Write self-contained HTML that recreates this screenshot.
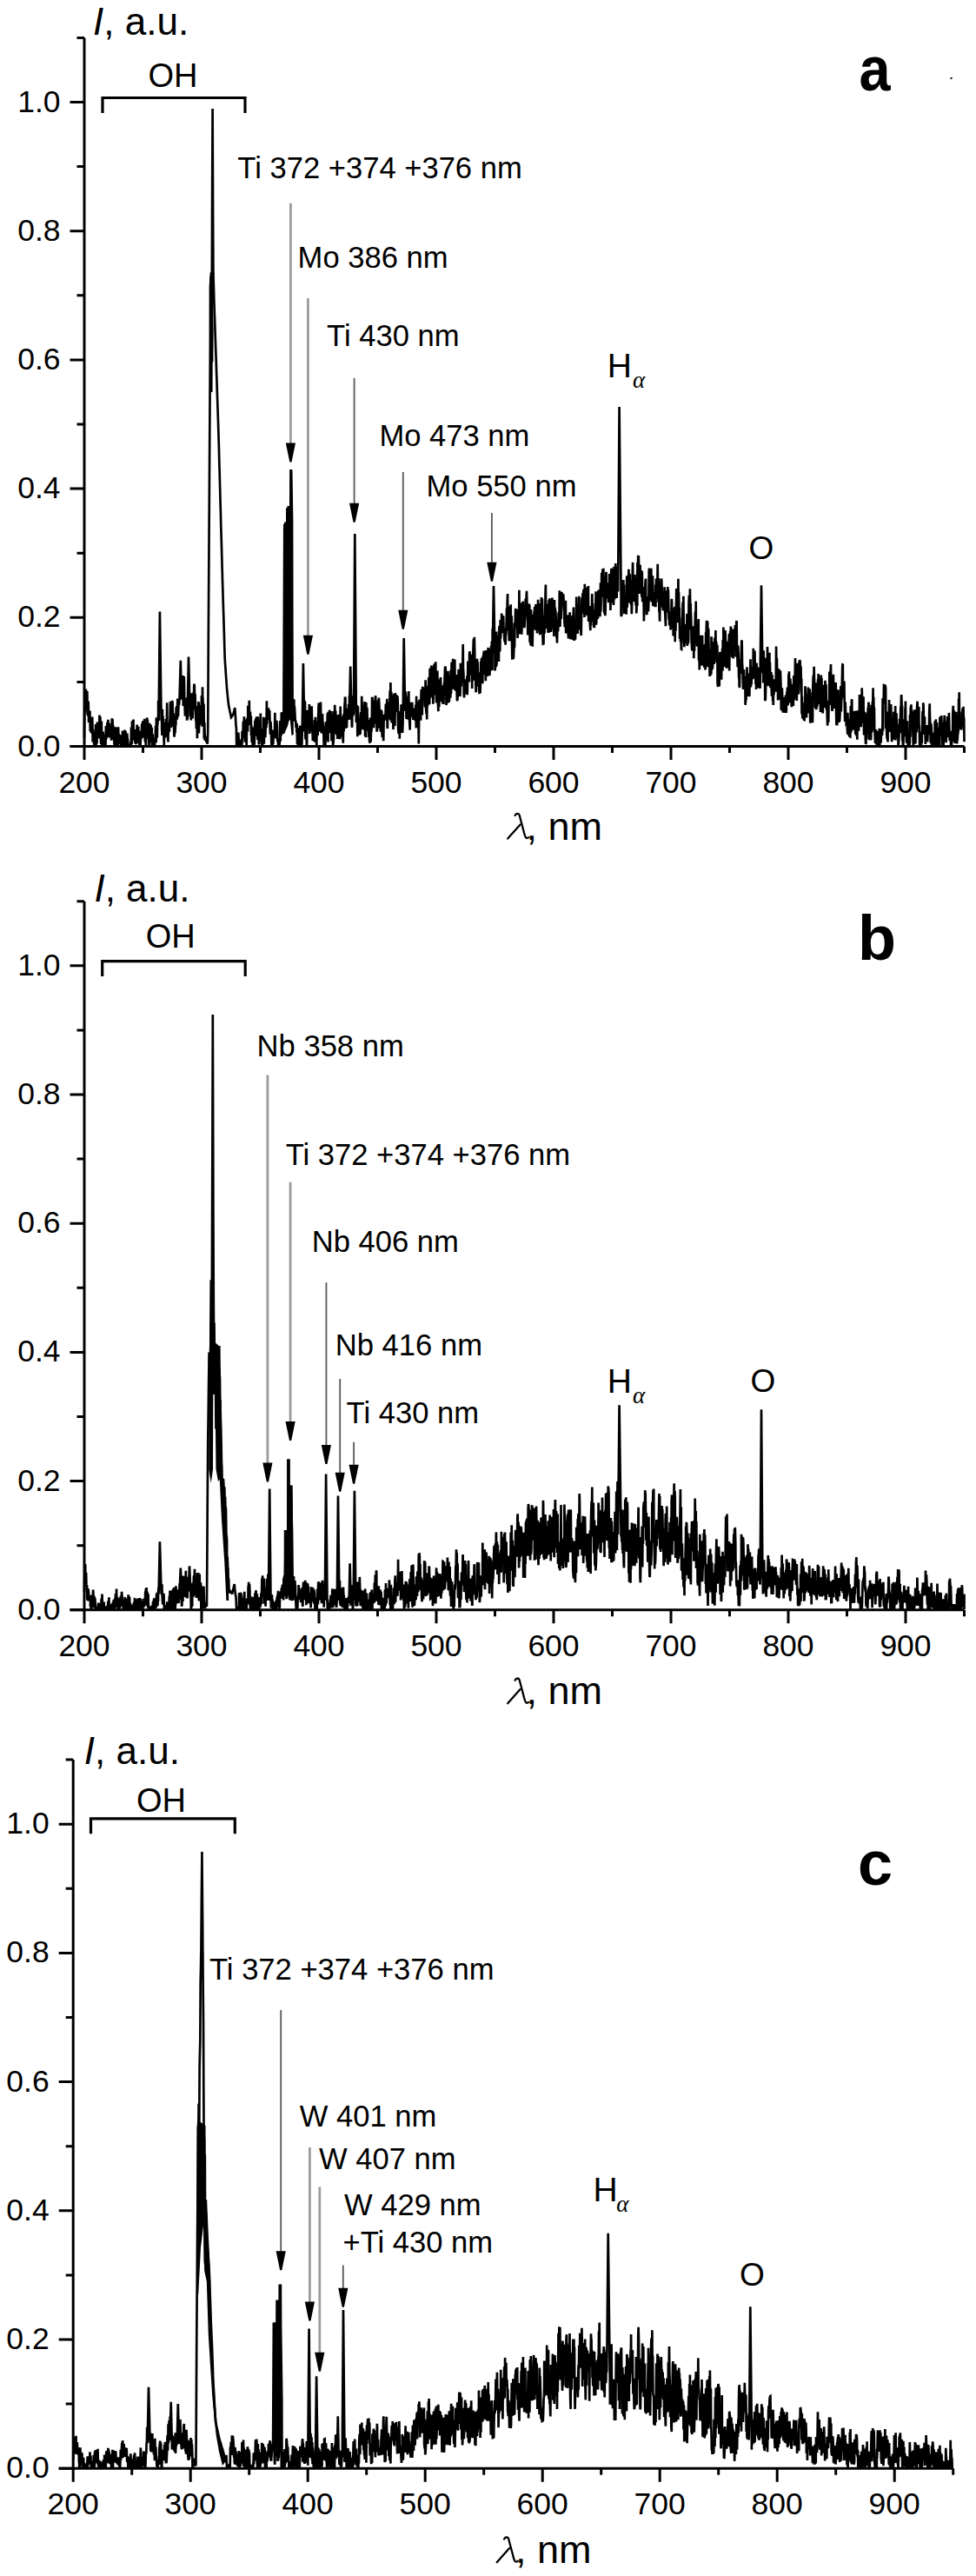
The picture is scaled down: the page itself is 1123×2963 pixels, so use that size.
<!DOCTYPE html><html><head><meta charset="utf-8"><style>html,body{margin:0;padding:0;background:#fff;}svg{display:block;}text{font-family:"Liberation Sans", sans-serif;}</style></head><body><svg width="1123" height="2963" viewBox="0 0 1123 2963"><rect width="1123" height="2963" fill="#fff"/><g stroke="#000" stroke-width="3" fill="none"><path d="M97 858.5V43.4M80.5 858.5H1109.5" /><path d="M80.5 858.5H97M88.5 784.4H97M80.5 710.3H97M88.5 636.2H97M80.5 562.1H97M88.5 488H97M80.5 413.9H97M88.5 339.8H97M80.5 265.7H97M88.5 191.6H97M80.5 117.5H97M88.5 43.4H97M97 858.5V874M164.5 858.5V866M232 858.5V874M299.5 858.5V866M367 858.5V874M434.5 858.5V866M502 858.5V874M569.5 858.5V866M637 858.5V874M704.5 858.5V866M772 858.5V874M839.5 858.5V866M907 858.5V874M974.5 858.5V866M1042 858.5V874M1109.5 858.5V866" /></g><g font-size="35.5" fill="#000"><text x="69.5" y="869.5" text-anchor="end">0.0</text><text x="69.5" y="721.3" text-anchor="end">0.2</text><text x="69.5" y="573.1" text-anchor="end">0.4</text><text x="69.5" y="424.9" text-anchor="end">0.6</text><text x="69.5" y="276.7" text-anchor="end">0.8</text><text x="69.5" y="128.5" text-anchor="end">1.0</text><text x="97" y="911.5" text-anchor="middle">200</text><text x="232" y="911.5" text-anchor="middle">300</text><text x="367" y="911.5" text-anchor="middle">400</text><text x="502" y="911.5" text-anchor="middle">500</text><text x="637" y="911.5" text-anchor="middle">600</text><text x="772" y="911.5" text-anchor="middle">700</text><text x="907" y="911.5" text-anchor="middle">800</text><text x="1042" y="911.5" text-anchor="middle">900</text></g><text x="107.1" y="39.9" font-size="44"><tspan font-style="italic">I</tspan>, a.u.</text><g transform="translate(583 965.6)" stroke="#000" fill="none" stroke-width="2.3" stroke-linecap="round"><path d="M9.6 -27.6C10.8 -30.2 13.6 -30.6 14.6 -28.2L20.6 -5.6C21.6 -1.6 23.2 -0.6 25.4 -2.4"/><path d="M15.6 -17.2L1.2 -1.0"/></g><text x="605.4" y="965.6" font-size="45">, nm</text><path d="M118 130V112.5H282V130" stroke="#000" stroke-width="3.2" fill="none"/><text x="199" y="99.8" font-size="38" text-anchor="middle">OH</text><path d="M97 848.8 97.3 818.7 97.7 819.6 97.9 814.7 98.2 811 98.3 814.9 98.8 803.8 98.9 792.5 99.3 815.9 99.8 803.1 100.1 801.8 100.3 794.9 100.7 822.5 101.1 816.1 101.3 823.4 101.3 819.9 101.7 806.6 102.1 830.9 102.4 829.6 102.7 819.3 103.1 823 103.4 817.4 103.8 840.4 104 841.1 104.3 838.3 104.4 830 104.8 825.2 105.1 842.9 105.5 830.1 105.7 843.9 106.2 824.5 106.5 840.5 106.7 853.6 107.1 838.9 107.4 851.6 107.7 847.6 108.2 855.5 108.3 847.3 108.5 857.8 108.7 842.1 109.2 857.8 109.4 854.8 109.9 857.8 110.1 833.1 110.4 857.8 110.8 851.5 111.1 848.1 111.5 855.6 111.9 830.5 112.2 834.7 112.5 841.2 112.8 843.9 113.1 848.8 113.6 847.8 113.9 838.4 114.3 830.6 114.5 822.6 114.8 842.8 115.3 824.4 115.6 832.8 115.9 850.4 116.2 854.7 116.5 856 116.8 829.6 117.2 853.3 117.7 857.8 117.9 846.3 118.2 857.8 118.6 841.6 118.9 851.2 119.2 845.4 119.6 852.2 120 850 120.2 856 120.7 855.9 120.9 844.8 121.2 857.8 121.5 857.8 121.9 834.9 122.4 850.2 122.6 843.5 123.1 847.1 123.3 833.8 123.6 830.6 124 848 124.4 827.8 124.8 842.5 125 835.5 125.3 840.5 125.6 831.6 126.1 848.5 126.3 837.7 126.6 835.3 127 847.3 127.3 838.2 127.8 833.7 128.1 851.7 128.4 842.8 128.8 826.2 129.1 829.9 129.5 827.1 129.8 836.2 130 845.4 130.4 834.4 130.7 850.7 131.1 845.5 131.5 856.7 131.8 852.5 132.2 851.5 132.3 857.8 132.7 857.8 133 838.3 133.6 836.5 133.7 857.8 134.1 857.8 134.4 851.9 134.7 857.8 135.2 857.8 135.5 843 135.7 857.8 136.1 836.2 136.4 848.3 136.8 844.7 137.1 845.9 137.4 848 137.8 855.8 138.2 849.1 138.5 856 138.8 847.1 139.2 857.8 139.5 857.8 139.8 845.4 140.2 852.4 140.5 857.8 141 840.6 141.1 853.8 141.5 840.6 141.9 843.2 142.3 854.6 142.6 846.7 142.9 852.4 143.1 857.8 143.6 839.6 143.9 857.8 144.2 856.3 144.6 841 144.8 846.2 145.3 857.8 145.6 846.4 146 857.8 146.3 843.6 146.6 849.8 147 850.5 147.2 855.7 147.6 857.8 147.9 857.8 148.3 857.8 148.6 857.8 149 857.8 149.3 857.8 149.6 857.8 150 857.8 150.3 852.8 150.7 857.8 151 836.6 151.4 850.9 151.7 856.2 152 829.3 152.4 845.1 152.7 844.5 153 833.1 153.5 827.6 153.6 838.4 154 840.3 154.4 851.7 154.6 849.9 155 839 155.4 854.7 155.8 846.8 156.1 854.9 156.5 854.9 156.8 847.9 157 854.1 157.4 840.7 157.7 833.6 158.1 844.8 158.4 851.8 158.7 850.4 159.2 835.8 159.5 855.3 159.8 854.6 160.1 846.8 160.5 857.8 160.8 840.5 161.1 857.8 161.4 857.8 161.8 851.4 162.2 846 162.5 843.1 162.9 849.8 163.1 834.3 163.6 832 163.7 843.9 164.2 831.1 164.5 829.3 164.8 848.2 165.2 847.2 165.5 846.4 165.8 848.4 166.3 826.8 166.5 843.5 166.9 853.2 167.2 843 167.5 851.6 167.9 857.8 168.1 847.7 168.6 832.2 169 835.5 169.2 825.4 169.5 843.6 169.8 827.8 170.2 849.4 170.7 848.3 170.8 841.6 171.3 851.6 171.6 857.8 171.8 842 172.2 831.8 172.5 848.1 173 843.6 173.3 846.4 173.6 833.9 173.9 843.4 174.4 854.1 174.7 836.7 174.9 857.8 175.3 845 175.7 845.4 176.1 857.8 176.2 857.8 176.6 850.8 177 851.9 177.3 857.8 177.6 854.5 177.9 857.8 178.3 853.1 178.7 849 179.1 834.7 179.4 850.2 179.6 854.2 179.9 825.6 180.4 833.8 180.7 848.6 180.8 848.1 181.1 831.5 181.3 833.4 181.8 824 182.1 826.1 182.1 806.1 182.4 813.5 182.6 828.9 183.9 703.6 185.6 828.9 185.7 821 186.1 826.9 186.2 838.5 186.5 845.9 186.9 815.7 187.1 843.8 187.5 823.5 187.8 838.3 188.1 844.5 188.4 844.9 188.8 857.5 188.8 856.7 189.1 831 189.5 846.4 189.8 837.8 190.1 848.5 190.6 842.1 190.8 827 191.2 829.7 191.4 836.6 191.9 831.1 192.2 808.2 192.5 845.7 192.8 833.7 192.9 846.2 193.2 849.4 193.5 853.5 193.8 830.9 194.1 842.3 194.5 837.2 194.9 841.4 195.2 833.8 195.6 826.1 196 806.8 196.3 836.5 196.6 834.6 196.9 836.8 197.2 828.1 197.6 829 197.9 820.1 198.2 805.9 198.6 807.9 198.9 835.4 199.2 830.7 199.6 827.8 199.6 820.3 200 831.8 200.3 844.7 200.6 847.6 201 838.3 201.2 828.9 201.5 843.1 202 832.6 202.3 834.5 202.7 813.5 203 822.7 203.4 812 203.6 827.5 203.9 826.1 204.3 803.4 204.6 820.3 204.9 809.7 205 824.1 205.3 815.6 205.6 809.6 206 811.1 206.4 805.8 206.5 806 207.8 759.9 208.9 804.8 209 790.8 209.3 797.6 209.7 791.9 210.1 790.6 210.5 777.1 210.8 812.1 211 779.1 211.4 788.1 211.7 778.1 212 785.4 212.2 803.4 213 823.7 213.8 804.2 213.9 817.5 214 802.7 214.4 821.4 214.7 802.4 215.1 828.8 215.5 813.2 215.8 827.4 215.9 808.1 217 755.5 218.4 812.6 218.5 809.8 218.8 824.3 219.1 814.7 219.6 806.2 219.8 828.4 220.1 810.8 220.5 797.2 220.8 814.1 221.3 822.4 221.5 826.4 222 816.2 222.2 817.5 222.5 800.9 222.9 796 223.2 795.3 223.2 789.8 223.5 786.7 223.8 788.9 224.2 811.8 224.5 798.1 224.9 810.6 225.3 829.2 225.5 812.1 225.9 837.9 226.3 823.3 226.7 831.8 226.9 849.2 227.2 835.6 227.7 828.9 228 837.5 228.3 808 228.6 807.5 228.9 843.5 229.4 822.2 229.7 834.2 230.1 817.2 230.4 810.9 230.6 829.1 230.9 822.1 231.4 832.1 231.7 817.8 232 799.9 232.4 827.7 232.7 835.8 233 790.3 233.4 832.1 233.4 802.2 233.7 811.7 234.1 826.7 234.5 809.4 234.8 849.8 235 847.9 235.3 830.9 235.8 851.9 236 846.6 236.4 848.5 236.6 847.9 236.9 851.1 237.1 851.5 237.4 852.4 237.8 853.3 238.2 854.1 238.3 854.6 238.8 855.5 238.8 854.8 239.1 844.9 239.2 843.7 239.4 811.3 239.8 734.1 240.1 688.6 240.5 620.4 240.7 591.1 241.1 525.2 241.4 477 241.8 411.8 242.1 358.2 242.3 339.8 242.5 328.5 242.7 317.6 242.8 342.2 243.1 434.5 243.2 450.9 243.4 400.7 243.7 339.8 243.9 300.9 244.1 234.4 244.5 144.1 244.6 124.9 244.8 175.5 245.1 252.4 245.4 310.2 245.6 318.5 245.8 326.1 246.2 339.8 246.2 342.1 246.5 350.6 246.9 363.1 247 364.3 247.1 368.3 247.6 383.2 247.9 392.3 248.2 401.2 248.6 412.3 248.9 422.5 249.2 431 249.6 442.3 249.8 450 250.1 458.9 250.6 473 250.9 482 251.3 494.8 251.4 498.4 251.5 501.6 252 518.3 252.3 532 252.7 543.9 253 556.9 253.2 563.3 253.5 575.9 253.9 588.9 254.2 602.4 254.5 613 254.9 625.8 255.2 637.3 255.7 656.7 255.8 658.4 255.9 664.3 256.3 677.3 256.6 687.5 257 700.7 257.4 712.4 257.6 720.8 258 733.1 258.2 741.5 258.6 754 258.7 757.7 258.9 760.9 259.3 766.2 259.6 771.2 260 777 260.3 781.3 260.7 786.3 261 791.8 261.1 792.4 261.3 794.1 261.6 797.3 261.9 800.6 262.4 805.4 262.7 808.1 263.1 811.1 263.1 811.3 263.5 813.1 263.7 814 264.1 816.3 264.3 817.2 264.7 819.1 265.1 820.8 265.5 822.6 265.7 823.6 266 825.2 266.1 825.1 266.3 824.7 266.7 824.1 267.2 823.4 267.5 822.9 267.8 822.5 268.2 821.9 268.5 821.5 268.5 821.1 268.8 820.3 269.2 818.4 269.5 817.5 269.7 816.4 270.1 814.8 270.3 814 270.5 816.9 270.9 823.4 271.2 829.4 271.4 833.1 271.9 837.4 272.2 857.8 272.4 846.3 272.5 851.5 272.9 856.8 273.2 857.8 273.6 843.4 273.8 849.8 274.3 842.5 274.5 847 274.9 852.4 275.2 857.8 275.6 857.8 275.9 851.2 276.3 857.8 276.6 857.8 276.6 857.8 277 857.8 277.1 856.7 277.5 850.5 277.9 855.8 278.3 857.8 278.6 841.1 278.9 854.3 279.2 849.5 279.6 839.4 279.9 829.5 280.3 848.9 280.6 845.6 280.9 824.2 281.4 838 281.6 839.3 281.9 841.4 282.3 853.6 282.7 827.7 282.9 831 283.3 842.8 283.7 857.8 283.9 835.7 284.4 826.1 284.6 839.5 285.1 841.4 285.3 813.7 285.6 813.9 286 821.7 286.4 824.9 286.8 805.7 287.1 834.3 287.4 826.5 287.8 821.1 288 818.5 288.3 834.2 288.8 823.4 289 845.9 289.3 834.1 289.7 854 290 848.6 290.3 841.4 290.7 857.8 291.1 857.8 291.5 836.4 291.8 854.3 292.1 857.8 292.5 853.2 292.8 856.7 293.1 836.2 293.4 829.9 293.7 829.8 294 828.3 294.5 828.6 294.7 846.7 295.2 824.2 295.4 837.7 295.7 845.2 296.1 837.8 296.5 851 296.7 824.2 297.1 840.1 297.4 833.4 297.8 854.9 298.2 856.3 298.4 851 298.8 849.2 299.2 834.7 299.6 829.7 299.8 820.6 300.1 852.3 300.5 841.7 300.8 838 301.1 848.6 301.4 857.8 301.8 857.8 302.1 857.8 302.5 850.1 302.9 854.1 303.2 824.7 303.5 837.9 303.8 855.8 304.2 836.5 304.5 842 304.9 826.5 305.3 848.2 305.6 839.8 305.9 830 306.2 825.2 306.5 837 306.9 806.2 307.2 832.6 307.6 819.6 307.9 815.7 308.2 822.2 308.7 828 309 814.3 309.3 825.1 309.7 821.4 309.9 820.9 310.2 817.1 310.7 838.3 311 844.8 311.4 829.8 311.7 833.7 312 843 312.4 857.8 312.7 847 312.9 855.3 313 857.8 313.4 857.8 313.6 857.8 314 839.6 314.3 855.9 314.6 847.5 315.1 846 315.4 844.6 315.8 841.1 316 844.5 316.4 819.7 316.6 836.7 317.1 845.7 317.5 849.4 317.8 829.1 318.2 830.1 318.4 829.1 318.8 838.7 319 847.9 319.4 852.9 319.7 849.6 320.1 857.8 320.4 856.9 320.7 856.3 321.1 857.8 321.1 857.8 321.5 857.8 321.8 853.9 322.1 834.3 322.4 829.1 322.7 852.7 323.2 831.9 323.6 846.1 323.8 820.5 324.2 819.5 324.6 823.8 324.8 832.1 325.1 826.8 325.1 842.2 325.5 824.2 325.8 821 326.3 843.7 326.4 822.2 327.3 602.9 328 823.1 328.2 813 328.4 825.4 328.8 836.1 329.2 824.1 329.6 835 329.6 824 330.4 584.3 331.2 825 331.5 829.2 331.8 810.7 332.2 810 332.5 828.1 332.9 819.8 333.3 804.9 333.4 826.2 334.5 539.9 336.4 827.9 336.6 821.6 337 817.4 337.4 815.8 337.7 820.7 337.9 807.7 338 829.6 338.3 804.3 338.7 827.7 338.9 812.7 339.4 821.4 339.7 829 339.9 829.3 340.3 829.5 340.6 837 341 835.5 341.4 842.5 341.6 832.1 342 856.2 342.4 843.4 342.6 856.5 342.7 843.1 343 843.8 343.4 857.8 343.7 837 344 839.5 344.5 843.6 344.8 857.7 345.1 834.6 345.4 844.7 345.8 857.1 346.1 844.4 346.3 857.8 346.7 842.6 347 857.8 347.4 854.6 347.7 841.7 348.9 762.9 350.3 841.5 350.4 812.2 350.7 806 351 809.3 351.4 848.1 351.8 850.5 352.2 845.8 352.4 841.6 352.9 857.8 353.1 856.9 353.5 827.3 353.8 816.9 354.1 838.5 354.5 820.8 354.9 823 355.3 818.8 355.4 833.1 355.9 810 356.2 843.9 356.6 838.8 356.8 823.2 357.3 840.9 357.5 815.7 357.9 816.3 358.2 817.2 358.6 812.4 358.9 822.5 359.3 842.4 359.5 838.4 359.9 852 360.3 841.7 360.6 835.1 361 835.2 361.3 836.3 361.6 853.1 362 827.9 362.2 843.2 362.6 853.8 362.9 824.8 363.2 835.3 363.6 833.8 364 836.5 364.2 857.4 364.6 838.1 364.9 829.6 365.3 830.4 365.6 845.9 365.9 833.2 366.3 819.2 366.7 808.6 366.9 836.4 367 819.5 367.4 840.4 367.6 834.8 368 825.3 368.3 841.5 368.7 828.5 369 807.6 369.3 834.7 369.7 841.7 370.1 843.2 370.4 823.9 370.8 830.3 371 821 371.3 833.1 371.7 830.7 372 839.8 372.4 846.6 372.7 857.8 373 851.2 373.3 836.1 373.8 850.8 374 835.3 374.4 857.8 374.8 836.8 375.1 830.1 375.4 850.8 375.7 845.1 376.2 848 376.4 841.5 376.8 820.4 377.1 831 377.5 853.6 377.8 818.8 378.1 832.6 378.5 825.2 378.7 822.1 379.2 816.7 379.5 822.1 379.8 843.3 380.2 823.7 380.5 827.6 380.9 838.6 381.1 818.1 381.5 852.3 381.8 835.7 382.2 820.7 382.6 839.2 382.8 846.5 383.1 857.2 383.6 854.5 383.9 850.5 384.1 818.1 384.6 834 384.9 839.9 385.2 810.7 385.5 820.8 385.9 834 386.2 817.5 386.6 844.3 387 824.7 387.2 825.8 387.5 845.6 387.9 823.3 388.3 849.9 388.7 844.8 389 822.6 389.4 837.3 389.7 821.7 390 829 390.3 832 390.6 826.2 391 848.9 391.3 850.1 391.7 812.6 391.9 825.4 392.4 847.4 392.6 830.9 393.1 824.1 393.4 831.8 393.6 841.6 394 846.1 394.4 841.6 394.8 854.8 395 842.8 395.3 821.6 395.4 840.8 395.6 841.1 396 828.1 396.5 811.5 396.8 807 397 801.6 397.4 803 397.8 838.1 398 826.9 398.5 822.8 398.7 818.6 399 836.9 399.3 826.3 399.4 824.3 399.7 814.8 400.1 821.8 400.3 822.8 400.8 827.2 401 809.9 401.5 823.8 401.7 827.9 402 800.2 402.1 814 403.2 766.6 404.3 814 404.5 828.4 404.8 822.9 404.8 834.5 405.1 836.7 405.5 802.2 405.8 808.2 406.2 818.9 406.4 823.4 406.8 800.1 407 821.2 408.3 614 409.9 830.9 410.1 826.9 410.6 811.3 411 813.3 411.3 847.2 411.5 830.8 411.6 845.4 411.9 812.2 412.2 838.8 412.6 838 412.8 840.5 413.3 826.5 413.6 845.2 414 843 414.2 826.7 414.6 844.5 414.9 823.1 415.3 819.2 415.7 835.4 415.9 838.6 416.2 800.8 416.7 814.9 416.9 822.8 417.2 836.8 417.7 819.3 418 839.6 418.3 814 418.3 825.7 418.6 831.3 419.1 835.6 419.3 811.9 419.7 807 420.1 846.8 420.4 827.4 420.7 846 421 848 421.3 808.1 421.7 838.7 422 830.4 422.4 813.8 422.7 827.5 423 840.8 423.4 829 423.7 828 424.1 836.4 424.4 848 424.6 837.1 425.1 852.3 425.3 853.1 425.6 854.8 426 825.4 426.4 853.5 426.7 851.3 427 838.6 427.4 841.6 427.8 831 428.1 803.2 428.5 803.2 428.7 836.9 429.1 835.4 429.4 832.4 429.8 807.3 430.1 837.3 430.5 814.6 430.7 818.9 431.2 805.8 431.4 832.6 431.8 802.4 432.2 800.3 432.4 830.6 432.7 807.9 433.2 820 433.6 841.6 433.9 834 434.1 839.8 434.6 809.7 434.7 836.2 435.1 804.9 435.5 831 435.9 802.6 436.3 809.1 436.5 815 436.9 837.7 437.3 823.4 437.5 830 437.9 841.7 438.2 816.6 438.7 817.5 438.8 829.9 439.3 818.1 439.5 841 439.9 848.2 440.2 844.3 440.6 838.1 440.7 827.9 440.9 831 441.2 852.2 441.6 828.9 442 822 442.3 828.8 442.6 826.6 442.9 821.6 443.4 828.1 443.5 822.9 443.9 809.9 444.4 810.7 444.6 812.4 444.9 819.7 445.3 803.7 445.6 836.3 445.9 838.1 446.4 808.1 446.6 825.2 446.9 822.8 447.3 826.3 447.8 824.8 448 824.3 448.3 811.7 448.7 794.2 449.1 828.5 449.4 785.1 449.8 821.8 450 808.9 450.3 795.7 450.7 831.5 451 813.9 451.3 820.2 451.6 824.6 452 811.7 452.5 839.1 452.8 833.9 453 801.4 453.4 798 453.8 833.9 454.1 810.9 454.4 835.1 454.8 798.1 455 797.4 455.5 809.2 455.8 818.9 456.1 809.9 456.4 813.9 456.7 800.7 457.1 800.9 457.5 801.8 457.7 807.2 458.1 838.2 458.6 843.8 458.7 829.9 459.1 837.8 459.4 822.5 459.8 849.8 460.1 838.8 460.6 817.7 460.7 832.2 461.1 843.1 461.2 836.1 461.6 810.2 461.7 820.3 462.1 816.7 462.5 838.1 462.7 814.5 463.1 843 463.5 832 463.7 819.7 464.7 734 466.1 817.9 466.2 800.8 466.5 797.3 466.8 795.7 467.3 803.6 467.5 826.9 467.8 809.4 468.3 819.8 468.6 816.1 469 827.4 469.3 801.2 469.6 823.7 469.9 813.1 470.3 795 470.6 828.1 471 827.5 471.2 830.5 471.7 839.6 471.9 822.9 472.2 824.8 472.7 823.2 472.9 807.7 473.3 822.4 473.7 820.1 474 808 474.3 809 474.7 823.1 475.1 819.8 475.4 827.9 475.6 821.5 475.9 820.3 476.3 817.2 476.6 827.9 477.1 814.5 477.4 827.6 477.6 827.7 478 828.5 478.3 810.6 478.8 837.4 479.1 800.7 479.4 834.7 479.8 818.5 480.1 834.4 480.5 818.4 480.7 812.8 481.1 807.1 481.8 855.5 482.4 806.3 482.8 804.9 483.1 809.8 483.4 824 483.8 815.9 484.1 828.8 484.5 801.9 484.8 793 485.1 799.4 485.4 798.9 485.8 822.4 486.2 789.8 486.5 806.1 486.9 792.1 487.2 799.1 487.5 790.5 487.9 792.6 488.2 794.8 488.6 800.1 488.9 812.2 489.2 812.8 489.6 782.2 489.8 788.7 490.1 813.7 490.6 820.8 490.8 790.1 491.2 827.6 491.5 805.2 491.9 802 492.1 812.3 492.6 789.1 492.8 800.1 493.3 779.1 493.6 790.7 493.9 793.4 494.2 810.2 494.6 768.7 495 803 495.3 794.3 495.5 775.2 495.8 775.1 496.3 765.6 496.6 768 496.8 772.3 497.3 781 497.6 801.6 497.9 785.5 498.4 809.7 498.6 801.8 498.9 766.3 499.3 781.3 499.6 763.6 500.1 799.4 500.3 776.9 500.6 797.5 501 771.5 501.2 761.3 501.7 787.9 502.1 807.5 502.1 797.2 502.3 808.4 502.7 795.3 503 779.2 503.3 771.4 503.7 805.7 504.1 812.4 504.3 818.3 504.7 809.5 505 811.8 505.3 812.9 505.7 781.3 506 804.7 506.4 806.8 506.8 805.2 507 779 507.4 794.8 507.7 798.8 508.1 788.7 508.4 795.3 508.8 803.8 509.1 798.3 509.4 809.4 509.7 802.1 510.2 788.2 510.4 809.9 510.8 790.1 511.1 786.2 511.4 785.6 511.8 775.1 512.1 766.7 512.5 767.5 512.8 770.7 513.2 783.2 513.5 811.1 513.9 803.8 514.1 787.2 514.5 808 514.9 788.2 515.2 808.8 515.5 771.9 515.9 802.2 516.1 793.1 516.6 807.1 516.9 806.6 517.2 796.1 517.5 793.9 517.9 776.8 518.3 802.8 518.6 770.8 519 798.1 519.1 790.8 519.6 761.7 520 783.3 520.2 792.9 520.5 783.2 520.9 762.2 521.2 757.8 521.5 792.7 522 772.9 522.3 778.9 522.6 790.8 522.7 773.8 523 780.9 523.3 758.5 523.6 794.3 523.9 778.8 524.2 788.5 524.6 790.4 525 795 525.2 776.1 525.5 792.2 525.9 804.9 526.2 806.1 526.7 800.3 526.9 777 527.3 789.1 527.7 769.9 527.9 800.7 528.3 787.3 528.7 777.5 528.9 771.2 529.4 801.1 529.7 787.9 529.9 762.8 530.4 772.3 530.6 789.5 531.1 772.3 531.4 763.5 531.7 785.1 532 763.6 532.4 762.5 532.7 741.1 533 769.3 533.4 774.5 533.7 797.8 534.1 802.5 534.3 787.8 534.6 781.5 535.1 796.7 535.3 781.2 535.8 798.4 536.1 790.7 536.5 781.3 536.7 791 537.2 787.3 537.4 777.5 537.7 799.3 538.1 779.6 538.4 760.6 538.8 763.1 539.2 780.8 539.4 762.7 539.9 784.5 540.1 752 540.6 749.3 540.7 776.4 541.1 768.5 541.5 757.9 541.8 756.7 542.1 760.7 542.6 756.2 542.8 752.8 543.1 773.5 543.2 792.1 543.4 752.9 543.9 783 544.2 757.8 544.6 743.3 544.9 735 545.1 748.3 545.5 744.9 545.8 732.8 546.2 750.7 546.6 782.4 546.9 760.2 547.1 778.7 547.6 795.5 547.9 795.8 548.1 786 548.7 778.6 549 757.8 549.2 774.2 549.7 761.6 549.9 780.8 550.3 779.1 550.6 788.8 551 789.5 551.3 779.6 551.5 798.2 552 786.2 552.3 773.3 552.6 797.3 553 779.1 553.3 760.8 553.7 765.1 554 756.7 554.3 781 554.6 767.2 554.9 778.7 555.3 786.2 555.6 754.4 556 773.9 556.3 752.8 556.8 749.9 557 748.6 557.3 773.2 557.8 751.2 558.1 776 558.4 758.1 558.8 783.2 559.1 747.9 559.3 778 559.8 748.7 560 753.5 560.5 778.1 560.7 759.1 561 755.4 561.4 752.3 561.7 744.9 562.1 777.5 562.5 770.2 562.8 772 563 759.7 563.4 777 563.7 760.8 563.7 772 564.1 771.1 564.3 746.2 564.8 755.1 565 742.9 565.5 748.2 565.9 737.5 566.1 754.8 566.5 771 566.7 723.1 566.8 751.4 568 674 569.4 748.6 569.6 771.4 569.9 756.7 570.1 739.2 570.5 755.3 570.8 767.5 571.1 726.4 571.4 765.1 571.8 755.9 572.2 744.9 572.5 756.4 572.9 737.2 573.2 749.8 573.5 731 573.9 761.1 574.2 726.3 574.6 719.8 574.8 749.3 575.3 747.8 575.7 712.9 575.8 734.5 576.2 732.2 576.6 719.7 576.9 720 577.2 705.6 577.7 713.2 577.9 712.5 578.4 728.2 578.6 725.3 578.9 708.9 579.2 709.2 579.5 722.9 580 723.3 580.4 736.9 580.5 726.2 580.9 738.6 581.2 722.8 581.6 741.7 581.9 731.8 582.4 727.7 582.7 714.5 583.1 699.3 583.4 725.5 583.7 693.1 584.1 683.1 584.2 713.7 584.3 716 584.7 720.7 585 697.6 585.4 715.5 585.8 737.2 586 736.4 586.3 725.2 586.8 737.1 587 697.3 587.3 726.9 587.7 695.3 588 737.5 588.5 730.5 588.7 708.3 589.2 750.7 589.4 758.8 589.8 732.7 590.2 736.3 590.4 748.4 590.8 757.8 591.1 752.7 591.4 743.6 591.8 716.6 592 744.9 592.4 721.5 592.8 713.4 593.2 699.9 593.5 706.7 593.7 720.5 594.2 716.5 594.5 715.6 594.8 710.8 595.1 714.6 595.6 734 595.8 700.8 596.1 720.1 596.6 703.4 596.9 717.1 597.2 708 597.4 678.7 597.8 729.4 598.2 701.5 598.6 727.6 598.9 693.4 599.2 704.3 599.6 706.5 599.8 707.2 600.2 729.8 600.5 721.8 600.9 697.7 601.2 718.8 601.6 691.7 601.9 696.7 602.3 712.5 602.6 709.8 602.8 710 603.3 722.1 603.6 718.9 603.8 714.8 604.3 708.3 604.7 688.7 604.7 707.4 605 701.5 605.2 692.3 605.6 687.4 606 679.8 606.4 694.7 606.5 705.3 606.9 701.7 607.3 730.5 607.7 702.7 608 726.6 608.3 694.7 608.6 695.4 609 709.6 609.3 695.4 609.6 737.8 609.9 738.7 610.1 723.2 610.4 735.6 610.7 742.6 611 701 611.4 725.8 611.8 707 612.1 732.2 612.3 719.9 612.7 743.8 613 722.4 613.4 718 613.8 719.1 614.1 720.9 614.5 703.7 614.7 722.9 615.1 698 615.3 715.8 615.8 724.3 616 712.7 616.4 695 616.6 725.1 617.1 698.3 617.4 718.9 617.8 712.6 618.1 728.4 618.4 723.6 618.8 700.9 619.1 689.8 619.5 723.5 619.8 707.7 620.1 699.4 620.5 701.1 620.7 694 621.2 730.3 621.4 704.2 621.8 719.8 622.1 729.2 622.4 710.9 622.9 687.1 623.3 718 623.6 722 623.9 688.6 624.3 708.1 624.5 732.1 624.8 740.7 625.1 740.6 625.5 740.4 625.9 707.8 626.2 712.5 626.5 728.7 626.9 713.5 627.2 707.7 627.6 681.1 627.9 672.5 628.2 719.6 628.5 719.7 628.9 694.6 629.3 723.1 629.5 711.6 629.9 704.5 630.3 712.7 630.5 727.5 630.7 724.2 630.9 713.7 631.3 728 631.5 690.2 631.9 719.2 632.4 688.2 632.6 717.6 633 704.5 633.3 689.4 633.5 700.9 633.9 726.7 634.4 723.6 634.6 718.9 635 712.9 635.4 687.5 635.6 716 636.1 715 636.4 708.2 636.7 721.7 636.9 694.7 637.4 731.9 637.7 699.2 638 690.1 638.3 718.1 638.6 698.7 638.9 702.7 639.3 703 639.8 712.1 639.9 720.2 640.4 733.5 640.7 729 641 739.6 641.4 715.5 641.7 714.7 642 726.4 642.5 718.8 642.7 704.6 643 708.6 643.5 708.3 643.8 679.3 644 706.4 644.5 720.9 644.8 683.5 645.1 685.4 645.4 693.9 645.7 712.2 646.1 682.4 646.4 680.9 646.8 690.7 647.2 685.9 647.5 684.9 647.7 696.9 648.1 683.2 648.5 688.4 648.7 698.2 649.1 703.3 649.5 715.9 649.9 721.4 650.1 690.8 650.5 710.5 650.9 690.7 651.1 724.7 651.2 728.4 651.5 707 651.8 713.7 652.1 726.7 652.4 724.4 653 707.6 653.1 717.2 653.6 720.7 653.8 730.3 654.1 734.4 654.6 726.5 654.9 730.9 655.2 716.1 655.6 704.4 655.9 711.4 656.2 735 656.6 734.3 657 722.1 657.2 711.4 657.6 732.3 658 731.7 658.3 721.8 658.7 708 659 719.2 659.3 736.1 659.6 708.5 660 698.5 660.3 709.2 660.7 736.9 660.9 728.4 661.2 718.8 661.6 719.7 662 735.6 662.3 725.6 662.6 718.7 663.1 712.5 663.2 686.5 663.6 699 664 707.5 664.2 728.3 664.7 727.7 665 695.9 665.3 707 665.7 701.8 665.9 724.6 666.4 685.8 666.6 710.1 667 709.2 667.4 706.8 667.7 710.5 668.1 705 668.4 727.6 668.7 731.1 669 712.8 669.4 691.1 669.6 687.5 670 703.6 670.4 683.2 670.8 682.7 671.2 684.1 671.5 677.9 671.7 705.7 671.8 692.7 672.1 681.5 672.5 710 672.8 671.8 673.2 702.5 673.4 681.4 673.8 705.3 674.2 701.5 674.4 704.7 674.7 676.6 675.2 707.8 675.4 687.3 675.9 675.2 676.2 702.4 676.4 708.2 676.9 674 677.1 714.9 677.5 703.4 677.9 712.2 678.3 697 678.6 710.3 678.8 716.8 679.3 725.2 679.5 700.1 680 719.6 680.2 697.8 680.4 701 680.9 705.5 681.3 683 681.6 699.2 681.9 699.9 682.1 694.1 682.6 715.2 682.9 703.7 683.2 721.7 683.5 716.9 683.9 722.2 684.3 701.1 684.5 711.7 685 717.4 685.2 707.2 685.6 680.2 685.9 718.5 686.3 715.2 686.5 680.4 687 708.9 687.2 688.5 687.6 711.1 688 711.6 688.3 685.7 688.6 678.9 688.9 704.4 689.4 694.6 689.6 708 689.9 678.3 690.4 709.2 690.7 691.3 691 670.3 691.3 703.5 691.8 677.8 692 687.1 692.2 663.3 692.3 658.9 692.7 674.4 693 672.6 693.4 654.6 693.8 657.8 693.9 681.4 694.4 653.7 694.7 685.2 695.1 702.4 695.4 702.3 695.7 706.2 696 703.6 696.4 708.1 696.7 699 697.1 667.6 697.5 657.7 697.7 688.5 698.1 681.7 698.4 675 698.8 682.1 699.1 683 699.5 670.2 699.8 675.8 700.1 693.1 700.5 675.9 700.9 681.9 701.1 659.9 701.4 668.4 701.8 681.4 702.1 686.3 702.4 702 702.8 677.5 703.2 658.6 703.5 654.1 703.8 654.5 704.1 664.7 704.4 685.1 704.9 693 705.2 692.3 705.6 685.3 705.9 696 706.3 686.7 706.6 651.8 706.7 662.7 706.9 664.4 707.1 689.5 707.5 673.8 707.8 673.3 708.3 648 708.5 660.2 708.9 679.2 709.2 681 709.6 688 710 671.1 710.2 666 710.5 680.1 710.9 652.1 711.1 680.4 712.6 468 714.6 683.1 714.6 706 714.9 709 715.4 707 715.6 696.4 716 697.6 716.4 679.5 716.7 698.4 716.9 676.6 717.3 667 717.7 687.9 718 672.4 718.4 705.9 718.6 698.2 719 705.2 719.4 688.3 719.7 692.9 720 688.5 720.3 698.7 720.7 706.7 721 672.7 721.3 662.3 721.7 698.7 722.1 670.8 722.4 690.1 722.7 668.1 723 675.3 723.1 667.1 723.4 654.8 723.8 692.4 724.1 659.8 724.4 693.5 724.7 660.8 725 693.3 725.4 692 725.7 682.5 726.1 695.8 726.4 668 726.8 706.2 727.2 693 727.4 679.1 727.7 661.9 728.1 646.9 728.4 665.9 728.7 681.9 729.2 680 729.5 662.3 729.9 692.1 730.2 661.1 730.5 667.2 730.8 678.5 731.1 668.3 731.6 696.3 731.9 670.7 732.3 705.5 732.5 700.6 732.8 684.1 733.2 658.2 733.3 697.1 733.4 647.2 733.8 669 734.2 639.8 734.6 639.7 734.8 639.1 735.3 658 735.5 682.9 735.8 672.3 736.2 667.8 736.6 649.7 736.8 665.4 737.3 657.4 737.5 666.6 738 656.1 738.3 686.7 738.5 679 738.8 657.3 739.2 692.3 739.6 687 740 675.1 740.3 683.4 740.7 696.1 740.9 714.5 741.3 681.9 741.6 678.5 741.9 682.9 742.2 680.1 742.6 668.8 743 665.6 743.2 685.5 743.4 689.7 743.7 689.5 743.9 706.2 744.3 707 744.7 688.4 745.1 686.8 745.4 687.3 745.7 689.3 746 703.4 746.4 690.3 746.7 657.1 747.1 653.6 747.5 686.2 747.6 682.7 748.1 691 748.3 684.6 748.7 681.1 749 687.4 749.3 653.7 749.7 692.6 750 675.3 750.5 691.2 750.7 680.4 751 662.3 751.3 697.3 751.8 681.1 752.1 684.8 752.5 687 752.7 690.4 753.2 684.5 753.3 697.6 753.9 695.7 754.2 672.6 754.4 698.3 754.9 670 755 665.6 755.5 679.8 755.7 688.8 755.7 679.1 756.2 673.3 756.5 661.6 756.7 648.7 757.1 679.8 757.6 693 757.8 692.3 758.1 665.1 758.4 703 758.8 703.9 759.1 714.7 759.5 691 759.9 695.7 760.2 674.5 760.4 678.5 760.8 672 761.2 665.5 761.5 675.3 761.9 683.8 762.2 698.8 762.6 681.3 762.9 702.2 763.1 694.3 763.6 687.2 763.9 680.6 764 689.8 764.3 701 764.6 675.3 765 702.7 765.2 704.2 765.6 712.4 765.9 720.3 766.3 689.5 766.5 704.8 767 699.7 767.2 680.9 767.5 679.6 768 695.8 768.3 675.1 768.6 697.1 768.9 678.6 769.4 702.2 769.6 712.4 770 703.6 770.2 719.4 770.7 711.2 771 718 771.4 709 771.6 724.5 772 711.6 772.4 708.3 772.8 688.8 773.1 691.9 773.3 712.2 773.6 721.9 774 709.9 774.2 699.6 774.4 711.1 774.7 731.4 775.1 714.2 775.3 719.4 775.6 700.2 776.1 713.9 776.4 697.8 776.7 738.3 777 708.1 777.4 726.1 777.6 712.6 778.1 688.4 778.3 676.9 778.8 715.8 779.1 679.4 779.4 716.1 779.7 705.3 780 708.3 780.4 665.8 780.8 714.8 781 680.7 781.4 702.1 781.8 698.8 782.1 734.8 782.5 724.4 782.7 724.6 783.1 738.5 783.6 725.8 783.8 746.5 784.1 746.7 784.4 726.9 784.5 740.3 784.9 710.3 785.1 718.7 785.5 695.5 785.8 692.4 786.2 698.9 786.4 685.7 786.8 728.3 787.1 720.6 787.4 744.2 787.9 725.1 788.2 723.6 788.6 722.1 789 737.1 789.1 718.1 789.6 740.1 790 738.9 790.2 719.4 790.5 705.9 790.9 743.1 791.2 722.7 791.6 723.9 791.9 740.1 792.2 735 792.5 695.4 792.9 684.7 793.3 701.3 793.5 715.7 793.9 677.2 794.4 704.9 794.6 724.2 794.7 694 794.9 705.8 795.3 713.7 795.6 735.6 796 743.6 796.3 748.4 796.6 734.7 797 748.5 797.3 730.6 797.7 720.2 797.9 721.8 798.3 757.2 798.6 724.8 799 748.6 799.4 731 799.6 723.8 800 703.9 800.3 727.8 800.5 716.4 800.7 691.4 801 733.2 801.3 721.5 801.6 718.8 802 743.6 802.4 736.2 802.6 719.7 803.1 737.6 803.5 728.4 803.7 711.9 804 759.4 804.3 738 804.8 770.5 805.1 757.7 805.3 744.2 805.7 730.8 806.2 754.1 806.5 744.8 806.8 749.9 807 764 807.5 765.2 807.7 745.9 808.1 730.7 808.4 762.6 808.9 741.8 809.2 748.4 809.5 760 809.8 743 810.2 767.7 810.5 758.8 810.8 753.6 811.1 741.1 811.6 770 811.7 770.1 812.2 727 812.6 745.9 812.8 722.4 813.1 713.7 813.5 756.1 813.8 745.3 814.2 714.5 814.5 767.2 815 722.5 815.2 725.1 815.5 741.3 815.9 761.4 816.3 748.6 816.6 778 816.8 764.6 817.2 777.5 817.6 761 818 747 818.3 775.8 818.6 732.3 819 770.9 819.3 764.3 819.6 757.2 820 769.2 820.2 738.3 820.5 743.2 820.9 749.8 821 760.3 821.3 752.8 821.7 764 822 748.5 822.3 733.6 822.7 736.7 822.9 755.3 823.4 725.1 823.7 755.9 823.9 738.3 824.3 739.4 824.6 762 824.9 744.6 825.4 744.2 825.6 786.4 826.1 790 826.4 784.3 826.6 789.9 827 758 827.4 786.9 827.7 789.6 828 769.8 828.3 750 828.7 751.7 829.1 750.2 829.3 779.4 829.8 775.9 830.1 781.7 830.3 752.9 830.8 764.7 831.1 745.8 831.5 771.7 831.7 736 832.1 765.4 832.4 721.5 832.8 759.6 833.1 748.7 833.4 730.9 833.7 740.9 834 767.1 834.5 725.1 834.8 736.2 835.1 736.8 835.5 751.9 835.9 768.7 836.2 747.9 836.4 764.2 836.8 738 837.1 762.1 837.5 744.9 837.9 751.6 838.1 768.6 838.5 744.8 838.9 729.1 839.2 771.4 839.5 746 839.8 739.6 840.2 726 840.5 750.6 840.8 720.6 841.2 723.6 841.5 752.6 841.5 723.6 841.8 741.1 842.3 755.9 842.5 754.4 842.9 749.4 843.2 726.8 843.6 757.6 843.8 731.6 844.2 723.8 844.5 742.1 844.8 723.4 845.3 735 845.6 745.4 845.9 719.1 846.3 738.1 846.5 755.6 846.9 749 847.3 714.9 847.6 714.1 847.9 742.3 848.3 750.7 848.7 767.2 849 742.6 849.3 743.7 849.7 753 850.1 779.7 850.3 760 850.6 788.5 851 791 851.3 766.1 851.7 771.6 851.9 758.5 852.4 774.7 852.6 765.9 853 747.1 853.1 745.5 853.3 736.2 853.7 739 854 763.3 854.3 765.9 854.7 781.7 855.1 792.9 855.4 788.9 855.8 786.8 856 770.1 856.5 787.3 856.7 785 856.8 784.8 857.1 778.4 857.4 778.9 857.6 810.8 858.1 804.3 858.5 805.3 858.8 781.9 859.2 791.5 859.5 767.2 859.7 782.2 860.1 800.9 860.4 789.9 860.8 781.4 861.1 791 861.2 774.4 861.5 796.3 861.8 790.1 862.2 801.1 862.4 798.1 862.7 774.5 863 781.4 863.5 758.2 863.9 790.5 864.1 785.3 864.6 787.4 864.8 779.6 865.1 774 865.5 767.2 865.9 773.4 866 776.6 866.3 768.3 866.5 781.2 866.8 745.8 867.2 759.6 867.5 764.1 867.8 768.1 868.2 767.4 868.4 748.4 868.9 778.8 869.3 772.3 869.5 787 869.9 780.3 870.1 793.1 870.5 762.5 870.8 771.8 871.3 768.4 871.5 767.6 871.9 791 872.2 769 872.5 787 873 767.7 873.2 788.1 873.7 788.9 873.9 791.8 874.3 776 874.6 791.9 874.7 770.7 876 673.2 877.4 773.3 877.7 774.1 878 758.3 878.2 785.5 878.6 748.2 879 780.8 879.4 756.3 879.7 761.1 880.1 783.5 880.3 805.9 880.8 804.6 881 795.4 881.4 780.6 881.6 788 882 761.6 882.3 757.1 882.6 781.5 883 744.1 883.4 766.5 883.6 787.1 884.1 788.8 884.4 774.6 884.7 773 885.2 785.3 885.4 750.7 885.7 783.4 886 762.2 886.4 791.1 886.8 784.7 887.1 788.7 887.4 773.1 887.7 793.4 888 800.8 888.5 776.2 888.7 786.7 889.2 806.8 889.5 804.9 889.8 811 890.1 781.4 890.5 799.3 890.9 782.3 891.1 792.7 891.4 782.5 891.7 781.6 892.2 791.4 892.6 795.7 892.7 784.8 892.8 771.7 893.1 743.5 893.6 779.4 893.9 756.9 894.3 785.1 894.5 769.7 894.8 768.7 895.1 805.6 895.5 776 895.8 770.6 896.3 769.8 896.5 771.8 896.8 795.4 897.3 804.6 897.6 796.7 897.9 771.3 898.3 783.2 898.6 793.2 898.8 815.8 899.3 816.8 899.5 801.2 899.8 791.4 900.3 803.2 900.6 813.4 900.9 819.4 901.3 818.4 901.5 801.9 901.9 814.3 902.4 804.7 902.7 819.7 903 805.5 903.3 810 903.7 819.9 903.9 799.5 904.4 802.2 904.7 820 905 807.7 905.4 795.5 905.7 804.9 906 790.6 906.3 810.9 906.7 809.9 907.1 800.8 907.4 775.3 907.7 797.9 908 772.3 908.3 808.4 908.7 793.2 909.1 796.4 909.3 780.5 909.7 789.9 910 788 910.4 795.2 910.8 813.2 911.1 788.4 911.3 789.2 911.7 787.3 912.1 798.5 912.3 800.3 912.8 812.1 913 785.4 913.2 802 913.3 777 913.7 805.2 914.1 793.7 914.3 795.4 914.7 778.9 915 757.1 915.5 793.7 915.7 785.2 916.1 791.2 916.5 801.5 916.8 806 917 763.1 917.6 798.2 917.8 780.9 918.1 776.8 918.5 782.9 918.8 798.8 919.2 776.4 919.5 760.8 919.8 782.6 920.2 759 920.6 760.9 920.8 767.4 921.2 774.9 921.5 766.4 921.9 796 922.2 780.5 922.5 821.2 922.9 800.5 923.3 826.5 923.5 819.2 923.8 813.1 924.3 810.9 924.6 812.6 924.9 827.7 925.1 827.8 925.6 828 925.9 808.1 926.3 822.4 926.5 789.3 926.8 800.3 927.2 815.6 927.6 803.5 928 825.4 928.3 803.9 928.5 819.8 929 798.9 929.2 811.2 929.6 799 929.9 790.6 930.3 812.4 930.7 820.2 931 819.5 931.3 793.7 931.7 792.3 931.9 811.8 932.3 831.6 932.7 812.7 932.9 822.1 933.4 827.8 933.6 805.4 933.7 800.8 934 815 934.3 813.5 934.7 796.1 935 831.2 935.3 790 935.7 778.9 936 776.3 936.4 786.7 936.6 766.8 937.1 786.9 937.3 794.9 937.7 790.3 938 812.7 938.5 814.7 938.7 794.7 939.1 792.4 939.3 816.2 939.8 785.2 940 813.4 940.4 810.4 940.8 797.6 941.1 781.2 941.4 795.4 941.7 775.1 942.2 784.3 942.4 796.6 942.7 783 943.1 809.6 943.5 799.8 943.7 796.1 944 819 944.5 811.8 944.8 776.6 945.1 809.4 945.4 779.9 945.9 819.2 946.1 811.4 946.4 812 946.8 820.5 947.2 787.8 947.5 810.2 947.7 792.7 948.2 814 948.6 791.7 948.8 795.8 949.2 797.7 949.5 782.7 949.8 806.4 950.2 789.7 950.5 787.2 950.9 815.5 951.3 815.8 951.5 806.2 951.8 825.4 952.2 834.6 952.6 812.9 952.9 809.5 953.2 831 953.5 810 954 809.1 954.2 801 954.3 772.4 954.5 810.9 954.9 800.8 955.2 803.5 955.5 775.5 956 764.1 956.2 783 956.6 811.1 956.9 792.2 957.2 814.2 957.5 817.8 958 811.2 958.3 785.1 958.6 792.2 958.9 775.7 959.3 799 959.7 811.5 959.9 802.4 960.3 814.9 960.7 802.1 960.9 794.3 961.4 795.7 961.7 785.1 962.1 818.5 962.4 833.9 962.6 806 963.1 834.4 963.3 827.5 963.7 831.8 964.1 805.7 964.4 793.3 964.7 822.1 965.1 807.2 965.3 831 965.7 806.4 966 829.8 966.4 823.3 966.8 812 967 811.4 967.4 789.1 967.8 818.5 968.1 806.5 968.5 803.7 968.7 792 969.2 767.4 969.4 764.5 969.8 764.7 970 799.3 970.5 800.3 970.8 799.9 971.1 789.9 971.4 783.5 971.7 805.9 972.2 830 972.6 807.2 972.9 814.5 973.2 826.5 973.4 822.5 973.8 835.4 974.2 833.9 974.5 823.6 974.6 832.7 974.7 835.2 975.2 844.8 975.4 819.8 975.8 836.6 976.3 826.5 976.5 839.6 976.9 846.2 977.2 846.5 977.6 846.8 977.8 847 978.3 847.3 978.5 841.2 978.8 812.1 979.2 842.4 979.5 835.8 979.9 805.8 980.2 804.3 980.5 827.7 981 837.6 981.3 831 981.6 820.6 982 839.6 982.3 832.9 982.7 836.6 983 818 983.3 828.8 983.7 837.8 983.9 834.9 984.3 844.5 984.6 817.5 984.9 842.4 985.4 846.2 985.5 838.7 985.9 826.3 986.1 831.6 986.3 850.8 986.6 828.2 987.1 819.3 987.2 817.4 987.7 837.6 988.1 840.8 988.2 828.2 988.8 833.8 989 799 989.3 813.2 989.8 830.7 989.9 805.2 990.3 814.2 990.6 836.1 991 827.3 991.3 823.8 991.7 791.2 992.1 807.3 992.4 831.7 992.7 803.6 993.1 829 993.5 801.2 993.7 823.9 994.1 845.6 994.5 830.8 994.8 818.8 995.1 831.2 995.5 823.8 995.8 849.5 996.1 855.8 996.4 855.4 996.8 835.8 997.2 850.4 997.5 823.6 997.9 819.7 998.1 843 998.4 842.7 998.7 814.9 999.1 814.3 999.5 807.7 999.9 836.3 1000.2 851.3 1000.4 824.4 1000.8 832.5 1001.2 814.7 1001.6 841.8 1001.9 851.3 1002.2 848.1 1002.5 810.7 1002.9 834.1 1003.1 842.2 1003.4 840.2 1003.9 806.8 1004.2 814.7 1004.6 791.2 1004.6 795.9 1004.9 816 1005.2 801.8 1005.5 819.4 1005.9 813.7 1006.2 840 1006.6 842.8 1006.9 851.3 1007.1 854.8 1007.5 846.2 1007.9 839.4 1008.3 841.3 1008.5 856.7 1008.9 849.6 1009.2 847.7 1009.6 856 1010 841 1010.3 852.2 1010.5 857.8 1011 841.1 1011.4 857.8 1011.6 853.9 1011.9 837.8 1012.3 857.8 1012.6 844.2 1013 841.1 1013.3 851 1013.6 854.5 1014.1 841.3 1014.3 845.7 1014.6 838.5 1015 846 1015.4 833.6 1015.6 803.3 1016 840.5 1016.3 806.8 1016.7 807.1 1017 788.2 1017.3 788.3 1017.8 794.9 1018.1 806.3 1018.4 788.7 1018.7 788.8 1019.1 791.5 1019.3 837.9 1019.7 830.8 1020.1 833.9 1020.3 845 1020.8 850.3 1021.1 847.7 1021.5 853.5 1021.8 818.7 1022.1 819.2 1022.5 830.1 1022.7 829.1 1023.1 805.1 1023.2 825.9 1023.4 809.9 1023.8 842.1 1024.1 823.4 1024.4 835.5 1024.8 841.9 1025.1 810.1 1025.5 820.5 1025.8 842 1026.2 853.2 1026.4 826.6 1026.8 845.9 1027.1 826.7 1027.4 834.6 1027.8 828.8 1028.1 835.6 1028.5 818.8 1028.9 850.8 1029.3 824 1029.4 834.9 1029.8 829.1 1030.2 812 1030.4 851.5 1030.9 841.6 1031.2 821 1031.5 820.5 1031.8 848.1 1032.1 844.5 1032.6 834.1 1032.9 833.6 1033.2 836.6 1033.6 857.8 1033.8 857 1034.2 852.1 1034.5 846.6 1035 826.7 1035.3 839.6 1035.5 843.3 1036 824.6 1036.4 812.8 1036.5 818.6 1037 801.2 1037.2 799.1 1037.7 813.4 1038 811.6 1038.3 852.2 1038.6 839.1 1038.9 857.8 1039.3 857.8 1039.6 845.7 1040 842.9 1040.4 833.7 1040.7 827.3 1041 845.5 1041.4 834.3 1041.5 813.8 1041.6 838.4 1041.9 806.6 1042.4 847.4 1042.6 838.1 1043.1 854.8 1043.3 850.3 1043.6 832.1 1043.9 829.3 1044.4 854.6 1044.8 857.8 1045 857.8 1045.4 843.9 1045.6 857.8 1046.1 843.6 1046.4 856.8 1046.8 854.4 1047 821.9 1047.5 847.8 1047.8 812.8 1048.1 836.5 1048.4 810.3 1048.7 824.8 1049.1 821.7 1049.5 837.9 1049.8 818.8 1050.1 832.3 1050.5 844.8 1050.8 857.8 1051.1 852.3 1051.5 821.4 1051.7 816.4 1052.1 855.6 1052.4 841.3 1052.9 839.6 1053.2 850.9 1053.4 855.4 1053.8 818.8 1054.2 819.4 1054.6 815.6 1054.7 842.4 1055.2 812.3 1055.6 806.7 1055.9 814.7 1056.2 836.5 1056.5 836 1056.9 831.3 1057.3 813.1 1057.5 835.4 1057.9 841.9 1058.1 857.8 1058.4 851.4 1058.8 857.8 1059.1 849.9 1059.5 850.8 1059.8 857.8 1060 857.8 1060.2 841.7 1060.7 855.1 1061 834.3 1061.2 835.7 1061.5 818.1 1062 844.9 1062.3 808.3 1062.6 812.6 1062.9 828 1063.3 834 1063.6 840.5 1064 824.2 1064.2 845.3 1064.5 840.6 1064.9 856 1065.3 834.6 1065.6 841.9 1066 841 1066.4 834.1 1066.7 847.1 1066.9 851.7 1067.2 853.3 1067.7 838.6 1068.1 839 1068.2 836 1068.6 842.3 1068.9 845 1069.3 816.5 1069.7 809.2 1070 826.4 1070.4 832.6 1070.8 854.7 1071 848.7 1071.3 832.2 1071.8 838.2 1072 857.8 1072.4 852.8 1072.7 857.8 1073.1 850.5 1073.4 857.8 1073.8 852.6 1074.1 842.5 1074.4 857.8 1074.8 857.8 1075 851.9 1075.5 853.6 1075.7 829.2 1076 855 1076.4 857.8 1076.8 827.4 1077.2 839.8 1077.4 844.7 1077.8 841 1078.1 830.9 1078.3 857.8 1078.4 857.8 1078.9 836.5 1079.2 856.3 1079.4 857.8 1079.9 844.7 1080.1 849.3 1080.6 857.8 1080.7 851.2 1081.2 840 1081.5 824.5 1081.8 832.2 1082.2 831.4 1082.6 824.9 1082.9 840.4 1083.2 823.1 1083.5 830.4 1083.8 857.8 1084.2 838.7 1084.5 833.4 1084.8 831.3 1085.2 850.5 1085.6 857.8 1086 836.9 1086.1 852.3 1086.5 830.6 1086.8 822.8 1087.3 832.4 1087.5 830.6 1087.9 830.7 1088.1 845.1 1088.6 854.2 1089 833.6 1089.2 845.8 1089.6 837 1090 848.3 1090.3 824 1090.6 845.3 1090.8 834.9 1091.3 831.4 1091.7 834.3 1091.9 819.9 1092.4 843.5 1092.7 851.9 1093 851.3 1093.3 845.8 1093.6 840.7 1094.1 857.8 1094.4 857.4 1094.6 850.2 1095 857.8 1095.3 844.9 1095.6 841.2 1096 852.8 1096.3 820.9 1096.6 814.3 1096.8 811.8 1097 842.1 1097.4 837.1 1097.7 827.5 1097.9 817.3 1098.3 854.4 1098.7 849.2 1099 836 1099.4 853.3 1099.8 853.1 1100.1 818.9 1100.5 836.2 1100.7 831.7 1101.1 855.4 1101.4 847.3 1101.7 851.8 1102 844 1102.3 843.8 1102.8 839.6 1103.1 803.7 1103.4 824.2 1103.7 796.3 1104.1 838.8 1104.5 828 1104.7 833.2 1105.1 832.6 1105.4 827.1 1105.7 832.1 1106.1 839.4 1106.4 838.3 1106.8 818.6 1107.1 834.8 1107.5 814.9 1107.8 822.9 1108.2 835.6 1108.5 812.8 1108.8 825.9 1109.2 825.4 1109.5 853.3" stroke="#000" stroke-width="2.7" fill="none" stroke-linejoin="miter" stroke-miterlimit="2.5"/><path d="M325.6 830 327 600.5 330.4 600.5 330.4 582 334.3 582 334.3 540.4 336.5 540.4 337.4 600 337.8 845 335.5 846 333.5 825 331 835 328 842 325.5 845Z" fill="#000"/><path d="M240.6 330 241.6 314 243.2 312 244.6 330 245.6 380 245.4 416 243 418 241.2 416Z" fill="#000"/><text x="273.3" y="205.2" font-size="34.6">Ti 372 +374 +376 nm</text><path d="M334.4 233.8V511.5" stroke="#9c9c9c" stroke-width="2.8"/><path d="M328.8 509.5H340L335.5 531.5H333.3Z" fill="#000"/><text x="342.6" y="308.4" font-size="34.6">Mo 386 nm</text><path d="M354.4 343V732.8" stroke="#9c9c9c" stroke-width="2.8"/><path d="M348.8 730.8H360L355.5 752.8H353.3Z" fill="#000"/><text x="376.1" y="398.3" font-size="34.6">Ti 430 nm</text><path d="M407.6 434.8V580.8" stroke="#5e5e5e" stroke-width="1.9"/><path d="M402 578.8H413.2L408.7 600.8H406.5Z" fill="#000"/><text x="436.4" y="512.8" font-size="34.6">Mo 473 nm</text><path d="M463.8 543V703.8" stroke="#5e5e5e" stroke-width="1.9"/><path d="M458.2 701.8H469.4L464.9 723.8H462.7Z" fill="#000"/><text x="490.5" y="571.4" font-size="34.6">Mo 550 nm</text><path d="M565.9 590V648.8" stroke="#5e5e5e" stroke-width="1.9"/><path d="M560.3 646.8H571.5L567 668.8H564.8Z" fill="#000"/><text x="698.8" y="434.4" font-size="39">H<tspan font-size="27" dy="11.5" dx="1" font-family="Liberation Serif" font-style="italic">&#945;</tspan></text><text x="876" y="643" font-size="37" text-anchor="middle">O</text><text transform="translate(988.5 104) scale(0.9 1)" font-size="72" font-weight="bold">a</text><circle cx="1094.5" cy="90" r="1.3" fill="#333"/><g stroke="#000" stroke-width="3" fill="none"><path d="M97 1851.8V1036.7M80.5 1851.8H1109.5" /><path d="M80.5 1851.8H97M88.5 1777.7H97M80.5 1703.6H97M88.5 1629.5H97M80.5 1555.4H97M88.5 1481.3H97M80.5 1407.2H97M88.5 1333.1H97M80.5 1259H97M88.5 1184.9H97M80.5 1110.8H97M88.5 1036.7H97M97 1851.8V1867.3M164.5 1851.8V1859.3M232 1851.8V1867.3M299.5 1851.8V1859.3M367 1851.8V1867.3M434.5 1851.8V1859.3M502 1851.8V1867.3M569.5 1851.8V1859.3M637 1851.8V1867.3M704.5 1851.8V1859.3M772 1851.8V1867.3M839.5 1851.8V1859.3M907 1851.8V1867.3M974.5 1851.8V1859.3M1042 1851.8V1867.3M1109.5 1851.8V1859.3" /></g><g font-size="35.5" fill="#000"><text x="69.5" y="1862.8" text-anchor="end">0.0</text><text x="69.5" y="1714.6" text-anchor="end">0.2</text><text x="69.5" y="1566.4" text-anchor="end">0.4</text><text x="69.5" y="1418.2" text-anchor="end">0.6</text><text x="69.5" y="1270" text-anchor="end">0.8</text><text x="69.5" y="1121.8" text-anchor="end">1.0</text><text x="97" y="1904.8" text-anchor="middle">200</text><text x="232" y="1904.8" text-anchor="middle">300</text><text x="367" y="1904.8" text-anchor="middle">400</text><text x="502" y="1904.8" text-anchor="middle">500</text><text x="637" y="1904.8" text-anchor="middle">600</text><text x="772" y="1904.8" text-anchor="middle">700</text><text x="907" y="1904.8" text-anchor="middle">800</text><text x="1042" y="1904.8" text-anchor="middle">900</text></g><text x="108.4" y="1036.7" font-size="44"><tspan font-style="italic">I</tspan>, a.u.</text><g transform="translate(583 1960.3)" stroke="#000" fill="none" stroke-width="2.3" stroke-linecap="round"><path d="M9.6 -27.6C10.8 -30.2 13.6 -30.6 14.6 -28.2L20.6 -5.6C21.6 -1.6 23.2 -0.6 25.4 -2.4"/><path d="M15.6 -17.2L1.2 -1.0"/></g><text x="605.4" y="1960.3" font-size="45">, nm</text><path d="M117.7 1123.1V1105.6H282.2V1123.1" stroke="#000" stroke-width="3.2" fill="none"/><text x="196.3" y="1089.6" font-size="38" text-anchor="middle">OH</text><path d="M97 1831.1 97.3 1814.2 97.6 1811.6 98 1804.3 98.2 1799.3 98.3 1811.7 98.8 1810.4 99.1 1808.7 99.4 1822.9 99.6 1823.9 100 1823 100.4 1839.9 100.6 1833.8 101 1826.7 101 1841.2 101.4 1840.2 101.7 1828.1 102.1 1833.3 102.4 1837.7 102.7 1840.9 103 1840.3 103.5 1840.1 103.7 1835.9 103.8 1835.7 104 1848.2 104.3 1843.9 104.8 1851.1 105.1 1851.1 105.4 1834.5 105.8 1841.4 106.1 1849 106.5 1847.9 106.8 1838.3 107.1 1828.6 107.4 1832.9 107.7 1849.5 107.8 1841.3 108.2 1843.3 108.5 1835.9 108.9 1849.5 109.1 1843.2 109.4 1838.2 109.8 1848.4 110.2 1851.1 110.5 1849.3 110.7 1849.5 111.3 1851.1 111.6 1851.1 111.9 1851.1 112.3 1851.1 112.5 1851.1 112.9 1846.4 113.1 1845.2 113.6 1843.7 113.9 1851.1 114.3 1849.1 114.6 1851.1 114.9 1851.1 115.3 1851.1 115.7 1851.1 115.9 1848.6 116.3 1851.1 116.6 1838.7 116.9 1848 117.2 1843.6 117.5 1833.5 117.9 1846.4 118.2 1851.1 118.6 1851.1 119 1851.1 119.3 1851.1 119.6 1842.6 120 1851.1 120.3 1851.1 120.6 1847.7 121.1 1851.1 121.3 1850.4 121.7 1851.1 122 1851.1 122.4 1851.1 122.7 1849.2 123.1 1847.3 123.3 1851.1 123.7 1851.1 124 1851.1 124.3 1841.6 124.7 1849.1 125.1 1851.1 125.4 1837.3 125.6 1851.1 126.1 1849.1 126.4 1849.5 126.7 1850.2 127.1 1851.1 127.3 1851.1 127.7 1851.1 128 1848.2 128.4 1844.9 128.8 1851.1 129 1851.1 129.5 1851.1 129.8 1842.8 130 1851.1 130.5 1851.1 130.7 1840.9 131 1840.1 131.4 1851.1 131.7 1847.2 132.1 1850.7 132.5 1837.8 132.8 1838.6 133.1 1833.1 133.4 1847.6 133.7 1847.6 134 1827.5 134.5 1848.6 134.8 1838.6 135.2 1837 135.4 1843.9 135.8 1851.1 136.1 1851.1 136.5 1849.6 136.7 1851.1 137.2 1851.1 137.5 1839.3 137.5 1848.6 137.8 1850.5 138.2 1838 138.5 1848.1 138.8 1835.9 139.1 1847.4 139.6 1840.8 139.9 1833.7 140.1 1830.9 140.2 1835.7 140.5 1835.7 140.9 1841.1 141.1 1840.4 141.5 1846.6 141.9 1851.1 142.2 1845.6 142.6 1851.1 142.9 1851.1 142.9 1851.1 143.2 1851.1 143.6 1851.1 143.8 1837 144.3 1849.3 144.6 1847 144.9 1840.1 145.2 1842.9 145.7 1842 146 1838.9 146.2 1849.6 146.6 1849.7 146.9 1844.1 147.3 1849.4 147.6 1834.3 148 1840.4 148.2 1835.6 148.7 1851.1 149.1 1837 149.3 1843.8 149.6 1848 150.1 1851.1 150.2 1844.4 150.7 1851.1 151.1 1849.4 151.3 1850.6 151.7 1847.8 152.1 1847.5 152.3 1851.1 152.8 1848.5 153.1 1851.1 153.3 1851.1 153.6 1851.1 154.1 1842.8 154.3 1850.4 154.7 1850.5 155 1839.4 155.3 1839.5 155.7 1851.1 156.1 1845.7 156.3 1844.7 156.7 1850.2 157.1 1840.2 157.4 1851.1 157.8 1850.7 158 1845.7 158.4 1838.5 158.7 1851.1 159.1 1838.9 159.5 1851.1 159.7 1851.1 160.1 1848.5 160.5 1838.2 160.8 1838.9 161.2 1850.7 161.5 1848.5 161.8 1845.9 162.2 1839 162.5 1846.3 162.8 1841.7 163.2 1845.1 163.6 1845.2 163.7 1846.2 164.3 1851.1 164.4 1848.8 164.8 1842 165.1 1846.4 165.5 1838.7 165.9 1848.4 166.2 1843.4 166.5 1841.1 166.9 1846.3 167.2 1830.4 167.6 1845.2 167.8 1827.3 168.2 1846.8 168.5 1826 168.9 1830.5 169.1 1838.9 169.6 1841.3 169.8 1831.5 170.1 1849 170.6 1833.6 170.9 1851.1 171.2 1846.8 171.6 1851.1 171.9 1851.1 172.3 1851.1 172.6 1848.8 173 1847.6 173.2 1851.1 173.5 1851.1 173.9 1851.1 174.3 1851.1 174.6 1851.1 175 1848.4 175.3 1846.4 175.6 1851.1 176 1842.5 176.3 1851.1 176.7 1840.9 176.9 1845.5 177.3 1838.3 177.7 1851.1 177.9 1851.1 178.2 1846.6 178.7 1850.4 179 1840.5 179.3 1839.9 179.7 1849.1 180 1835.3 180.3 1833.3 180.7 1832.9 180.7 1839 181 1834.7 181.4 1847.3 181.8 1830.9 182 1842 182.1 1832.9 182.4 1825.7 182.6 1833.3 183.9 1773.3 185.6 1833.3 185.8 1822.2 186.1 1834.5 186.2 1827.3 186.4 1822.2 186.8 1839.8 187.2 1845.4 187.4 1838.3 187.8 1839.6 188.1 1835.4 188.5 1832.9 188.8 1847.7 188.8 1851.1 189.2 1849.4 189.5 1851.1 189.7 1848.9 190.2 1851.1 190.5 1846.4 190.7 1851.1 191.1 1848.5 191.5 1851.1 191.9 1847.5 192.3 1843.3 192.5 1842.5 192.8 1851.1 193.2 1851.1 193.6 1851.1 193.8 1851.1 194.2 1851.1 194.5 1844.8 194.9 1835.9 195.3 1851.1 195.5 1829.6 196 1836.7 196.3 1835.3 196.6 1850 196.9 1851.1 197.2 1836.9 197.5 1829.9 197.9 1851.1 198.2 1851.1 198.3 1845.2 198.5 1849.4 198.9 1828 199.3 1830.7 199.6 1849.8 200 1826.1 200.3 1841 200.6 1850.6 201 1834.1 201.4 1840.5 201.5 1851.1 202 1845.4 202.4 1824.2 202.7 1831.9 203 1844.7 203.4 1834.4 203.7 1833.3 203.9 1828.3 204.2 1835.2 204.6 1842.6 205 1829.8 205 1840.5 205.3 1828.5 205.6 1843.8 206 1838 206.3 1839.6 206.6 1821.5 206.8 1827.6 207.8 1803.6 208.9 1825.3 209 1847.8 209.4 1845.6 209.7 1822.9 210.1 1838 210.4 1842 210.8 1815.4 211.1 1812.7 211.4 1834 211.8 1822.2 212.4 1837 213.1 1825.9 213.1 1815.7 213.4 1832 213.8 1806.8 214.1 1835.3 214.4 1824.3 214.5 1820.5 214.8 1836 215.1 1835.8 215.5 1814.4 215.7 1838.4 216.2 1813.7 216.4 1825.9 216.7 1815.8 216.9 1830.4 218 1801.4 219.3 1831.2 219.4 1821.4 219.8 1850.8 220.3 1848.1 220.5 1846.1 220.9 1832 221.2 1847.7 221.2 1835.5 221.6 1837.4 221.9 1820.6 222.2 1837 222.4 1834.5 223 1812.2 223.2 1820.1 223.6 1819 224 1804.8 224.2 1829.6 224.5 1833 224.9 1835.2 225.2 1825.9 225.5 1827.6 226 1837.9 226.3 1835 226.5 1830 226.9 1810.3 227 1809.3 227.3 1829.7 227.5 1824.7 228 1818.3 228.2 1809.1 228.5 1836.1 229 1841.5 229.3 1835.3 229.7 1810.4 229.9 1837.4 230.3 1827.3 230.7 1840.1 231 1820.3 231.4 1851.1 231.6 1850.4 232 1851.1 232 1847.5 232.3 1826.7 232.6 1833.2 233 1825.1 233.3 1850.3 233.7 1824.6 234 1846.2 234.4 1824.5 234.8 1837 235.1 1850 235.3 1844 235.7 1846.5 236.1 1850 236.3 1842.5 236.7 1844.2 236.7 1844.4 237.1 1845.7 237.4 1846.3 237.7 1847.4 237.9 1848.1 238 1841.6 238.5 1769.2 238.7 1733.3 239.1 1679 239.2 1666.5 239.3 1652.8 239.7 1628.1 240 1600.8 240.4 1572.7 240.6 1555.4 240.7 1558.3 241.1 1561.5 241.4 1607.3 241.7 1611.5 241.9 1571.5 242.1 1594.1 242.5 1516.3 242.8 1472.3 242.8 1505.2 243.2 1504.3 243.5 1489.1 243.6 1544.3 243.9 1466.6 244.1 1400.5 244.5 1283 244.8 1179.9 244.8 1167.1 245.2 1308.4 245.4 1391.7 245.8 1492.9 245.9 1510.8 246.2 1550.4 246.5 1521.4 246.9 1566.9 246.9 1554.1 247.2 1557.9 247.5 1571 247.8 1572.7 248.2 1602.1 248.2 1605.4 248.5 1643.6 248.9 1641.9 249.2 1598.6 249.5 1618 249.6 1614.8 249.8 1546.8 250.1 1623.1 250.5 1598.1 250.8 1638.8 250.9 1623.7 251.2 1601.5 251.5 1594.1 251.8 1572.4 252.3 1586.8 252.5 1573.5 252.5 1578 253 1586.3 253.2 1613.1 253.6 1610.4 253.6 1620.8 254 1636.5 254.2 1643.1 254.7 1667.4 254.9 1680.6 255.3 1689.3 255.4 1699.3 255.5 1709.4 255.9 1702.7 256.3 1714.6 256.6 1710.6 256.9 1700.9 257.3 1706.4 257.7 1725.9 257.9 1723.8 258.3 1710.3 258.3 1710.6 258.6 1723.8 259.1 1721.7 259.4 1737.7 259.7 1748.5 259.8 1733.9 260 1737.6 260.3 1762.5 260.7 1767.5 261.1 1771.3 261.2 1801.7 261.4 1798.1 261.7 1790.5 262.1 1802.8 262.4 1805.1 262.4 1803.2 262.8 1823.7 263.1 1815.5 263.4 1825.8 263.6 1832.6 264 1828.6 264.4 1829.6 264.5 1829.7 264.7 1830 265.1 1830.6 265.4 1831 265.8 1831.6 266.1 1831.8 266.5 1832.4 266.8 1832.9 267 1833.1 267.1 1833.3 267.5 1831.7 267.7 1830.6 268.1 1829 268.4 1827.7 268.7 1826.4 269.1 1824.7 269.5 1823 269.7 1822.2 269.9 1824 270.1 1826.7 270.5 1830.6 270.8 1832.7 271.1 1835.6 271.5 1836.5 271.8 1843.8 272.1 1851.1 272.4 1848.1 272.4 1849.3 272.8 1850.7 273.2 1851.1 273.4 1851.1 273.9 1851.1 274.2 1851.1 274.4 1851.1 274.9 1851.1 275.2 1832 275.2 1850.3 275.5 1833.9 276 1851.1 276.2 1832.6 276.6 1849.4 276.9 1831.7 277.3 1833.8 277.6 1835.7 277.9 1851.1 278.2 1851.1 278.5 1841.5 279 1845.8 279.3 1851.1 279.6 1837.9 279.9 1851.1 280.2 1848 280.6 1849.2 280.9 1834.2 281.3 1830.8 281.5 1842.5 281.9 1847.8 282.3 1843.3 282.6 1848.7 283 1851.1 283.2 1842.4 283.6 1851.1 284.1 1841.7 284.3 1838.7 284.7 1840.2 284.9 1844.4 285.4 1845.2 285.6 1824.8 285.9 1825.2 286.2 1819.8 286.6 1844.1 287 1822.1 287.4 1829.1 287.6 1839.4 288 1850.4 288.4 1850.9 288.8 1851.1 289.1 1843.8 289.3 1851.1 289.7 1851.1 290 1851.1 290.4 1836.6 290.7 1848.4 291.1 1844.5 291.4 1845.2 291.7 1837.8 292 1851.1 292.5 1851.1 292.8 1851.1 293 1851.1 293.5 1832.1 293.7 1851.1 294.1 1840.9 294.4 1829.2 294.9 1833.9 295 1851.1 295.4 1848.6 295.9 1833.4 296.1 1848.6 296.4 1851.1 296.8 1851.1 297.1 1851.1 297.5 1847.6 297.8 1837 298.2 1851.1 298.5 1842.9 298.9 1837.4 299.2 1843.8 299.4 1845.9 299.7 1846.3 300.1 1844.1 300.5 1832.2 300.8 1845 301.1 1831.1 301.4 1815.8 301.8 1819.2 302.1 1812.3 302.5 1831.3 302.8 1826.9 303.2 1836.3 303.6 1815.6 303.9 1844.7 304.2 1842.4 304.6 1827.9 304.8 1825.6 305.3 1837.7 305.6 1847.6 306 1827.6 306.2 1840.8 306.6 1828 307 1815.8 307.4 1834.8 307.7 1837.5 307.9 1830 308.4 1810.6 308.7 1820.1 308.9 1838.4 309 1840.9 310.2 1712.5 311.5 1840.8 311.6 1836.9 311.9 1849.8 312.2 1843.1 312.7 1834.8 313 1835.3 313 1848.7 313.3 1840.2 313.6 1840.6 314 1849.8 314.3 1850.1 314.7 1845.3 315.1 1851.1 315.3 1842.6 315.7 1851.1 316 1846.8 316.5 1851.1 316.7 1847.2 317.1 1843 317.4 1842.5 317.7 1842.6 318.1 1840.5 318.4 1851.1 318.7 1836.9 319 1838.8 319.3 1835.5 319.7 1834.8 320.1 1829.8 320.3 1839.1 320.7 1848.7 321.1 1832.1 321.4 1831.6 321.7 1851.1 322.1 1836.8 322.5 1838.9 322.7 1833.3 323 1839 323.5 1830 323.8 1838.5 323.9 1826.2 324.2 1837 324.5 1833.4 324.9 1822.7 325.2 1834.3 325.5 1834 325.9 1822.3 326.2 1840.5 326.4 1815.3 326.9 1824.9 327.2 1812.1 327.6 1835.7 327.9 1829.6 328.7 1760.7 329.3 1830.2 329.6 1839.1 330 1835.9 330.1 1835 330.5 1833.9 330.8 1830.7 331.9 1679.1 332.7 1831.5 333 1833.9 333.3 1840.3 333.6 1839.6 334 1835 334.2 1835.8 334.3 1832.1 335.1 1708.8 336.8 1833.1 337 1829.2 337.3 1840.9 337.3 1837.9 337.6 1826 338 1813.1 338.2 1825.9 338.6 1819.7 339 1838.2 339.4 1818.1 339.7 1838.3 339.9 1823.2 340.2 1838.9 340.8 1851.1 341.1 1851.1 341.4 1850.8 341.4 1845.4 341.8 1851.1 341.9 1837.6 342.4 1849.7 342.6 1837.6 343.1 1835.5 343.5 1832.4 343.6 1823.1 344.1 1830.1 344.4 1828.4 344.8 1838.8 345.1 1839.1 345.4 1838.6 345.8 1837 346.1 1842 346.5 1842 346.8 1832.4 347.1 1828.1 347.5 1828.3 347.7 1834.6 348.1 1846.7 348.4 1847.8 348.7 1826.6 349.2 1819.6 349.4 1824.9 349.7 1830.1 350.1 1835.9 350.5 1838.2 350.8 1840.3 351.2 1817.8 351.5 1825.7 351.9 1835.3 352.2 1820 352.4 1846.2 352.9 1840.7 353.2 1841 353.5 1825.9 353.8 1824.4 354.1 1821.3 354.5 1830.7 354.9 1824.8 355.1 1836.2 355.4 1844.3 355.9 1837.2 356.2 1834.7 356.5 1842.7 356.8 1831.8 357.2 1833.2 357.6 1849.4 357.9 1843.2 358.2 1825.3 358.6 1841.8 358.9 1832.9 359.2 1826.4 359.6 1836.1 360 1825.9 360.2 1839.2 360.6 1842.1 361 1839.7 361.3 1844.5 361.5 1828.3 361.9 1839.9 362.2 1837.8 362.5 1851.1 362.9 1839.8 363.4 1844.3 363.5 1849.3 363.9 1851.1 364.4 1851.1 364.7 1850.5 364.9 1832.8 365.4 1827.5 365.7 1840.4 365.9 1845.6 366.2 1819.7 366.6 1820.2 367.1 1822.6 367.4 1840.6 367.6 1832.2 367.9 1824.2 368.4 1829.1 368.7 1826.6 369 1838.7 369.3 1820.8 369.8 1821.5 370 1844.2 370.5 1819.4 370.7 1843.7 371.1 1817.7 371.4 1838.5 371.8 1824.4 372.1 1821.6 372.4 1829.7 372.7 1848.7 373.1 1825.5 373.4 1836.8 373.7 1839.1 373.9 1840.7 375.1 1695.4 376.5 1840.7 376.9 1851.1 377.2 1851.1 377.5 1851.1 377.8 1846.3 378.1 1851.1 378.4 1850.5 378.7 1843.3 379.1 1850.5 379.6 1845.2 379.8 1839.5 380.1 1847.6 380.5 1834.8 380.8 1846 381.2 1843.1 381.6 1836.6 381.9 1849.4 382.2 1830 382.6 1827.5 382.9 1832 383.2 1849.3 383.5 1832.8 383.8 1843 384.2 1839.1 384.5 1844.4 384.9 1832.7 385.2 1827.7 385.6 1845.1 385.8 1846.2 386.2 1828.9 386.6 1840.4 386.9 1847.9 387.2 1848.8 387.7 1837.8 387.8 1840.7 389 1720.6 390.4 1840.7 390.6 1821.7 391 1818.1 391.2 1842.9 391.6 1845.1 392 1846.9 392.2 1835.2 392.7 1826.9 393 1845.4 393.4 1826.2 393.7 1845.1 393.9 1849 394 1832.1 394.3 1826.6 394.7 1843.5 395 1825.6 395.3 1835 395.7 1835.4 396 1843.8 396.4 1851.1 396.6 1851.1 397.1 1841 397.4 1840.3 397.7 1845.3 398.1 1841.7 398.3 1842.6 398.6 1838 399.1 1851.1 399.5 1851.1 399.7 1847.7 400 1847.1 400.4 1842.7 400.8 1844.4 401 1836.3 401.4 1843.8 401.7 1840.2 402.6 1798.4 403.6 1840.1 403.7 1845.4 404.2 1845.1 404.4 1825.8 404.7 1823.1 405.2 1845.8 405.6 1828.3 405.8 1850.2 406.1 1851.1 406.5 1838.5 406.7 1840 407.9 1714.7 409.3 1839.8 409.5 1847.1 409.9 1824 410.2 1847.8 410.6 1828.4 410.9 1845.4 411.2 1847.2 411.5 1819.5 411.9 1842.6 412.2 1822.9 412.6 1834.6 412.8 1834.3 413.2 1832.6 413.7 1835.6 413.8 1813.9 414.3 1830.4 414.7 1846.8 414.9 1828.2 415.2 1834.7 415.7 1847.4 415.9 1829.7 416.3 1833.7 416.6 1836 417 1834.6 417.4 1847.2 417.6 1851.1 418 1831.4 418.3 1851.1 418.6 1829.6 419 1833 419.3 1846.8 419.6 1848.8 420 1837.4 420.2 1827.4 420.3 1843 420.6 1851.1 421 1839.1 421.4 1851.1 421.7 1833.6 422 1832.5 422.4 1848.5 422.7 1851.1 423.1 1851.1 423.4 1851.1 423.8 1851.1 424 1849 424.5 1843.2 424.6 1851.1 425 1839.6 425.3 1848.7 425.7 1832.6 426.1 1840.8 426.3 1831.3 426.7 1851.1 427.1 1840 427.4 1849.5 427.7 1828.6 428.1 1845.7 428.4 1851.1 428.8 1835.6 429 1833 429.4 1836.4 429.7 1843.6 430 1843 430.4 1842.6 430.9 1820.6 431 1843.2 431.5 1827.8 431.8 1811.4 432.2 1830.5 432.5 1823.3 432.9 1807.2 433.2 1806.5 433.4 1841.3 433.8 1840.9 434.2 1832.5 434.5 1841 434.9 1836.7 435.2 1835.1 435.5 1846 435.8 1824.2 436.1 1844.8 436.6 1846 436.8 1841.4 437.2 1828.6 437.5 1829.6 437.8 1840.6 438.1 1833 438.6 1832.7 438.9 1850.8 439.3 1851.1 439.6 1837.5 439.9 1851.1 440.2 1851.1 440.6 1848.6 440.7 1838.3 440.8 1851.1 441.2 1840.4 441.7 1849.3 441.9 1848.9 442.4 1843.3 442.6 1851.1 443 1828.2 443.4 1838 443.7 1847.2 444 1820.9 444.2 1834.5 444.6 1844.3 444.9 1835.4 445.2 1839 445.6 1833.2 446 1837.7 446.2 1826.7 446.6 1834 447 1837.4 447.4 1828.8 447.6 1833.6 448 1817.4 448.2 1828.9 448.8 1846.1 449.1 1840.2 449.4 1851.1 449.8 1822.9 450 1829.1 450.3 1844.4 450.8 1851.1 451.1 1848.9 451.4 1846.3 451.8 1851.1 452.1 1847 452.3 1835.8 452.8 1844.1 453 1826.3 453.4 1838.6 453.7 1845.2 454 1836.1 454.4 1818.1 454.8 1812.3 455.1 1842.9 455.5 1828.6 455.7 1820.2 456.2 1833.1 456.5 1819.5 456.8 1827.1 457.1 1835.6 457.4 1834.3 457.7 1825.6 458.1 1793.8 458.4 1829.8 458.8 1809 459.2 1813.2 459.4 1809.6 459.8 1811.9 460.2 1807.9 460.5 1809.3 460.8 1825 461.1 1840.6 461.2 1825.5 461.4 1818.5 461.9 1817.6 462.2 1838.4 462.4 1807 462.9 1834.4 463.1 1822.1 463.4 1830.2 463.8 1833.4 464.3 1840.7 464.4 1822.8 464.9 1851.1 465.2 1845.2 465.4 1844.2 466 1834.9 466.1 1848.6 466.6 1839.6 466.8 1818.9 467.2 1834 467.5 1819.7 468 1824.3 468.3 1824.1 468.6 1838.7 468.9 1844.8 469.2 1825.9 469.6 1832.5 469.9 1849.7 470.3 1826 470.7 1825.2 471 1833.5 471.3 1816.3 471.7 1840.6 471.9 1842 472.3 1832.9 472.7 1808 472.9 1831.8 473.3 1816.5 473.7 1800.2 473.9 1829.8 474.6 1848.8 475.3 1829.5 475.3 1799.6 475.7 1822.9 476 1842.1 476.4 1822.4 476.7 1847.1 477.1 1843.9 477.3 1824.6 477.8 1840.7 478 1832.2 478.4 1824.2 478.6 1839.9 479 1813.3 479.4 1823.9 479.7 1831.9 480 1836.1 480.4 1807.6 480.7 1827.8 481.1 1831.2 481.4 1817.7 481.7 1794.5 481.8 1787.5 482 1820 482.5 1786.2 482.8 1790.6 483 1805.6 483.5 1798.8 483.8 1826.5 484.1 1829.2 484.5 1824.5 484.8 1814.6 485.1 1836.9 485.6 1842.3 485.8 1818 486 1825.8 486.5 1833.5 486.7 1817.2 487.1 1839.4 487.5 1822.1 487.9 1826.9 488.2 1795.2 488.4 1798.5 488.9 1835.2 489.2 1796.6 489.5 1833.8 489.9 1809.3 490.1 1836.1 490.5 1814.7 490.8 1834.3 491.1 1828.4 491.5 1834.9 491.8 1809.5 492.2 1821.5 492.6 1814.1 492.9 1816.2 493.3 1832.5 493.6 1802.3 493.9 1801.7 494.3 1819.8 494.5 1814.1 495 1825.3 495.2 1838.9 495.7 1838.5 496 1815.4 496.3 1816.6 496.6 1835.4 497 1836.8 497.3 1831.4 497.6 1821.1 498 1847.1 498.4 1834.7 498.7 1828.8 499.1 1812.6 499.4 1844 499.6 1843.3 500 1837.8 500.2 1843.3 500.7 1832.1 500.9 1825.2 501.3 1844.4 501.7 1826.7 502 1805.9 502.1 1803.4 502.4 1835.8 502.6 1812.4 502.9 1808.1 503.4 1836.7 503.6 1812.8 504 1830.6 504.5 1814.8 504.6 1810.1 505 1834.7 505.4 1834.5 505.6 1821.3 506.1 1810.1 506.5 1812.9 506.6 1812 507.1 1814.2 507.4 1838.8 507.8 1819.9 508.2 1832.7 508.5 1827.5 508.7 1819.6 509.1 1825.1 509.5 1796 509.8 1796.2 510.1 1829.3 510.5 1819.2 510.7 1797.1 511.1 1797.6 511.4 1819.5 511.7 1827.9 512.1 1822.5 512.6 1816.8 512.8 1812.5 513.2 1801.6 513.4 1801.9 513.7 1819 514.1 1810.5 514.5 1817.6 514.9 1791.5 515.2 1811.3 515.5 1811.5 515.9 1829.3 516.1 1814.8 516.4 1796.6 516.8 1815.1 517.2 1823.9 517.6 1801.9 517.8 1830.4 518.2 1835.9 518.5 1815.4 518.9 1838.6 519.1 1847.9 519.6 1827.2 519.9 1819 520.2 1822.6 520.6 1845 520.9 1829.5 521.3 1835 521.6 1850.4 522 1849.6 522.3 1845.5 522.7 1848.1 522.7 1844.8 522.9 1834.2 523.3 1822.5 523.6 1828.1 524 1821.4 524.3 1801.7 524.7 1801.3 525 1782.3 525.4 1788.2 525.7 1786.2 525.9 1805.6 526.3 1800.7 526.6 1800.5 527 1835.7 527.2 1838.2 527.6 1827.2 528 1818.4 528.4 1831.8 528.6 1849.4 528.9 1843.1 529.3 1849.3 529.7 1838.5 529.9 1836.9 530.4 1840.3 530.7 1823.4 531 1808.5 531.3 1821.7 531.7 1813.1 532 1821.2 532.5 1788.1 532.6 1788.9 533 1823.7 533.3 1811.4 533.8 1800.4 534 1831.1 534.4 1822.3 534.6 1813.9 535.1 1795.1 535.4 1822.2 535.8 1798.9 536 1823.4 536.5 1840.2 536.7 1829.8 537.1 1828.3 537.5 1843.5 537.8 1811.4 538.2 1815.3 538.5 1837.5 538.8 1801.6 539 1795 539.5 1834.3 539.9 1830.4 540.2 1838.8 540.4 1828.2 540.9 1838.3 541.2 1816 541.4 1816.4 541.7 1841.8 542.1 1826.2 542.6 1840.8 542.9 1818.3 543.2 1847.1 543.2 1819.9 543.5 1847 543.8 1812.2 544.2 1815.7 544.5 1814.7 544.8 1829.7 545.1 1832.8 545.6 1801.2 545.9 1799.3 546.2 1829 546.5 1832.9 547 1834.8 547.1 1829 547.5 1840.1 547.9 1837.9 548.2 1835.1 548.6 1835.4 548.9 1826.8 549.2 1796.9 549.6 1812 550 1812.4 550.3 1823.7 550.7 1809 550.9 1797.2 551.3 1828.6 551.6 1829.6 551.9 1843.2 552.3 1838.1 552.7 1831.8 553 1822.8 553.4 1812.3 553.7 1836.5 553.9 1823.1 554.4 1821.3 554.6 1822.8 555.1 1816.3 555.3 1774.6 555.7 1820.2 556 1785.9 556.3 1823.6 556.7 1785.3 557.1 1809.8 557.3 1795.9 557.8 1782.2 558 1828.3 558.5 1786.9 558.7 1811.5 558.9 1795.1 559.4 1820.3 559.6 1785.5 560 1796.5 560.4 1801.5 560.8 1805.1 561.1 1793.9 561.5 1821.3 561.7 1793.3 562 1815.7 562.3 1822.2 562.8 1789.7 563.1 1832.9 563.5 1807.7 563.7 1824.1 563.7 1796 564.2 1793.4 564.4 1791.7 564.7 1825.8 565.2 1794.4 565.4 1811.8 565.9 1797.8 566.2 1838.5 566.5 1814.7 566.8 1821.2 567.1 1816.3 567.4 1815.9 567.9 1803.3 568.2 1787.4 568.5 1778 568.8 1805.4 569.2 1779.2 569.6 1802.9 569.9 1775.3 570.2 1805.3 570.4 1792.2 570.9 1762.4 571.1 1771.4 571.5 1780 571.9 1773.4 572.2 1791.4 572.4 1811 572.8 1776.7 573.1 1797.9 573.5 1803.3 573.9 1794.4 574.2 1822.1 574.5 1806.8 574.8 1804.7 575.2 1786.4 575.6 1808.3 575.8 1787.7 576.3 1783.2 576.7 1808.8 576.9 1761.7 577.2 1791.8 577.7 1767.7 577.9 1772.3 578.3 1785.8 578.7 1798.6 578.9 1781.7 579.3 1784.1 579.7 1820.5 579.9 1806.3 580.3 1764.2 580.6 1805.9 581 1762.4 581.3 1781.1 581.7 1806.5 582 1792.5 582.3 1809.9 582.6 1773.3 583.1 1807 583.4 1816.1 583.6 1822.2 584 1812.7 584.2 1812.8 584.4 1832.1 584.6 1808.1 584.9 1789.6 585.3 1817.3 585.7 1791.4 585.9 1829 586.4 1829.9 586.6 1805.7 587 1790.6 587.3 1806.7 587.7 1762.4 588 1793.4 588.4 1795.9 588.7 1754.3 589.2 1806.8 589.5 1794.8 589.8 1771.8 590.2 1823.7 590.4 1803.9 590.7 1825 591.1 1802.5 591.5 1799.8 591.8 1778 592.1 1791.9 592.4 1814.3 592.9 1788.9 593.1 1763.1 593.4 1759.9 593.8 1789.9 594.2 1764.4 594.5 1784.3 594.8 1790.8 595.1 1766.8 595.4 1743.6 595.7 1741.3 596.1 1786.8 596.5 1750.7 596.8 1758.7 597.1 1803.5 597.6 1776.6 597.8 1796.3 598.2 1755.3 598.6 1791 598.9 1755.7 599.2 1766 599.5 1763.2 599.8 1756.3 600.3 1773.4 600.5 1783.1 600.9 1781.7 601.1 1789.7 601.7 1762.7 602 1781 602.2 1814.8 602.6 1788.2 603 1773.3 603.3 1802.4 603.6 1787.5 604 1814.9 604.3 1762.4 604.6 1799 604.7 1781.6 605 1750.9 605.2 1786.5 605.6 1748.5 606 1786.9 606.4 1746.6 606.6 1762.5 607 1789.7 607.2 1778.6 607.7 1735.3 608 1730.1 608.3 1731.8 608.7 1745 609 1787.3 609.3 1736.7 609.7 1790.1 610 1788.1 610.1 1794.5 610.4 1771.1 610.7 1775.7 610.9 1787.9 611.4 1782.9 611.7 1744.8 612 1732.3 612.3 1731.4 612.6 1771.8 613.1 1750.5 613.4 1763.2 613.7 1761.4 614.1 1758.3 614.4 1737.9 614.6 1734.6 615 1794.8 615.4 1767.7 615.8 1782.5 616.1 1757.6 616.4 1793.8 616.7 1765.5 617.1 1732.5 617.4 1755.2 617.8 1770.7 618 1764 618.5 1749.5 618.9 1750 619.1 1785.7 619.5 1800.3 619.9 1764.8 620.2 1751.2 620.5 1792.9 620.7 1761.9 621.1 1767.2 621.5 1761.3 621.7 1788.8 622.2 1776.4 622.6 1745.6 622.8 1754.4 623.1 1787.4 623.5 1753 623.8 1768 624.3 1785.7 624.6 1763.6 624.9 1725.9 625.1 1728.1 625.6 1792 625.9 1762.5 626.2 1794.3 626.5 1775 627 1752.6 627.2 1762.4 627.5 1742.1 627.9 1791.9 628.3 1755.5 628.6 1792.9 628.9 1770.6 629.3 1789.8 629.6 1787.2 630 1786.2 630.3 1788.6 630.7 1749.2 630.7 1777.6 630.9 1778.8 631.2 1778 631.5 1765 631.9 1781.3 632.2 1781.2 632.6 1742.4 633 1788 633.2 1752.8 633.7 1795.4 633.9 1768.7 634.2 1780.4 634.6 1751.2 635 1744.7 635.3 1783.1 635.7 1779.6 635.9 1784.6 636.2 1781.7 636.6 1785.7 637 1736 637.3 1780.5 637.7 1791.2 638.1 1762.2 638.3 1780.7 638.7 1729.6 638.9 1725 639.3 1769.5 639.6 1758.5 640 1738.2 640.4 1742 640.7 1748 641 1785.9 641.4 1760 641.7 1741.5 642 1799.1 642.5 1773.3 642.8 1775.6 643 1793.4 643.4 1804.1 643.7 1793.5 644.1 1775.6 644.4 1806.6 644.7 1785.5 645.1 1783.8 645.5 1731.1 645.8 1781.4 646.2 1800.7 646.4 1769.3 646.7 1784.9 647 1797.5 647.4 1781.5 647.8 1804 648.1 1799.4 648.4 1795.7 648.9 1771 649.2 1786.5 649.4 1730.6 649.8 1752.9 650.2 1775.2 650.6 1770.8 650.9 1749.9 651.1 1777.5 651.2 1803 651.6 1800.2 651.8 1793.7 652.2 1751.4 652.4 1752.4 653 1741.9 653.3 1748.1 653.5 1797.1 653.9 1741 654.2 1736.6 654.5 1760.5 654.9 1785.7 655.2 1744.3 655.5 1760.2 656 1779.3 656.2 1736.2 656.5 1780.2 656.8 1736.7 657.2 1785.4 657.5 1772.3 658 1769 658.2 1783.8 658.6 1772.9 659 1785.4 659.3 1806.3 659.5 1809.1 660 1815.4 660.2 1781.4 660.5 1772.4 660.9 1806.6 661.3 1816.7 661.7 1806.5 661.9 1820.3 662.3 1800.4 662.6 1788.5 663 1809 663.2 1756.8 663.7 1787.8 664.1 1771.9 664.3 1767 664.8 1746.9 665.1 1790.2 665.4 1740.9 665.7 1780.3 666.1 1760.3 666.4 1760.1 666.7 1718 667 1727.3 667.5 1782.2 667.8 1757.6 668 1751.4 668.4 1756.8 668.7 1770.7 669 1768.9 669.5 1752.8 669.6 1788.9 670.1 1773 670.3 1768.4 670.8 1743.7 671.2 1798.1 671.4 1781.2 671.7 1784.8 671.8 1782.9 672.2 1765.8 672.4 1789.7 672.8 1785.8 673.1 1744.2 673.5 1774 673.7 1767 674.1 1789.2 674.4 1787.8 674.9 1787.6 675.2 1795.6 675.5 1764.4 675.8 1803.5 676.2 1763.9 676.5 1777.7 676.8 1807.9 677.2 1772.9 677.5 1799.5 677.9 1796.6 678.1 1791.7 678.5 1803.5 678.9 1760.4 679.1 1767.5 679.6 1810 679.8 1761.2 680.1 1743.8 680.6 1726.7 680.8 1767.8 681.3 1710.6 681.6 1756.3 681.9 1750.3 682.3 1750 682.5 1753.4 682.8 1728.5 683.2 1786.4 683.6 1775.9 684 1748.6 684.3 1796.6 684.6 1800.9 684.9 1765.4 685.3 1806.5 685.7 1800.3 685.9 1796.3 686.3 1777.9 686.7 1754.8 686.9 1776.1 687.3 1781.9 687.7 1775.9 688 1772.6 688.3 1771.5 688.6 1728.6 689 1737.3 689.4 1766 689.7 1755.4 690.1 1771.5 690.3 1757.4 690.7 1785.3 691.1 1737.7 691.4 1786.2 691.7 1765.7 692 1737.1 692.2 1769.8 692.3 1769.6 692.8 1759.6 693 1722.5 693.4 1763.9 693.7 1739.3 694 1774.3 694.3 1739.4 694.7 1772.1 695 1740.6 695.5 1791 695.7 1770.6 696.1 1767.1 696.4 1736.7 696.7 1771.6 697.1 1717.9 697.3 1742.3 697.7 1761.3 698.1 1717.1 698.4 1730.1 698.8 1772.2 699.2 1717.3 699.4 1760 699.7 1709.4 700.1 1711.6 700.5 1718.5 700.8 1781 701.2 1760.4 701.5 1792.9 701.8 1789.3 702 1785.7 702.5 1788.5 702.9 1746.1 703.2 1775 703.5 1797.2 703.9 1749.7 704.2 1758.8 704.6 1796.7 704.9 1762.9 705.2 1785.2 705.5 1771.2 705.9 1782.3 706.2 1795.4 706.5 1771.5 706.7 1762.1 707 1782.6 707.3 1786.5 707.6 1738.8 707.8 1743.9 708.1 1786.4 708.5 1754.4 708.8 1775.9 709.2 1715.4 709.5 1779.2 709.9 1783.1 710.2 1730 710.5 1704.1 710.8 1731.9 711.1 1765.1 712.6 1616.2 714.6 1767.4 715 1764.7 715.3 1773.5 715.7 1753.7 716.1 1782.7 716.4 1736.4 716.6 1787.1 717.1 1773.9 717.3 1779.5 717.7 1799 718 1803.5 718.3 1772.7 718.8 1781.2 719.1 1751.3 719.3 1724.4 719.7 1783.4 720.1 1781.8 720.3 1722.2 720.7 1768.7 721 1742.5 721.3 1784.9 721.7 1727.6 722 1734.5 722.3 1776.6 722.7 1771.7 723.1 1759.7 723.4 1809.8 723.8 1782.1 724 1819.8 724.4 1767.5 724.8 1811.2 725.2 1807.1 725.5 1820.8 725.8 1759.6 726 1805.2 726.4 1776.3 726.8 1765.1 727 1751.6 727.1 1801.1 727.4 1788.3 727.9 1781.5 728.2 1788 728.4 1794.1 728.8 1777.3 729.2 1770.2 729.4 1799.9 729.8 1752.6 730 1801.1 730.5 1799.6 730.8 1753.2 731.1 1780.8 731.6 1781 731.8 1763.7 732.2 1797.7 732.6 1777.9 732.8 1786.9 733.1 1786.9 733.5 1757.4 734 1773.7 734.2 1756.4 734.6 1733.8 734.9 1771.6 735.2 1790.2 735.5 1792.6 735.9 1769.4 736.2 1768 736.5 1814.2 736.9 1820.3 737.2 1799.7 737.6 1794.6 738 1768.4 738.2 1798.3 738.6 1763.6 738.8 1755.5 739.2 1802.6 739.5 1758.6 740 1775.8 740.3 1733.6 740.7 1730.6 740.9 1727.4 741.3 1747.2 741.7 1727.9 741.9 1756.8 742.2 1714.2 742.7 1718.6 743 1739.7 743.3 1760.5 743.4 1771.7 743.6 1745.7 743.9 1740 744.2 1777.9 744.6 1764.2 744.9 1760.3 745.3 1796.7 745.7 1787.7 745.9 1763.9 746.4 1744.5 746.7 1778.5 747 1793.5 747.4 1813.8 747.8 1813.2 748.1 1785.7 748.4 1771.9 748.8 1778.9 749.1 1800.7 749.4 1793.3 749.7 1784.3 750 1770.8 750.4 1727.8 750.8 1774.5 751.1 1732.6 751.5 1713.7 751.7 1743.9 752.2 1712.6 752.4 1765.9 752.8 1771 753.2 1804.5 753.4 1772.4 753.9 1799.1 754.2 1792.9 754.5 1778.9 754.7 1760.1 755 1759 755.4 1748 755.7 1775.7 755.7 1778.5 756.2 1764.5 756.5 1770.1 756.8 1748.1 757.2 1751.5 757.5 1753.3 757.9 1748.5 758.1 1734.7 758.5 1718.1 758.9 1763.6 759.2 1721 759.4 1781.9 759.9 1741.7 760.2 1785.1 760.6 1748.2 760.9 1778.9 761.1 1754.3 761.6 1731.9 761.9 1781.6 762.2 1735.5 762.6 1758 762.9 1770.4 763.2 1774.9 763.6 1801.1 763.8 1794.6 763.9 1792.8 764.2 1757.7 764.5 1768.5 765 1770 765.3 1797 765.6 1751.6 765.9 1740.7 766.3 1742.5 766.5 1763 766.9 1792.7 767.2 1732.5 767.6 1789.8 768 1779.3 768.3 1763.6 768.5 1799.6 769.1 1773.2 769.3 1788.2 769.5 1769.7 769.9 1762.5 770.3 1777.7 770.6 1751.1 771 1796.7 771.3 1755.5 771.7 1787.1 772.1 1745.3 772.4 1767.8 772.7 1726.9 773.1 1719.4 773.4 1788.2 773.8 1750 774 1748.3 774.2 1729.6 774.5 1757.5 774.7 1769.8 774.9 1739.7 775.5 1716 775.7 1706.3 776 1772.6 776.4 1715.1 776.7 1723.1 777.1 1788 777.3 1792 777.7 1752.1 778.1 1749.5 778.4 1762.3 778.8 1744.7 779.1 1750.9 779.5 1795.3 779.8 1797.8 780.1 1755.1 780.4 1779.4 780.8 1793.2 781.2 1760.7 781.5 1786.9 781.9 1790.2 782.1 1768.4 782.5 1743 782.9 1712.9 783.2 1769.9 783.6 1758.8 783.7 1733.6 784.1 1806.7 784.5 1791.6 784.9 1775.2 785.2 1794.5 785.6 1817.1 785.9 1803.2 786.2 1807.1 786.5 1825.6 786.8 1822.3 787.2 1813.8 787.5 1835.2 787.8 1792.3 788.2 1818.4 788.6 1787.5 789 1772.5 789.2 1755.5 789.6 1811.7 789.8 1750.8 790.2 1754.7 790.6 1778 790.9 1792.2 791.3 1763.2 791.6 1772.5 791.9 1807.9 792.3 1815.9 792.6 1786.5 793 1778.6 793.3 1769.4 793.6 1789.9 794 1797.9 794.2 1789.3 794.5 1818.7 794.7 1763.8 794.9 1822.6 795.2 1775 795.7 1768.3 796 1750 796.3 1769.1 796.6 1764 797 1784.4 797.4 1768.1 797.7 1768.1 798 1749.2 798.4 1795.7 798.6 1763.1 798.9 1779 799.4 1758.6 799.7 1723.5 800 1746.7 800.3 1754.7 800.5 1756.4 800.7 1738 801 1804 801.3 1750 801.7 1801.8 802 1784.5 802.4 1784.9 802.6 1819.7 803.1 1823.5 803.3 1789.7 803.7 1813.1 804.1 1806 804.5 1810.5 804.7 1823.9 805.2 1835.6 805.3 1764.7 805.7 1819.4 806.1 1778.5 806.3 1783.1 806.8 1796.2 807.1 1772.3 807.4 1817.7 807.7 1798.3 808.1 1819.2 808.4 1809.1 808.8 1800.6 809.1 1796.6 809.4 1782.1 809.8 1763.3 810.2 1772.1 810.4 1759.1 810.8 1799.6 811.2 1765.4 811.4 1776.1 811.9 1821.9 812.1 1804.4 812.6 1832.4 812.8 1823.9 813.2 1799.1 813.5 1822.5 813.9 1803.7 814.1 1822.4 814.5 1846.9 814.9 1823.8 815.1 1802 815.5 1788.7 815.8 1813.9 816.2 1828.8 816.6 1806.9 817 1820.7 817.2 1781.6 817.7 1831.4 817.8 1802.1 818.2 1787.6 818.6 1824.9 819 1821.4 819.2 1796.9 819.5 1816 820 1844.7 820.2 1839.4 820.5 1830.6 820.9 1813.8 821 1829.6 821.2 1814.5 821.5 1844.6 821.9 1808.9 822.3 1846.8 822.6 1826.9 822.9 1798.7 823.2 1803.9 823.6 1831.8 823.9 1791.2 824.4 1770.2 824.7 1804.4 825.1 1820.7 825.3 1804.5 825.7 1821.8 826 1790.6 826.3 1803 826.7 1805.1 827 1778.9 827.3 1784.7 827.7 1800.1 828.1 1817.1 828.3 1789.9 828.6 1834.1 829 1820.2 829.3 1790.6 829.8 1840.1 830 1842.1 830.3 1808.6 830.7 1811.6 831 1810.9 831.5 1784.8 831.7 1831.8 832.1 1812.6 832.4 1806 832.8 1811.8 833.1 1823.4 833.5 1789.5 833.8 1807.4 834.2 1812.1 834.4 1812.2 834.8 1778.7 835.2 1744.3 835.4 1763.8 835.8 1789.1 836.2 1769.2 836.5 1741.4 836.9 1783.3 837.2 1780.5 837.4 1806.2 837.9 1807.1 838.1 1797.1 838.5 1783.6 838.9 1773.1 839.2 1794 839.5 1779.8 839.8 1775.1 840.2 1824.4 840.6 1785.8 840.8 1778.5 841.2 1789.1 841.5 1818.2 841.6 1775.7 841.8 1807.6 842.1 1775.5 842.6 1807.7 842.9 1791.7 843.2 1780.1 843.5 1805.9 843.8 1789.9 844.3 1764.5 844.7 1773 844.9 1772.3 845.1 1758.6 845.6 1775.4 845.8 1756.9 846.3 1775.1 846.5 1804.1 846.8 1796.3 847.3 1820.6 847.7 1824.1 848 1825 848.2 1823.6 848.7 1817.6 848.9 1835 849.2 1817.9 849.6 1834.4 849.9 1847 850.2 1838.3 850.7 1817.7 850.9 1847.4 851.2 1817 851.6 1800.6 851.9 1834.7 852.3 1804.7 852.7 1794.7 853 1818.4 853 1764.8 853.4 1780 853.7 1767.3 854 1798.1 854.3 1790.6 854.7 1812.6 855 1768.3 855.4 1774.7 855.7 1793.6 856.1 1807.8 856.4 1828.8 856.8 1825.4 856.8 1824.9 857.1 1791.2 857.4 1825.6 857.8 1824.1 858.2 1821.1 858.4 1798.5 858.6 1809.3 859 1788.9 859.3 1827.9 859.8 1825.3 860.1 1826.8 860.5 1776.3 860.8 1802.8 861 1812.5 861.1 1781.4 861.5 1795.7 861.8 1813.8 862.1 1786.6 862.5 1787 862.9 1786.9 863.2 1801.2 863.4 1817.6 863.7 1822.3 864.1 1819.4 864.5 1815.3 864.9 1806 865.1 1790.4 865.5 1809.5 865.9 1829.6 866 1806.7 866.2 1805.6 866.4 1839 866.9 1808.1 867.2 1829.1 867.5 1837.1 867.9 1804.8 868.2 1838.6 868.6 1803.5 869 1826.6 869.2 1829.3 869.5 1818.2 869.9 1822 870.2 1814.9 870.6 1827.9 870.8 1815.8 871.3 1808.1 871.6 1810.5 871.8 1803.7 872.3 1818.5 872.5 1790.3 873 1786.4 873.3 1781.4 873.5 1799.6 873.9 1788.3 874.3 1809.4 874.5 1822.6 874.7 1814.5 876 1621.3 877.4 1814.9 877.7 1817.4 877.9 1833.3 878.3 1830.1 878.6 1825.3 879.1 1794.2 879.3 1800.7 879.7 1825.9 880 1827.7 880.4 1826.7 880.6 1807.7 881.1 1833.5 881.3 1829.2 881.7 1836.7 881.9 1815.4 882.4 1828 882.7 1821 883 1827.4 883.4 1805 883.8 1789.1 884.1 1819.3 884.5 1793.1 884.7 1825.1 885.1 1796.7 885.3 1813.3 885.8 1802.4 886.1 1802.1 886.4 1818.4 886.8 1825.9 887.2 1820.1 887.4 1804.5 887.7 1833.8 888.2 1814.4 888.4 1801.3 888.8 1819.8 889.1 1813.8 889.4 1834 889.7 1823.9 890.1 1806.8 890.4 1823.4 890.8 1804 891.1 1802.8 891.5 1820.5 891.7 1820.3 892.1 1823.2 892.5 1802.2 892.7 1819.5 892.9 1808.1 893.1 1811.1 893.5 1819.7 893.9 1837.2 894.2 1825.3 894.5 1822.7 894.9 1812 895.2 1837.6 895.5 1814.4 895.9 1825.7 896.2 1837.6 896.4 1838.3 896.8 1825.5 897.2 1823.6 897.6 1822 897.9 1815.4 898.3 1818.2 898.5 1824.2 898.9 1803 899.2 1828.3 899.6 1788.6 899.9 1804.4 900.3 1829 900.6 1798.6 901 1812.9 901.3 1816.7 901.7 1838.4 902 1818.8 902.2 1822.7 902.7 1833.4 903 1822.3 903.4 1826.5 903.5 1808.8 903.9 1829 904.3 1805.7 904.7 1825.4 905 1793.5 905.3 1795.8 905.7 1827.5 906 1806.4 906.4 1806.9 906.6 1813.2 907.1 1797 907.4 1827.5 907.6 1797.5 908 1804.7 908.3 1836 908.7 1829.4 909 1822.3 909.3 1841.6 909.6 1830.3 910 1830.4 910.4 1806.1 910.7 1815.8 911.1 1807.8 911.5 1830.1 911.6 1809.1 912.1 1794.2 912.4 1794.4 912.7 1813.5 913.2 1799.2 913.2 1804 913.5 1817.7 913.7 1802.8 914.1 1793.4 914.5 1808.7 914.8 1795.5 915 1813.8 915.5 1809.8 915.8 1814.7 916.1 1823 916.4 1817.1 916.8 1799.1 917.2 1824.4 917.5 1835 917.9 1826.6 918.1 1845.8 918.4 1845.9 918.8 1846 919.2 1828.1 919.5 1843.3 919.9 1839.8 920.1 1846.5 920.5 1837.4 920.9 1840.4 921.1 1810.8 921.5 1841.9 921.9 1810.3 922.2 1796.3 922.5 1831.8 923 1823.7 923.2 1792.7 923.5 1819.3 923.8 1814.3 924.1 1801.6 924.6 1804 924.8 1822.9 925.3 1841.6 925.5 1840.2 925.9 1830.6 926.3 1807.7 926.7 1832.1 927 1816.2 927.3 1831 927.6 1811.4 927.9 1809.2 928.3 1815.4 928.7 1824.2 928.9 1829.7 929.3 1825.5 929.7 1819.3 930 1811.4 930.3 1821 930.6 1832.3 931 1813.3 931.2 1800.8 931.6 1819.8 931.9 1818.6 932.3 1834.3 932.6 1834.3 933 1818.5 933.4 1831.1 933.6 1838 933.7 1845.6 934.1 1815 934.3 1822.5 934.6 1826.4 935 1806.2 935.3 1804.2 935.7 1829.1 936.1 1834.1 936.3 1822.5 936.7 1810.6 937.1 1834.3 937.4 1831.5 937.7 1806.9 938 1834.9 938.4 1817.9 938.6 1829.8 939 1836.9 939.3 1827.9 939.7 1840.3 940 1837.1 940.5 1824.5 940.7 1812.2 941 1799.8 941.5 1816.8 941.8 1817.8 942.1 1801.7 942.4 1833.9 942.8 1816.6 943.1 1825.1 943.5 1836.3 943.8 1818.9 944.2 1814.2 944.5 1828.6 944.8 1818.7 945.1 1820.1 945.4 1820.6 945.8 1836.5 946.1 1813.9 946.5 1830 946.8 1822.1 947.2 1801.3 947.5 1820.4 947.7 1835.3 948.2 1807.6 948.6 1804.8 948.9 1832.8 949.2 1827.3 949.5 1810.4 949.9 1840.6 950.2 1819.9 950.6 1840 950.8 1827.3 951.2 1829.4 951.6 1830.6 951.9 1821.8 952.2 1826.8 952.5 1814.3 952.9 1833.6 953.2 1805.3 953.5 1816.6 954 1830.1 954.2 1829.9 954.2 1836.8 954.7 1825.3 954.9 1837.1 955.3 1829.4 955.6 1831.3 955.9 1818.8 956.4 1844.4 956.5 1824.5 957 1844.2 957.3 1825.7 957.7 1820.5 957.9 1837.2 958.3 1817.3 958.6 1820.8 959.1 1837.3 959.3 1819.2 959.7 1831.1 960.1 1817 960.3 1821.2 960.7 1832.2 961.1 1801.6 961.2 1827.5 961.7 1829.3 962 1820.8 962.3 1840.1 962.7 1810.2 963 1831.1 963.4 1832.2 963.8 1841.3 964 1842 964.5 1819.2 964.7 1825.4 965.1 1823.7 965.4 1815.2 965.8 1836.2 966 1815.1 966.3 1818.8 966.8 1822 967.1 1825.9 967.4 1815.6 967.7 1813.7 968.2 1797.5 968.5 1814.3 968.7 1830 969 1810.6 969.3 1801.6 969.8 1832.2 970.1 1804.8 970.4 1805.1 970.8 1807.1 971.2 1839.1 971.5 1829.6 971.7 1823.3 972.2 1811.9 972.4 1831.7 972.8 1834 973.2 1831.8 973.4 1836.5 973.9 1841.7 974.1 1836.1 974.5 1810.9 974.6 1821.8 974.8 1836.1 975.1 1831.9 975.5 1810 975.8 1821.5 976.3 1803.7 976.6 1828.2 976.8 1831.1 977.2 1821.9 977.5 1823.7 978 1833.6 978.2 1834.9 978.5 1851.1 978.9 1832.9 979.2 1840.4 979.6 1830.9 979.9 1843.9 980.3 1826.7 980.5 1836 981 1837.8 981.2 1836 981.5 1828.1 981.9 1842.4 982.3 1825 982.5 1840.8 982.9 1843.7 983.3 1831.4 983.7 1831.6 984 1810.8 984.2 1811.7 984.5 1826.2 984.9 1798.8 985.4 1791.1 985.7 1820.8 986 1800.3 986.4 1802 986.6 1807.7 986.9 1830.3 987.3 1837.8 987.7 1843.4 988 1816.4 988.3 1843.9 988.7 1843.5 989.1 1844.2 989.3 1841.3 989.6 1836.6 989.9 1851.1 990.4 1851.1 990.8 1851.1 991 1844.8 991.4 1851.1 991.7 1851.1 992 1843.8 992.4 1828.7 992.7 1818.4 993.1 1824.9 993.4 1815.3 993.8 1817.4 994 1821 994.4 1801.2 994.7 1807.2 995.1 1809.1 995.3 1826.1 995.7 1830.4 996 1825.3 996.5 1844.9 996.8 1848.2 997 1846.3 997.4 1837.3 997.7 1835.3 998.2 1850.1 998.5 1844.1 998.7 1837 999.1 1828.9 999.6 1827.9 999.7 1831.4 1000.2 1823.8 1000.5 1839.4 1000.8 1836.7 1001.1 1817.7 1001.4 1836.7 1001.9 1828 1002.2 1824.5 1002.4 1836.2 1002.8 1826.9 1003.1 1821.3 1003.6 1849.3 1003.8 1838.3 1004.3 1824.6 1004.4 1832.5 1004.9 1832.8 1005.1 1826.9 1005.6 1831.5 1006 1821.9 1006.2 1836.3 1006.6 1827.4 1006.8 1837.2 1007.2 1845.5 1007.7 1837 1008 1826 1008.3 1811.4 1008.7 1807.7 1009 1809 1009.2 1820.3 1009.5 1821.7 1010 1835.7 1010.3 1825.7 1010.5 1819 1010.9 1823.4 1011.2 1825.8 1011.6 1817.9 1011.9 1843.7 1012.3 1848.7 1012.5 1836.7 1012.6 1816.1 1013 1847.9 1013.3 1826.1 1013.6 1840.5 1014 1834.4 1014.3 1821 1014.7 1835 1015 1830.3 1015.4 1820.8 1015.7 1823.9 1016 1828.6 1016.4 1819.8 1016.7 1842 1017.1 1848 1017.3 1839.5 1017.8 1849.6 1018.1 1850.5 1018.3 1851.1 1018.7 1837.2 1019.1 1848.2 1019.4 1849.6 1019.7 1833 1020.1 1851.1 1020.4 1836.3 1020.8 1844 1021.2 1840.3 1021.5 1837.6 1021.8 1834 1022.2 1825.6 1022.4 1813.4 1022.8 1817.3 1023.2 1831.8 1023.5 1830.2 1023.8 1836.1 1024.2 1834.7 1024.3 1851.1 1024.8 1837.8 1025.2 1836.3 1025.6 1836.8 1025.8 1851.1 1026.1 1850.3 1026.4 1838.9 1026.7 1821.4 1027.1 1838 1027.4 1846.9 1027.8 1826.3 1028.2 1819.9 1028.5 1827.5 1028.9 1851.1 1029.2 1848.5 1029.5 1830.8 1029.8 1838.6 1030.1 1825.3 1030.4 1846 1030.8 1828.5 1031.2 1819.7 1031.5 1845.3 1031.9 1827.9 1032.3 1820.3 1032.5 1813.7 1032.8 1840 1033.2 1804.9 1033.6 1832 1033.8 1837.2 1034.3 1819.2 1034.5 1805.4 1034.9 1843.3 1035.2 1838.1 1035.6 1821.7 1036 1851.1 1036.3 1851.1 1036.6 1845.5 1036.9 1830.8 1037.3 1834.2 1037.7 1851.1 1037.9 1848.6 1038.4 1851.1 1038.7 1840.4 1038.9 1836.8 1039.3 1837.7 1039.6 1835.6 1039.9 1837.8 1040.4 1823.7 1040.6 1833.3 1041 1829.7 1041.3 1843.4 1041.7 1840.7 1042 1834.6 1042.3 1836 1042.8 1834.3 1043 1828.8 1043.3 1842.9 1043.7 1845.7 1044 1851 1044.4 1842.8 1044.8 1832.1 1045.1 1824.8 1045.4 1848.6 1045.8 1845.4 1046 1839 1046.4 1851.1 1046.7 1842.6 1047.1 1833.9 1047.5 1850.4 1047.7 1851.1 1048.1 1851.1 1048.5 1849.9 1048.7 1851.1 1049 1851.1 1049.5 1851.1 1049.8 1843.9 1050 1835.8 1050.5 1842.5 1050.8 1837.3 1051.1 1848.1 1051.5 1851.1 1051.5 1851.1 1051.7 1848.2 1052.2 1849.4 1052.4 1839.9 1052.8 1840.5 1053.2 1826.5 1053.5 1831 1053.8 1833.2 1054.1 1835.6 1054.6 1828.5 1054.8 1842.1 1055.1 1847 1055.4 1814.5 1055.9 1840.5 1056.1 1845.5 1056.6 1841.6 1056.8 1829.8 1057.2 1846.8 1057.6 1843.7 1057.9 1845.6 1058.2 1847 1058.5 1833.3 1058.9 1851.1 1059.1 1845.4 1059.6 1848.5 1059.9 1842.6 1060.2 1851.1 1060.6 1846.3 1060.9 1851.1 1061.1 1829.9 1061.7 1825.5 1061.9 1820.2 1062.2 1830.1 1062.7 1825 1063 1826.9 1063.3 1835.4 1063.6 1828.7 1063.9 1832 1064.3 1821 1064.7 1830.2 1065 1806.5 1065.2 1835.3 1065.6 1822.5 1066 1811.3 1066.3 1818.9 1066.7 1838.3 1067 1845.6 1067.4 1829 1067.7 1851.1 1067.9 1824.8 1068.3 1832.4 1068.6 1829 1069 1839.9 1069.3 1851.1 1069.7 1851.1 1070.1 1844.4 1070.4 1825.5 1070.6 1830.1 1071.1 1844.3 1071.3 1836.1 1071.7 1820.8 1072 1848.7 1072.4 1833.1 1072.6 1832.9 1073.1 1849.8 1073.5 1837.3 1073.7 1832.3 1074.1 1832.1 1074.5 1845.8 1074.6 1830.7 1075.1 1851.1 1075.4 1834.5 1075.8 1847.6 1076 1841.7 1076.5 1843.4 1076.8 1846.8 1077.2 1851.1 1077.4 1837.4 1077.8 1845.8 1078 1847 1078.5 1821.5 1078.8 1851.1 1079.1 1835.4 1079.5 1845.1 1079.7 1851.1 1080.1 1831.7 1080.4 1835.1 1080.9 1851.1 1081.2 1843.3 1081.4 1851.1 1081.9 1851.1 1082.1 1851.1 1082.5 1831.7 1082.8 1841 1083.3 1850.2 1083.4 1851.1 1083.8 1846.2 1084.2 1851.1 1084.5 1851.1 1084.8 1851.1 1085.2 1839.3 1085.6 1851.1 1085.9 1851.1 1086.2 1851.1 1086.5 1851.1 1086.8 1850.7 1087.1 1846.5 1087.7 1851.1 1087.8 1834.9 1088.2 1851.1 1088.6 1836.6 1088.9 1832.7 1089.2 1840.8 1089.5 1850.9 1089.9 1851.1 1090.3 1851.1 1090.5 1851.1 1090.5 1844.3 1090.9 1845.8 1091.3 1851.1 1091.6 1851.1 1092 1846.3 1092.2 1818.3 1092.7 1838.1 1092.9 1815.7 1093.3 1821 1093.6 1843.5 1094 1823.8 1094.3 1834.6 1094.7 1851.1 1095 1851.1 1095.4 1851.1 1095.7 1851.1 1095.9 1851.1 1096.3 1851.1 1096.7 1851.1 1096.9 1851.1 1097.3 1845 1097.6 1851.1 1097.9 1851.1 1098.4 1851.1 1098.6 1851.1 1099.1 1851.1 1099.3 1846.4 1099.7 1845.8 1100.1 1848.2 1100.5 1851.1 1100.8 1851.1 1101.1 1834 1101.3 1833.4 1101.7 1849.7 1102.1 1828.3 1102.4 1850.4 1102.8 1826.2 1103.1 1851.1 1103.4 1830.1 1103.8 1838.1 1104.2 1851.1 1104.4 1837.8 1104.8 1826.2 1105 1831.3 1105.5 1851.1 1105.7 1838.2 1106.2 1850.7 1106.4 1836.5 1106.8 1823.2 1107.2 1827.7 1107.4 1847.7 1107.7 1848.1 1108.1 1838.6 1108.5 1837.8 1108.9 1836.9 1109.2 1836.7 1109.5 1833.5 1109.5 1851.1" stroke="#000" stroke-width="2.7" fill="none" stroke-linejoin="miter" stroke-miterlimit="2.5"/><path d="M326.6 1826 326.8 1760 330.1 1760 330.1 1678.3 333.8 1678.3 333.8 1708.5 336.4 1708.5 337.2 1760 337.4 1840 335 1842 333 1825 331 1838 328 1836Z" fill="#000"/><path d="M251 1548 253.6 1548 254.2 1621 256.2 1698 259.9 1745 262.1 1797 263.2 1841 260.4 1841 258.3 1797 254.8 1745 252.6 1698 250.6 1621Z" fill="#000"/><path d="M240.3 1690 240.6 1562 241.6 1520 244.2 1516 245.2 1545 248.6 1545 250.5 1547 252.5 1588 253.6 1650 254.2 1700 251 1704 248.5 1690 247.5 1604 245.3 1604 245 1690 242.8 1706Z" fill="#000"/><text x="295.6" y="1215" font-size="34.6">Nb 358 nm</text><path d="M307.9 1236.4V1684.6" stroke="#9c9c9c" stroke-width="2.8"/><path d="M302.3 1682.6H313.5L309 1704.6H306.8Z" fill="#000"/><text x="328.7" y="1340" font-size="34.6">Ti 372 +374 +376 nm</text><path d="M334.1 1359.7V1637.1" stroke="#9c9c9c" stroke-width="2.8"/><path d="M328.5 1635.1H339.7L335.2 1657.1H333Z" fill="#000"/><text x="358.7" y="1439.5" font-size="34.6">Nb 406 nm</text><path d="M375.4 1475.2V1663.9" stroke="#5e5e5e" stroke-width="1.9"/><path d="M369.8 1661.9H381L376.5 1683.9H374.3Z" fill="#000"/><text x="385.8" y="1558.8" font-size="34.6">Nb 416 nm</text><path d="M391.2 1586V1695.8" stroke="#5e5e5e" stroke-width="1.9"/><path d="M385.6 1693.8H396.8L392.3 1715.8H390.1Z" fill="#000"/><text x="398.6" y="1636.9" font-size="34.6">Ti 430 nm</text><path d="M407.1 1658.8V1686.8" stroke="#5e5e5e" stroke-width="1.9"/><path d="M401.5 1684.8H412.7L408.2 1706.8H406Z" fill="#000"/><text x="698.8" y="1602.4" font-size="39">H<tspan font-size="27" dy="11.5" dx="1" font-family="Liberation Serif" font-style="italic">&#945;</tspan></text><text x="878" y="1600.5" font-size="37" text-anchor="middle">O</text><text x="987" y="1104" font-size="72" font-weight="bold">b</text><g stroke="#000" stroke-width="3" fill="none"><path d="M84.2 2839.2V2024.1M67.7 2839.2H1096.7" /><path d="M67.7 2839.2H84.2M75.7 2765.1H84.2M67.7 2691H84.2M75.7 2616.9H84.2M67.7 2542.8H84.2M75.7 2468.7H84.2M67.7 2394.6H84.2M75.7 2320.5H84.2M67.7 2246.4H84.2M75.7 2172.3H84.2M67.7 2098.2H84.2M75.7 2024.1H84.2M84.2 2839.2V2854.7M151.7 2839.2V2846.7M219.2 2839.2V2854.7M286.7 2839.2V2846.7M354.2 2839.2V2854.7M421.7 2839.2V2846.7M489.2 2839.2V2854.7M556.7 2839.2V2846.7M624.2 2839.2V2854.7M691.7 2839.2V2846.7M759.2 2839.2V2854.7M826.7 2839.2V2846.7M894.2 2839.2V2854.7M961.7 2839.2V2846.7M1029.2 2839.2V2854.7M1096.7 2839.2V2846.7" /></g><g font-size="35.5" fill="#000"><text x="56.7" y="2850.2" text-anchor="end">0.0</text><text x="56.7" y="2702" text-anchor="end">0.2</text><text x="56.7" y="2553.8" text-anchor="end">0.4</text><text x="56.7" y="2405.6" text-anchor="end">0.6</text><text x="56.7" y="2257.4" text-anchor="end">0.8</text><text x="56.7" y="2109.2" text-anchor="end">1.0</text><text x="84.2" y="2892.2" text-anchor="middle">200</text><text x="219.2" y="2892.2" text-anchor="middle">300</text><text x="354.2" y="2892.2" text-anchor="middle">400</text><text x="489.2" y="2892.2" text-anchor="middle">500</text><text x="624.2" y="2892.2" text-anchor="middle">600</text><text x="759.2" y="2892.2" text-anchor="middle">700</text><text x="894.2" y="2892.2" text-anchor="middle">800</text><text x="1029.2" y="2892.2" text-anchor="middle">900</text></g><text x="96.8" y="2028.8" font-size="44"><tspan font-style="italic">I</tspan>, a.u.</text><g transform="translate(570.5 2948.2)" stroke="#000" fill="none" stroke-width="2.3" stroke-linecap="round"><path d="M9.6 -27.6C10.8 -30.2 13.6 -30.6 14.6 -28.2L20.6 -5.6C21.6 -1.6 23.2 -0.6 25.4 -2.4"/><path d="M15.6 -17.2L1.2 -1.0"/></g><text x="592.9" y="2948.2" font-size="45">, nm</text><path d="M104.5 2109.3V2091.8H270.3V2109.3" stroke="#000" stroke-width="3.2" fill="none"/><text x="185.4" y="2084.1" font-size="38" text-anchor="middle">OH</text><path d="M84.2 2829.1 84.6 2819.2 85 2811.7 85.2 2803.7 85.6 2812.7 85.9 2803.2 86 2812.5 86.3 2816.7 86.6 2804.3 86.8 2822.3 87.2 2806.8 87.5 2801.8 87.8 2823 88 2820.9 88.2 2811.8 88.6 2819.1 88.8 2809.3 89.3 2821.2 89.7 2821.4 89.8 2823.4 90.3 2815.5 90.6 2816.4 90.9 2832.5 91 2818.2 91.2 2838.5 91.7 2837.2 91.9 2835.1 92.4 2815.2 92.6 2823.9 92.9 2820.8 93.3 2832.1 93.6 2826.4 94 2827.5 94.4 2821.4 94.7 2835.8 95 2838.5 95 2835.9 95.3 2838.5 95.7 2830.1 96.1 2826.8 96.4 2838.5 96.8 2832.1 97.1 2838.5 97.4 2838.5 97.7 2838.5 98.1 2834.5 98.3 2838.5 98.8 2838.5 99.1 2838.5 99.4 2838 99.8 2833.6 100.1 2838.5 100.3 2835.6 100.7 2825.4 101 2838.5 101.3 2826.8 101.8 2832.5 102.1 2833.8 102.4 2833.3 102.7 2832 103 2834.7 103.5 2820.3 103.8 2833.4 104.2 2824.6 104.5 2826.5 104.8 2838.5 105.1 2838.5 105.6 2838.5 105.8 2838.5 106.1 2838.5 106.5 2838.5 106.9 2836.1 107.2 2830.8 107.5 2835.9 107.8 2823.8 108.2 2825.5 108.4 2835.4 108.8 2837.8 109.1 2819.4 109.5 2824.9 109.8 2822.4 110.1 2818.1 110.5 2823.9 110.8 2829.6 111.2 2827.5 111.5 2833.4 111.9 2821 112.2 2821.4 112.5 2816.9 112.9 2834.3 113.3 2837.4 113.6 2830.9 114 2837.7 114.3 2829.8 114.6 2838.5 115 2838.5 115.2 2838.5 115.6 2831.2 116 2838.5 116.3 2838.5 116.5 2838.5 117 2838.5 117.3 2831.7 117.6 2836.3 117.9 2838.5 118.2 2833.1 118.7 2838.5 119 2829 119.2 2830.9 119.6 2838.5 120 2838.5 120.2 2823.4 120.7 2831.8 121 2837.6 121.3 2828.6 121.7 2838.3 122 2829.3 122.3 2820.5 122.6 2819.2 123.1 2832.2 123.3 2833.3 123.6 2819.7 124 2824.5 124.4 2815.9 124.8 2824.3 125 2818 125.4 2820.5 125.7 2822.8 126.1 2834.1 126.4 2831.5 126.7 2822.9 127 2833.7 127.4 2829.9 127.8 2829.3 128.1 2838.3 128.5 2837.2 128.7 2838.5 129.1 2827.4 129.5 2817.8 129.7 2834.7 130 2838.5 130.5 2818.7 130.8 2830.4 131.2 2820.9 131.5 2822.4 131.8 2832 132.2 2831.4 132.4 2829.8 132.8 2820.1 133.2 2819.6 133.5 2829.8 133.8 2830.4 134.1 2832 134.5 2831.9 134.8 2827.8 135.2 2829.4 135.4 2827.4 135.7 2835.5 136.1 2826.2 136.5 2830.2 136.8 2833 137.2 2832.9 137.5 2837.5 137.8 2838.5 138.1 2838.5 138.6 2827 138.8 2817.9 139.2 2829.3 139.6 2826.3 139.8 2819.5 140.3 2809.9 140.6 2822.6 141 2807.4 141.2 2808.2 141.6 2827 141.9 2814.5 142.3 2814.9 142.6 2811.1 142.9 2816.9 143.3 2815.1 143.7 2822.4 143.9 2825.9 144.4 2820.2 144.6 2821.2 145 2815.6 145.2 2819.5 145.7 2816.1 146 2826.8 146.2 2831.9 146.6 2824.8 147 2830.2 147.4 2837.8 147.6 2838.5 148.1 2825.8 148.3 2838.5 148.6 2838.5 149.1 2836.4 149.4 2838.5 149.7 2838.5 150 2837.4 150.3 2822.4 150.7 2830.8 150.9 2831.4 151.3 2836.1 151.7 2838.5 152 2838.5 152.4 2828.4 152.8 2838.5 153.1 2832.9 153.4 2834.7 153.8 2838.5 154.1 2824.9 154.4 2824.3 154.7 2834.8 155 2821.4 155.4 2826 155.7 2833.5 156.1 2834.8 156.3 2836.7 156.8 2836.2 157.2 2829.7 157.5 2838.5 157.8 2835.8 158.1 2833.1 158.5 2827.7 158.7 2825.5 159.2 2834.5 159.5 2838.5 159.8 2838.5 160.1 2833.4 160.5 2832.6 160.7 2838.5 161.1 2836.7 161.5 2827.9 161.9 2815.4 162.2 2835.2 162.5 2830.6 162.8 2837.6 163.1 2838.2 163.6 2834.9 163.8 2835.7 164.2 2834.7 164.6 2826 164.9 2831.1 165.1 2821.3 165.5 2819.7 165.8 2833.3 166.2 2822.7 166.5 2838.5 166.8 2833.2 167.3 2838.5 167.5 2833.1 167.8 2823.6 167.9 2819.6 168.3 2822.4 168.6 2809.9 168.9 2811.1 169.2 2791.7 169.2 2797.9 169.6 2793.2 169.7 2809.6 171 2745.8 172.6 2809.6 172.7 2802.2 172.9 2798.2 173.3 2819.7 173.3 2800.9 173.6 2801.5 173.9 2812.1 174.4 2820.3 174.6 2816.4 174.9 2808 175.3 2798.9 175.6 2819.2 175.9 2806.9 176 2808.3 176.3 2818.5 176.7 2806.2 177 2823.6 177.4 2819.2 177.6 2818.6 178 2830.1 178.3 2804.8 178.7 2824.1 179 2821.6 179.3 2814.5 179.8 2827.9 180 2825.2 180.4 2837.3 180.7 2834.9 181.1 2830.8 181.5 2838.5 181.7 2837.5 182.1 2829.1 182.4 2831.6 182.8 2831.6 183 2834.9 183.4 2815.5 183.7 2812.8 184.2 2807.6 184.5 2833.4 184.8 2820.1 185.1 2809.6 185.4 2821.8 185.4 2821.8 185.8 2838.3 186.2 2838.5 186.5 2830.6 186.8 2820.3 187.2 2826.2 187.5 2829.2 187.8 2825.1 188.1 2817.6 188.4 2821.4 188.8 2830.2 189.2 2811.7 189.5 2820.1 189.9 2813.1 190.1 2808.8 190.4 2824.6 190.9 2833.4 191.2 2827.9 191.5 2833.1 191.8 2828.8 192.2 2818.4 192.2 2814.3 192.6 2801.2 193 2818.4 193.1 2818.7 193.6 2788.2 193.9 2810.3 194.1 2800.4 194.6 2784.1 195 2799.1 195.3 2805.2 195.6 2779.6 195.6 2807.1 196.7 2762.9 197.7 2803.1 197.9 2815.9 198.2 2817.5 198.3 2811.8 198.7 2801.6 198.9 2805.6 199.2 2815.9 199.7 2812.5 200 2810.6 200.2 2806.3 200.8 2819.9 201.5 2809.3 201.7 2798.3 201.7 2800.7 202 2822 202.2 2816.8 202.6 2812 203 2813.3 203.4 2799.6 203.7 2811.5 203.7 2810.4 204.8 2765.1 206.1 2811.3 206.4 2783.1 206.8 2810.1 207 2784.9 207.4 2784.7 207.8 2799 208 2803.9 208.3 2807.1 208.8 2815.5 209.1 2817.4 209.3 2813.9 209.8 2798.3 210.1 2809.9 210.4 2801.6 210.8 2816.4 211 2813.3 211.2 2799.3 211.3 2791.4 211.8 2787.9 212.2 2814.5 212.5 2811 212.7 2804 213.1 2801.5 213.5 2820.1 213.8 2815.9 214.2 2823 214.5 2794.7 214.8 2802.2 215.2 2812.8 215.5 2815 215.9 2813 216.2 2806.4 216.4 2826.1 216.9 2829.9 217 2807.6 217.1 2814.9 217.6 2808.4 217.8 2828.8 218.2 2813.7 218.4 2818.4 218.9 2810.6 219.2 2816.2 219.5 2804.1 219.8 2825.5 220.2 2805.8 220.6 2814.9 220.9 2811.3 221.3 2822.3 221.5 2838.5 221.9 2838.5 222.2 2838.5 222.6 2827.7 222.9 2832.8 223.2 2832.1 223.2 2831.8 223.6 2832.6 223.9 2833.2 224.2 2833.7 224.5 2834.5 224.9 2835.2 225.2 2835.9 225.4 2836.2 225.7 2797.2 226 2737.7 226.3 2684.4 226.6 2643.7 226.8 2616.9 226.9 2594.4 227.3 2541.3 227.7 2481.1 227.9 2451.1 228 2446.5 228.4 2439.4 228.6 2419.7 229.1 2437.5 229.3 2448.8 229.4 2415.5 229.6 2377.5 230 2360.3 230.3 2349.5 230.7 2279 231.1 2261.7 231.3 2247 231.4 2246.4 231.6 2220.4 231.9 2182.3 232.4 2135.5 232.4 2130.1 232.7 2167 233.1 2210.1 233.3 2243 233.4 2246.4 233.6 2282.2 234 2325.8 234.3 2404.8 234.6 2460 234.7 2461.5 235 2458.7 235.4 2519.2 235.5 2539.1 235.8 2478.6 236 2540.6 236.3 2533.7 236.7 2531.1 236.8 2530.2 237.1 2538.8 237.5 2547.7 237.8 2554.4 238 2560.2 238.4 2568.7 238.6 2574.7 238.7 2575.3 239.2 2584.5 239.5 2590.6 239.7 2594.3 240.1 2602.3 240.4 2607.2 240.8 2614.1 240.9 2616.9 241.1 2620.8 241.5 2632.8 241.7 2641.1 242.1 2651.4 242.4 2662 242.7 2670.6 242.8 2673.2 243.2 2681.8 243.6 2690.2 243.9 2696.1 244 2699.9 244.1 2701.8 244.5 2713.7 244.9 2724.6 245.1 2732.9 245.3 2736.9 245.6 2743 245.8 2746.9 246.3 2754.8 246.5 2759 246.8 2764.7 247.3 2772.9 247.6 2778.7 247.9 2783.3 248 2785.1 248.2 2786.3 248.6 2788.2 248.9 2789.4 249.2 2791.1 249.7 2793 249.9 2794 250.2 2795.3 250.6 2797.2 250.9 2798.9 251.4 2800.9 251.7 2802.4 251.9 2803.2 252.2 2804.8 252.3 2805.1 252.7 2806.4 253 2807.4 253.3 2808.2 253.7 2809.5 254 2810.5 254.3 2811.5 254.7 2812.8 255 2813.9 255.4 2815.1 255.7 2816.1 256.1 2817.2 256.4 2818.1 256.5 2818.5 256.6 2819 257 2820.5 257.4 2822.2 257.7 2823.7 258 2824.8 258.3 2825.9 258.7 2827.6 259 2828.9 259.4 2830.7 259.8 2831.9 260.1 2827.9 260.4 2823.7 260.8 2834.4 260.8 2832.4 261 2838.3 261.4 2834.7 261.7 2838.5 262.1 2838.5 262.5 2837.9 262.8 2834.3 263.1 2838.5 263.4 2838.5 263.8 2838.5 263.8 2836.8 264.2 2836.2 264.4 2834.3 264.7 2838.5 265 2814.5 265.5 2816.4 265.8 2808.7 266.1 2822 266.4 2823.9 266.9 2801.3 267.1 2810.8 267.5 2801.6 267.9 2810.7 268 2802.5 268.4 2806.5 268.8 2812.5 269.2 2826.1 269.4 2822.1 269.9 2832.3 270.1 2834.6 270.6 2815.1 270.7 2821.6 271.1 2828.6 271.5 2819.5 271.8 2829.1 272.3 2831.9 272.5 2835.3 272.8 2822.5 273.3 2830.9 273.5 2836.9 274 2836 274.2 2829.4 274.5 2825.2 274.8 2819.1 275.3 2838.5 275.6 2838.3 275.9 2831 276.3 2820.3 276.5 2822.9 276.8 2836.5 277.2 2832.3 277.5 2829.6 277.9 2830.5 278.3 2824.2 278.5 2809.1 279 2827.4 279.2 2818.2 279.6 2833.7 280 2806.6 280.4 2837.1 280.6 2815.2 281 2837 281.2 2824.3 281.7 2838.5 282 2832.5 282.3 2838.5 282.7 2834.3 283.1 2817.6 283.3 2835.8 283.8 2827 283.9 2837.9 284.3 2833.8 284.7 2822.2 284.9 2814.3 285.4 2819.2 285.7 2824.2 286.1 2823.7 286.4 2817.4 286.7 2838.5 287 2820.7 287.3 2838.5 287.7 2838.5 288.1 2835.1 288.5 2836.2 288.7 2838.5 289 2838.5 289.5 2838.5 289.8 2838.5 290 2838.5 290.4 2838.2 290.8 2838.5 291.1 2835.3 291.5 2835.5 291.9 2821.4 292.1 2833.8 292.4 2824.1 292.8 2825.2 293.1 2824.3 293.4 2830.3 293.9 2812.3 294.1 2806.3 294.6 2828.3 294.8 2818.1 295.2 2805.5 295.4 2808.6 295.8 2834.4 296.2 2836.8 296.4 2836.9 296.8 2811.1 297.2 2838.5 297.5 2816.9 297.8 2835.9 298.1 2838.5 298.6 2834 298.8 2838.5 299.3 2838.5 299.5 2823.8 299.8 2836.4 300.2 2820.6 300.3 2830.3 300.5 2829.1 300.8 2832.4 301.3 2809.7 301.6 2829.3 301.9 2813.1 302.2 2833.4 302.6 2811.2 302.9 2813.5 303.3 2817.6 303.5 2828.2 303.9 2818.5 304.3 2814.7 304.7 2818 305 2838.5 305.3 2836.1 305.6 2822.4 305.9 2835.5 306.3 2838.5 306.6 2837.2 306.9 2830.4 307.3 2831.9 307.6 2819.2 307.9 2829.8 308.2 2821.4 308.3 2820.8 308.6 2826.1 309 2810.9 309.4 2818.9 309.6 2822.8 310.1 2820.6 310.4 2807.3 310.8 2809.9 311 2818.7 311.4 2827.3 311.6 2829.3 312.1 2830.6 312.3 2826.4 312.4 2826.6 312.6 2821.4 313 2818.2 313.4 2812.9 313.8 2810.4 314 2808.9 314.1 2817.5 314.9 2671.7 315.6 2818 315.6 2817.5 316 2832.5 316.3 2834.7 316.7 2809.1 317 2823 317.3 2816.6 317.7 2825.1 317.8 2818.6 318.6 2645.8 319.4 2819.1 319.5 2830.9 319.7 2811.4 320 2830 320.5 2824.5 320.7 2827 321 2819.6 322.1 2628 323.7 2820.4 323.8 2838.5 324.1 2838.5 324.5 2838.5 324.5 2838.5 324.7 2838.5 325.2 2838.5 325.4 2838.5 325.8 2838.5 326.1 2819.9 326.5 2829 326.9 2834.1 327.1 2838.5 327.6 2817.1 327.8 2836.8 328.3 2829 328.5 2821.9 328.6 2833.3 328.9 2818.4 329.2 2826.7 329.5 2805.1 329.8 2805.6 330.3 2812.4 330.5 2817 330.8 2832 331.2 2814.3 331.5 2826.1 331.9 2824.4 332.4 2838.4 332.6 2838.5 332.9 2838.5 333.4 2831.7 333.6 2838.5 333.9 2831.4 334.3 2838.5 334.7 2838.5 334.9 2834.9 335.2 2835.5 335.6 2825.4 335.9 2825.6 336.3 2838 336.6 2826.4 337 2813.1 337.2 2816.1 337.7 2816.6 338.1 2835.5 338.3 2838.5 338.7 2834 339.1 2814.1 339.4 2833.5 339.7 2830.4 340.1 2837.4 340.3 2834.2 340.6 2816.4 341.1 2822.2 341.4 2824.9 341.7 2838.5 342.1 2820.6 342.5 2837.1 342.8 2838.5 343.1 2818.9 343.4 2834.5 343.7 2838.5 344 2838.5 344.5 2831.7 344.8 2838.5 345 2830.7 345.5 2813.9 345.8 2821.1 346.1 2826.5 346.5 2817.6 346.8 2813.6 347 2814.4 347.5 2816.6 347.9 2805.4 348.2 2806.5 348.4 2831.8 348.8 2810.1 349.2 2819.2 349.4 2818.9 349.9 2832.4 350.1 2815 350.4 2833.9 350.8 2828.7 351.1 2833.2 351.5 2818.8 351.9 2817.3 352.2 2824.8 352.5 2832.4 352.8 2808 353.3 2815.7 353.4 2831.6 353.9 2827.6 354.3 2835.8 354.3 2827 355.6 2678.4 356.9 2826.9 357.2 2814.4 357.5 2798.9 357.9 2818.6 358.2 2811.2 358.5 2803.4 359 2829.7 359.4 2809.2 359.5 2834.2 359.9 2815.1 360.3 2821 360.5 2832.1 360.9 2838.5 361.3 2837.9 361.5 2838.5 361.9 2838 362.3 2835.1 362.6 2835.5 362.9 2838.1 363 2826.6 364.1 2733.2 365.4 2826.5 365.6 2838.5 365.9 2829.1 366.4 2815.5 366.7 2836.3 366.9 2831.9 367.3 2817.2 367.8 2838.5 368.1 2835.3 368.4 2830.6 368.8 2828.7 369 2829.6 369.3 2834.1 369.7 2820 370.1 2832.9 370.5 2837.7 370.6 2811.1 371.1 2821.8 371.4 2810.2 371.8 2826.3 372.1 2816.8 372.5 2825.8 372.8 2829.7 373.1 2804.5 373.5 2805.5 373.7 2805.4 374 2823.9 374.4 2830.3 374.7 2814.6 375.1 2810.2 375.5 2830 375.7 2830.3 376.2 2838.5 376.4 2829 376.9 2816.5 377.2 2820.8 377.4 2821.9 377.9 2817.5 378.2 2835.7 378.4 2835 378.8 2835.1 379.3 2838.5 379.5 2819 379.9 2821.6 380.2 2830.8 380.4 2829 380.9 2837 381.2 2820.8 381.2 2824.2 381.5 2838.5 381.9 2809.9 382.2 2835 382.5 2821.7 383 2838.5 383.2 2838.5 383.6 2817.1 384 2817.8 384.2 2826.7 384.6 2814.6 385 2838.5 385.3 2825 385.5 2811.4 385.9 2823.7 386.2 2800.9 386.6 2828.3 386.9 2799.9 387.3 2820.3 387.7 2808.2 387.8 2826 388.8 2779.2 389.7 2826.1 390 2822.2 390.4 2835.3 390.6 2818.5 391 2827.9 391.4 2819.3 391.8 2826.2 392.1 2838.5 392.4 2838.5 392.7 2833.9 392.9 2837.3 393.3 2828.1 393.6 2823.8 393.8 2826.2 395 2656.9 396.5 2826.3 396.5 2831.9 396.7 2826.4 397 2809.8 397.4 2815.9 397.6 2804.3 398.1 2818.3 398.5 2822.2 398.7 2838.5 399.1 2822.7 399.4 2825.2 399.8 2834.3 400.2 2819.2 400.5 2816 400.8 2838.5 401 2833.3 401.4 2836.7 401.8 2826.5 402.2 2820.6 402.4 2820.2 402.7 2822.1 403.2 2830.3 403.5 2827 403.7 2838.5 404.1 2826.9 404.6 2829.4 404.8 2838.5 405.1 2838.5 405.6 2831.8 405.8 2838.4 406.2 2835.3 406.5 2816.9 406.8 2808.1 407.1 2817.2 407.5 2825.2 407.8 2831.4 408.2 2805.6 408.5 2817.4 408.9 2816.7 409.1 2835.3 409.6 2830.6 410 2816.5 410 2826.7 410.2 2825.9 410.5 2827.6 410.8 2837 411.3 2826.6 411.5 2838.5 411.9 2823.8 412.3 2838.5 412.5 2833.3 413 2832.7 413.2 2808.8 413.6 2799.9 413.9 2822.8 414.4 2821.4 414.5 2788.5 414.8 2798.9 415.3 2812.1 415.7 2795.2 416 2803.3 416.3 2786.5 416.6 2804.1 416.9 2796.3 417.3 2808.6 417.7 2812.5 417.9 2793.4 418.4 2818.2 418.6 2809.4 419.1 2824.1 419.4 2814 419.7 2829 420 2796.5 420.3 2822.3 420.7 2823.7 421.1 2817.6 421.4 2832.7 421.8 2802.4 422 2789.4 422.4 2811 422.6 2795.5 423.1 2782.3 423.5 2806.1 423.8 2781.9 424.1 2790.9 424.3 2781.5 424.7 2800.5 425.2 2786.7 425.4 2804 425.7 2824.4 426.1 2822.3 426.3 2817.2 426.7 2810.4 427.1 2834.2 427.3 2815.5 427.8 2823.6 428.1 2833 428.5 2799.5 428.8 2809.7 429.2 2818.4 429.5 2801.4 429.9 2793.5 430.1 2802.2 430.5 2809.7 430.5 2797.8 430.8 2795.5 431.1 2820.8 431.4 2810.1 431.9 2826.5 432.1 2805.9 432.5 2803.9 432.7 2817.6 433.3 2816.3 433.5 2804.7 433.9 2787.9 434.2 2803.3 434.4 2816.3 434.9 2820.5 435.1 2806.1 435.5 2821.6 435.8 2824.3 436.1 2820.2 436.6 2814.8 436.9 2824.1 437.2 2822.1 437.6 2820.2 438 2818.3 438.2 2818.2 438.6 2803.8 438.9 2800.3 439.2 2794.4 439.6 2823.7 440 2802.7 440.2 2812.8 440.6 2814.6 441 2784.9 441.3 2779.4 441.6 2789.8 442 2823.1 442.3 2797.2 442.7 2832.1 443 2830 443.3 2819.7 443.7 2831.3 443.8 2814.6 444.7 2779.9 445.5 2814.3 445.7 2813.4 446 2815.5 446.3 2818.3 446.7 2798.7 446.9 2800.9 447.4 2825.3 447.6 2819.5 448.1 2807 448.3 2830 448.7 2825.7 449 2819.8 449.4 2833.6 449.8 2802.2 450 2807 450.4 2804.2 450.7 2790.1 451 2796.1 451.1 2806.1 451.4 2805.9 451.7 2785.1 452.1 2807.1 452.4 2804.3 452.7 2804.1 453.2 2811.3 453.4 2801.1 453.7 2813.5 454.1 2787.3 454.5 2805.9 454.8 2800.8 455.2 2793.3 455.5 2786.7 455.7 2803.5 456.1 2785.8 456.4 2802.3 456.8 2813.7 457.1 2822.5 457.4 2810.7 457.9 2811.4 458.2 2791.3 458.5 2815.9 458.9 2797.4 459.1 2806.2 459.4 2785 459.8 2821.9 460.2 2818.6 460.5 2820.3 460.8 2813.1 461.3 2819.6 461.5 2826 462 2832.9 462.1 2831 462.6 2824.4 462.8 2799.9 463.2 2818.1 463.6 2826.8 463.9 2829.5 464.2 2810.7 464.7 2808.8 465 2813.7 465.2 2805.6 465.6 2821 465.6 2802.1 466 2820.3 466.3 2804.7 466.6 2790.2 466.9 2820.9 467.3 2799.7 467.5 2802.4 467.9 2813.5 468.3 2800.6 468.4 2800.9 468.6 2796.8 468.9 2823.3 469.3 2816.2 469.6 2800.1 470 2800.3 470.2 2797.9 470.6 2809.6 470.9 2807.9 471.3 2819.8 471.7 2821 471.9 2818.6 472.3 2822.4 472.6 2826.8 472.9 2817.8 473.3 2816 473.7 2820.6 473.9 2797.2 474.4 2827 474.8 2815.7 474.9 2789.6 475.4 2808.7 475.7 2812.4 476 2819 476.4 2783.6 476.8 2794.4 477.1 2805.9 477.5 2812.6 477.7 2809.4 478 2789.5 478.4 2782.2 478.8 2796.7 479.2 2783.8 479.3 2781.5 479.7 2775 480.1 2805.6 480.4 2774.5 480.7 2784.5 481 2773.3 481.5 2791.3 481.7 2764.9 481.8 2772.1 482.1 2776.8 482.4 2762.4 482.8 2780 483.2 2803.4 483.4 2785.9 483.7 2792.2 484.1 2774 484.6 2769.4 484.8 2770.6 485.2 2798.1 485.4 2774.8 485.9 2798.6 486.3 2778.8 486.6 2771.3 486.9 2792.5 487.2 2794.4 487.5 2788.1 487.9 2769.4 488.1 2810.6 488.6 2816.3 488.8 2782.8 489.2 2823.3 489.5 2822.2 489.9 2815.5 490.2 2808.7 490.6 2789.5 490.9 2786.1 491.3 2803.6 491.5 2788.8 491.9 2773.4 492.2 2811.2 492.6 2802.5 493 2762.5 493.3 2792.8 493.6 2759 494 2791.7 494.2 2799.7 494.5 2776.3 494.9 2805.8 495.3 2778.9 495.6 2802.1 496 2799.9 496.2 2777.8 496.6 2817.2 497 2785.9 497.2 2795.6 497.5 2795 498.1 2777.4 498.4 2812.1 498.7 2808.5 499 2773.5 499.4 2801.1 499.7 2774.6 499.9 2809.3 500.3 2773.9 500.6 2786.4 500.9 2770.6 501.4 2811.8 501.7 2797.9 502 2767.5 502.3 2768.9 502.3 2805.3 502.8 2788.4 503.1 2785.9 503.3 2795.4 503.8 2780.7 504 2791.6 504.3 2765.7 504.6 2778.9 505 2779.5 505.5 2784.1 505.8 2773.1 506.1 2801.4 506.5 2778.4 506.7 2774.2 507.1 2783.1 507.4 2779.3 507.7 2788.2 508 2777.9 508.5 2820.7 508.7 2788.4 509 2815.1 509.5 2805.6 509.9 2811.9 510.1 2780.7 510.5 2809.2 510.9 2820.9 511.2 2817.9 511.5 2787.7 511.8 2788.9 512.2 2807.2 512.4 2809.8 512.8 2777.3 513.2 2778 513.5 2811.6 513.8 2806.7 514.3 2812.2 514.4 2797.3 514.8 2806.4 515.2 2811.9 515.5 2777.4 515.8 2805.8 516.3 2807.4 516.5 2800.1 516.8 2773.3 517.3 2800.8 517.6 2812.7 517.9 2778.6 518.2 2784.3 518.6 2802.7 518.8 2776.4 519.2 2764.8 519.7 2799.4 519.9 2769.9 520.3 2794.3 520.6 2782.7 521 2767.7 521.3 2800.4 521.6 2797.1 521.8 2798 522.3 2811.2 522.7 2797.2 522.8 2783.6 522.9 2790.4 523.3 2815.1 523.5 2813.1 523.9 2795.5 524.4 2769.7 524.7 2788.5 524.9 2790.9 525.3 2782 525.6 2794.4 525.9 2774.7 526.3 2763.2 526.6 2781 527 2795.7 527.4 2772.1 527.6 2787.9 528 2765.2 528.4 2751.5 528.6 2755.9 528.9 2778.9 529.3 2752.3 529.7 2753.4 530.1 2768.3 530.4 2794.4 530.7 2794.1 531 2757.6 531.4 2806 531.7 2773.8 532.1 2812.4 532.5 2800.6 532.8 2779.5 533.1 2797.7 533.4 2769.8 533.8 2805.1 534.1 2795.9 534.5 2793.2 534.8 2772.6 535.2 2760.6 535.5 2789.1 535.7 2764.7 536.2 2765.2 536.5 2775.4 536.8 2782.1 537 2797.5 537.5 2775.5 537.7 2769.8 538.1 2804.2 538.5 2787.5 538.8 2779.9 539.2 2809.4 539.5 2800.7 539.9 2810.5 540.2 2770 540.5 2808.4 540.8 2801.1 541.1 2768 541.4 2797.5 541.8 2789.3 542.2 2761.3 542.6 2788.6 542.8 2779.3 543.2 2779.2 543.3 2800.2 543.6 2804.1 544 2782.6 544.3 2787.9 544.5 2772.6 544.9 2797 545.2 2774.1 545.5 2799 546 2776.2 546.3 2787.7 546.5 2812.6 547 2802.5 547.3 2813.3 547.5 2790.6 548 2776.7 548.2 2773.7 548.5 2795.7 549 2802.2 549.3 2774.7 549.5 2797.6 550 2771.6 550.2 2785 550.7 2792.1 551 2749.5 551.3 2781.7 551.6 2781.8 552 2793.8 552.3 2757.5 552.6 2803.9 553 2778.8 553.4 2797.5 553.6 2775.3 553.9 2786 554.4 2757.4 554.7 2784.4 555.1 2749.5 555.4 2785.4 555.6 2762.3 556 2747.7 556.4 2778.6 556.7 2751.6 557 2753.5 557.4 2782.6 557.7 2743.9 558.1 2757.5 558.4 2748.5 558.7 2783.3 559 2776.8 559.3 2781.2 559.8 2776.7 560.1 2755.4 560.5 2777.8 560.7 2784.7 561.1 2747.3 561.4 2784.2 561.7 2740.1 562.2 2782.7 562.5 2754 562.9 2780.5 563 2782 563.4 2762.6 563.7 2768.4 563.7 2785 564 2779.3 564.5 2782.4 564.8 2800.8 565.2 2771.6 565.6 2791.9 565.8 2760.9 566.2 2799.9 566.4 2796.1 566.9 2804 567.1 2803.9 567.5 2773.9 567.8 2803.5 568.2 2803.3 568.5 2782.7 568.8 2772.4 569.3 2761.1 569.5 2775.9 569.9 2763.8 570.1 2761.5 570.5 2736.4 570.8 2769.4 571.2 2759.8 571.6 2772.4 571.9 2728.7 572.2 2748.5 572.6 2759.2 572.9 2767.4 573.2 2747.8 573.5 2792.2 574 2775 574.2 2774.5 574.5 2775.6 574.8 2751.8 575.3 2755.9 575.5 2753 576 2767.9 576.2 2725.7 576.6 2773.1 576.9 2740.3 577.3 2770 577.7 2766.6 577.9 2735.4 578.4 2782.5 578.7 2745.5 579 2760.4 579.4 2735 579.6 2758.4 579.9 2739.6 580.2 2722.2 580.7 2758.4 581.1 2711.9 581.4 2727.1 581.6 2737.9 582 2718.7 582.4 2718.9 582.7 2742 583 2741.8 583.3 2736.7 583.7 2745.7 584 2764.8 584.2 2774.9 584.3 2747.9 584.7 2779.2 585.1 2772.2 585.3 2761.2 585.7 2765.1 586.1 2792.7 586.3 2767.7 586.7 2772.4 587.1 2773.1 587.4 2769.2 587.7 2793.1 588.1 2789 588.4 2764.3 588.8 2741 589.2 2767.7 589.4 2770.3 589.8 2764.6 590 2778.7 590.1 2743.5 590.4 2736.4 590.8 2756.8 591.2 2739.5 591.5 2773 591.8 2777.4 592.1 2775.7 592.4 2758.9 592.9 2731 593.1 2740.3 593.4 2725.7 593.9 2739.2 594.1 2724.1 594.4 2750.5 594.9 2754.1 595.2 2723.1 595.5 2759 595.9 2761 596.1 2772 596.6 2741.1 596.9 2759.6 597.2 2776.2 597.5 2784.8 597.9 2756.7 598.3 2759.5 598.6 2756.9 598.8 2759.2 599.3 2747.5 599.7 2727.1 599.9 2769.7 600.3 2717.5 600.6 2751.1 600.9 2746.7 601.2 2739.8 601.6 2739.5 601.9 2711 602.2 2753.5 602.5 2768.9 602.9 2762.5 603.2 2774.2 603.6 2729.2 604 2774.4 604.4 2723.6 604.6 2757.7 604.9 2768.7 605.4 2768.5 605.7 2767.4 605.9 2775.6 606.2 2768.9 606.6 2762 607 2755.6 607.3 2753.3 607.7 2727.1 608.1 2781.5 608.3 2729.1 608.7 2768.5 609 2757.7 609.4 2774.8 609.8 2714.2 610 2760.9 610.3 2729 610.6 2736.1 610.8 2710.1 611 2721.9 611.4 2753.2 611.6 2728.6 612 2760.1 612.4 2761.1 612.7 2759 613.1 2760.9 613.5 2753.6 613.7 2723.6 614.1 2708.9 614.4 2738.7 614.8 2737.9 615.1 2759.9 615.4 2744.1 615.9 2754.2 616 2719.9 616.4 2712 616.8 2723 617.2 2718.1 617.5 2719.4 617.7 2720.4 618 2748.6 618.4 2770.9 618.7 2750.7 619.1 2744.4 619.5 2758.1 619.8 2757.7 620.2 2758.6 620.6 2777.2 620.8 2723.6 621.2 2738.5 621.5 2733.2 621.8 2746.8 622.1 2753.2 622.4 2781.9 622.9 2772.6 623.2 2784.1 623.5 2769.1 623.9 2784.8 624.2 2784.6 624.5 2784.4 624.8 2784.1 625.1 2777.7 625.6 2759.5 626 2755.9 626.2 2715.6 626.5 2756.3 626.8 2718.8 627.3 2718.1 627.7 2725.8 627.9 2753.5 628.3 2715.4 628.6 2741.8 629 2754.2 629.2 2697.5 629.7 2755.6 630 2702.6 630.4 2727.5 630.7 2721.1 630.9 2734.6 631 2703.3 631.4 2759.5 631.7 2749.4 631.9 2749.7 632.4 2765.3 632.6 2748.6 632.9 2769.3 633.3 2779.5 633.6 2755.7 634 2720.1 634.3 2735.9 634.6 2747.6 634.9 2735.5 635.4 2745.9 635.7 2740.3 635.9 2707.5 636.4 2760.8 636.6 2758.6 637.1 2709.2 637.4 2741.2 637.7 2765 638.1 2743 638.5 2709.1 638.7 2718.4 639.1 2738 639.3 2716.8 639.8 2729.4 640.1 2741.2 640.5 2755.6 640.7 2754.8 641 2770.9 641.3 2721.3 641.8 2751.3 642.1 2727.3 642.5 2683.8 642.8 2714.2 643 2730.6 643.4 2676.3 643.8 2712.1 644.1 2682.9 644.4 2677.1 644.8 2737.4 645.2 2697.7 645.6 2705.2 645.7 2698.1 646.1 2724.4 646.4 2696.4 646.7 2741.8 647.1 2749.9 647.4 2692.5 647.9 2703 648.2 2744.2 648.6 2710.1 648.8 2717.8 649.1 2731.7 649.5 2698.2 649.7 2726.6 650.1 2696.8 650.6 2718.8 650.8 2701.2 651.2 2746.2 651.4 2705.9 651.5 2690.8 652 2685.2 652.2 2693.9 652.6 2698.5 653 2742.7 653.1 2747 653.6 2700.1 653.9 2736.2 654.2 2743.5 654.5 2697 654.9 2734.8 655.3 2743.7 655.5 2684 656 2746.2 656.2 2760.4 656.6 2770.9 656.9 2725.1 657.2 2745 657.7 2740.2 657.8 2748.5 658.3 2706.3 658.6 2707.7 659 2714.2 659.4 2690.6 659.6 2735.6 660 2727.5 660.4 2690.6 660.7 2710 661 2699.4 661.3 2757.2 661.6 2770.9 662 2750.9 662.3 2737.7 662.6 2750.8 663 2735.4 663.4 2745.9 663.7 2736.8 664 2734.2 664.3 2738.6 664.6 2740.4 664.9 2757.5 665.5 2720.5 665.7 2749 666.1 2714.9 666.3 2697.5 666.7 2721.1 667 2711.6 667.3 2683.7 667.8 2706.6 668.1 2700.2 668.4 2707.1 668.7 2723.7 669 2688.2 669.4 2677.8 669.7 2692.3 670.2 2745 670.4 2727.3 670.8 2695.1 671.1 2736.2 671.4 2707 671.7 2706.8 672 2707.5 672 2732.8 672.5 2737 672.9 2720.4 673.2 2690.6 673.4 2744.4 673.8 2760.4 674.2 2700.3 674.5 2700 674.9 2743.9 675.1 2712 675.5 2703.7 675.8 2704.8 676.1 2714.9 676.4 2716.9 676.8 2706.9 677.2 2717.9 677.6 2723.1 677.9 2730 678.2 2761.7 678.5 2721.4 678.8 2707.8 679.2 2720.5 679.6 2707.8 680 2684.2 680.2 2690.5 680.5 2690.8 680.9 2722.3 681.2 2703.1 681.5 2732.6 681.9 2732.3 682.3 2744.4 682.5 2705.5 682.9 2704.9 683.3 2736.1 683.5 2755.4 684 2704.8 684.3 2752.9 684.6 2724.4 685 2723.6 685.2 2755.2 685.5 2718.1 686 2725.2 686.4 2720.8 686.7 2745.8 687 2716.3 687.4 2716.4 687.6 2714.6 688 2748.5 688.3 2731.4 688.5 2709.4 688.6 2737.8 689 2681.8 689.2 2719.5 689.7 2671.6 689.9 2711.3 690.5 2716 690.6 2728.4 691.1 2738.4 691.4 2734.5 691.7 2706.9 692 2742.5 692.4 2749.4 692.6 2736.5 693.1 2725.1 693.3 2707.5 693.8 2724.1 694 2708.8 694.3 2708.8 694.8 2699.1 695 2752 695.5 2747 695.7 2757.5 696 2734.8 696.4 2714.5 696.8 2705.5 697 2741.1 697.4 2736.6 697.7 2713.5 698.1 2701.6 698.2 2728.7 699.7 2568.7 701.7 2732.4 701.9 2765.7 702.2 2755.6 702.5 2728.7 702.9 2721.2 703.3 2762 703.6 2696.3 703.8 2728 704.2 2764 704.6 2766.5 704.8 2755.9 705.1 2770.3 705.5 2746.2 705.8 2736.8 706.2 2753.5 706.5 2742 706.9 2783 707.2 2783.3 707.5 2738.4 708 2742.1 708.2 2784 708.7 2725.1 709 2705.3 709.3 2727.2 709.5 2707.2 709.9 2727.6 710.3 2740.7 710.7 2721.8 710.9 2707.2 711.4 2732.5 711.6 2734 711.9 2761.2 712.4 2722.8 712.6 2722.3 713 2722.7 713 2770.9 713.4 2717.9 713.5 2715.3 713.9 2706.5 714.2 2706.3 714.6 2702 715 2700.4 715.3 2736.9 715.8 2757 716 2776.4 716.3 2723 716.7 2747.9 716.9 2743.8 717.4 2779.5 717.7 2748.6 718.1 2763.1 718.4 2751.4 718.8 2783.2 719.1 2730.8 719.5 2740 719.6 2770.4 720.1 2722 720.4 2744 720.7 2730.4 721 2773.6 721.3 2708 721.7 2711.4 722.1 2714.9 722.4 2711.9 722.7 2717.9 723.1 2755.7 723.4 2730.4 723.8 2761.9 724 2724.1 724.4 2741.7 724.8 2739.5 725.2 2727.8 725.5 2703.8 725.8 2711 726.1 2684.9 726.5 2729.6 726.8 2728.4 727.1 2713.1 727.5 2716.4 727.9 2703.3 728.1 2731.7 728.5 2753.8 728.8 2751.7 729.2 2735.8 729.4 2759.4 729.8 2771.1 730.3 2768.8 730.4 2752.1 730.9 2752.2 731.2 2750.4 731.5 2766.8 731.9 2711 732.3 2764.6 732.5 2736.2 732.8 2766 733.3 2728.6 733.5 2712.5 733.6 2736.8 734 2716.8 734.3 2684.6 734.6 2676.8 735 2690.6 735.3 2715.5 735.7 2733.7 735.8 2713.5 736.2 2730.6 736.5 2769.1 736.9 2771.6 737.3 2748.2 737.6 2751.7 737.9 2750.8 738.3 2734.6 738.7 2711.9 739 2737.4 739.2 2695.6 739.5 2731.5 740.1 2732.3 740.3 2698.9 740.7 2756.9 740.9 2736.6 741.3 2730.6 741.7 2727.1 742 2718.5 742.3 2772.4 742.6 2773.8 743 2774.8 743.2 2774.9 743.7 2747.8 744 2775.3 744.3 2765.9 744.7 2748.5 745 2759 745.3 2744.4 745.7 2717.5 745.8 2754.2 746 2700.7 746.3 2766.5 746.8 2775 747.1 2741.6 747.3 2742 747.8 2751.2 748.1 2778.4 748.4 2757.1 748.7 2714.6 749.2 2696.9 749.5 2689.6 749.8 2750.6 750.1 2739.2 750.4 2680.3 750.8 2740.7 751.1 2709.5 751.4 2753.9 751.8 2754.7 752.1 2758.1 752.4 2787.8 752.9 2788.6 753.1 2785.8 753.6 2789.8 753.8 2783 754.1 2773.2 754.5 2786.3 754.9 2743.9 755.2 2718.3 755.5 2719.5 755.9 2747.5 756.2 2747.8 756.5 2707.4 756.8 2769.6 757.2 2769.8 757.4 2710 757.9 2717.4 758.2 2737.8 758.6 2763.1 758.8 2783.4 759.2 2769.1 759.6 2731.8 759.9 2728.5 760.1 2769.3 760.6 2714.1 760.8 2711 761.2 2730.6 761.6 2725.2 761.8 2734.2 762.3 2755.4 762.6 2728.4 762.9 2754.8 763.2 2759.8 763.5 2735.2 763.9 2748 764.1 2780 764.2 2771 764.7 2745 765 2778.2 765.2 2776.8 765.5 2781.1 765.9 2790.7 766.3 2742.7 766.7 2759.1 767 2764.6 767.4 2735.4 767.6 2747.3 767.9 2774.6 768.3 2762.7 768.7 2773.5 768.9 2717.3 769.2 2772.1 769.6 2722.5 770 2699.1 770.4 2731.6 770.7 2738.8 771.1 2780.3 771.3 2742.8 771.7 2746 772.1 2748.3 772.3 2791.1 772.8 2797.1 773.1 2761.6 773.4 2768.4 773.8 2734.1 774.1 2719.1 774.4 2716.1 774.8 2770.9 775.1 2770.1 775.5 2780.5 775.7 2786.4 776.2 2774.5 776.5 2767.3 776.7 2733.2 777.1 2719.2 777.5 2736.7 777.8 2762.5 778.1 2785.4 778.5 2767.1 778.8 2773.9 779.2 2770 779.5 2726.6 779.7 2734.8 780.1 2756.6 780.3 2783.3 780.5 2770.3 780.8 2767.8 781.2 2723.6 781.4 2767.4 781.8 2729.2 782.1 2745.5 782.5 2736.7 782.8 2741.2 783.2 2776.4 783.5 2779.7 783.8 2747.2 784.2 2758.8 784.5 2777 784.9 2760.2 785.2 2759.8 785.5 2762.7 785.9 2764.5 786.2 2762.2 786.5 2794.6 787 2766.5 787.3 2808.6 787.6 2791.9 787.9 2795.1 788.3 2807.7 788.5 2772.3 788.8 2804.6 789.3 2773.4 789.6 2803.7 789.9 2794.2 790.2 2789.7 790.6 2810.2 791 2791.1 791.3 2780.9 791.5 2788.7 791.8 2781.4 792.3 2755.8 792.7 2775.1 793 2789.1 793.2 2742.1 793.7 2768 793.9 2731.6 794.4 2767.7 794.7 2791.1 795 2790.4 795.4 2743.5 795.6 2798.5 795.9 2789 796.4 2800.1 796.6 2757.5 797 2766.8 797.3 2767.5 797.6 2738.1 798.1 2769.8 798.4 2786.6 798.7 2797.8 799.1 2784.7 799.4 2750 799.8 2783.6 799.9 2736 800.3 2745 800.8 2728 800.8 2768.9 801.1 2773 801.4 2783.7 801.6 2757.7 802 2742.2 802.5 2740.1 802.8 2732 803.1 2750.6 803.3 2712.2 803.7 2746.7 804 2747 804.4 2752 804.8 2761.7 805 2760.4 805.5 2781.8 805.7 2784.5 806.2 2777.3 806.4 2775.9 806.8 2758 807.2 2781.5 807.5 2737 807.9 2770.9 808.1 2757.4 808.5 2801.7 808.8 2802.9 809.2 2758.4 809.5 2773.9 809.7 2753.2 810.1 2779.4 810.5 2775.3 810.8 2804.6 811.2 2756.5 811.5 2783.5 811.9 2801.3 812.2 2747 812.6 2753.2 812.9 2799.6 813.2 2764.3 813.6 2738.3 814 2785.9 814.2 2737.1 814.5 2747.1 814.8 2783 815.2 2793.5 815.6 2782.5 815.9 2757.1 816.3 2733 816.6 2763 816.9 2726.6 817.3 2763.2 817.5 2785.5 817.9 2747.2 818.2 2790.7 818.5 2797.6 818.9 2818.6 819.3 2803.3 819.5 2821.6 820 2821.6 820.3 2821.7 820.6 2821.7 821 2816.8 821.3 2821.7 821.4 2804.3 821.5 2782.8 822.1 2804 822.4 2814.2 822.6 2806.1 823 2757.1 823.3 2804.2 823.7 2746.7 824 2748.5 824.3 2793.3 824.7 2769.8 825.1 2745.4 825.4 2778.9 825.6 2788.1 826 2781.8 826.4 2742.1 826.7 2743.4 827.1 2755.2 827.4 2799.7 827.6 2745.4 828.1 2782 828.4 2766.8 828.7 2784.3 829.1 2781.2 829.4 2814.5 829.7 2816.2 830.1 2778.1 830.3 2793.5 830.7 2755.1 831 2811.7 831.5 2807.5 831.8 2801.9 832.2 2803.1 832.5 2792.5 832.9 2826.7 833 2826.8 833.4 2826.9 833.8 2818.9 834.1 2791.1 834.6 2803.5 834.8 2814 835.2 2804.4 835.5 2799.7 835.8 2816.6 836.2 2815.2 836.6 2809.9 836.8 2799.5 837.1 2796 837.6 2782.1 837.8 2814.3 838.1 2795.7 838.5 2810.8 838.8 2812.3 839.1 2775.1 839.4 2775 839.8 2778.3 840.2 2780.2 840.3 2812.8 840.6 2813.6 840.8 2817 841.2 2821.9 841.5 2780.7 841.9 2817.6 842.2 2792.6 842.6 2787.6 842.8 2821.5 843.2 2793.3 843.6 2803.6 843.8 2795.2 843.8 2811 844.3 2821.2 844.7 2796.9 844.9 2816.9 845.2 2830.9 845.6 2800.7 845.9 2812.9 846.3 2798.9 846.7 2813.7 846.9 2823.1 847.3 2787.9 847.6 2817.6 847.7 2792.2 848.1 2817.7 848.3 2806 848.5 2796.3 849 2802.9 849.4 2782.9 849.7 2799.1 850 2762.9 850.3 2748.4 850.7 2743 851 2750.2 851.3 2749.4 851.6 2775.5 851.9 2790.2 852.3 2789.2 852.7 2767.4 853 2796.7 853.4 2754.2 853.7 2758.6 854 2762.8 854.1 2751.7 854.5 2759.8 854.7 2758.4 855 2786 855.3 2774.7 855.6 2756.3 856 2753 856.4 2769.7 856.8 2740.7 857 2747.1 857.5 2769.2 857.8 2758.7 858.1 2775.5 858.4 2754.6 858.7 2797.1 859.1 2775.7 859.4 2800.7 859.7 2804.3 860.1 2805.2 860.4 2778.5 860.9 2781.2 861 2799.2 861.5 2806.3 861.7 2803.2 862.1 2789.3 863.3 2653.2 864.8 2791 864.9 2817.8 865.2 2793.8 865.4 2812.2 865.8 2794.1 866.1 2783 866.5 2808.7 866.8 2804.5 867.2 2790.7 867.5 2810.6 867.9 2782.4 868.3 2774 868.6 2809 869 2779.6 869.3 2778.8 869.6 2800.6 870 2768.2 870.2 2767.2 870.6 2792.4 870.9 2793.2 871.2 2764.7 871.6 2783.4 872 2802.5 872.2 2778.7 872.6 2805.2 873 2775.2 873.3 2804.2 873.6 2806.8 873.9 2775.9 874.2 2779.5 874.6 2803.8 874.9 2784.3 875.3 2782.4 875.6 2800.4 875.9 2802.2 876.3 2765.3 876.7 2773.8 877 2804.8 877.3 2768.8 877.7 2802.9 878 2811.6 878.3 2788.7 878.6 2780.9 879.1 2816.6 879.4 2797.8 879.6 2819.1 879.9 2813.2 880.3 2814.9 880.7 2792.7 881 2814.5 881.3 2805.8 881.8 2812.2 882.1 2784.3 882.4 2809.7 882.6 2803.8 882.9 2786.7 883 2820.2 883.3 2796 883.7 2806 884.1 2773.6 884.4 2767.3 884.7 2781.9 885 2777.3 885.4 2761.1 885.8 2757.7 886.1 2756.3 886.4 2756.1 886.8 2778.5 887.1 2775.2 887.4 2771.8 887.7 2804.2 888.2 2794.3 888.5 2802.5 888.8 2804.8 889.1 2796.4 889.5 2771.8 889.7 2777.6 890.2 2804.6 890.6 2798.9 890.8 2787.6 891.2 2805 891.6 2814.6 891.9 2816.1 892.1 2805.3 892.6 2800.5 892.9 2803.2 893.3 2784.6 893.4 2806.3 893.8 2792.7 894.1 2805.8 894.5 2819.7 894.9 2804.4 895.3 2809.7 895.5 2815 895.9 2784.1 896.2 2784.7 896.6 2811.1 896.9 2802.5 897.3 2779 897.6 2803.2 897.9 2804 898.2 2802.9 898.7 2774.1 899 2801.8 899.2 2776.6 899.5 2769.4 900 2773.1 900.4 2771.1 900.7 2791.2 901 2786.7 901.2 2800.1 901.5 2807.5 901.9 2774.1 902.2 2797 902.7 2777.7 903 2809.6 903.2 2805.3 903.3 2808.4 903.7 2777.3 903.9 2796.8 904.3 2810.1 904.6 2788.4 905 2796.9 905.4 2774.4 905.7 2803.8 906.1 2812.3 906.3 2814.9 906.6 2793.7 906.9 2785.7 907.3 2812.9 907.6 2791.2 908 2807 908.4 2784.8 908.6 2787.9 909.1 2801.3 909.5 2800.1 909.8 2803.3 910 2805.2 910.5 2816.8 910.8 2813.9 911 2793.4 911.4 2800.3 911.7 2793.8 912 2802.8 912.4 2804.3 912.7 2807 913.1 2798.9 913.4 2783.6 913.9 2813.3 914.2 2788.7 914.5 2792.6 914.8 2790.8 915.1 2784.2 915.5 2789.1 915.7 2813.3 916.2 2783.7 916.4 2795 916.9 2809.3 917.1 2821.9 917.5 2803.9 917.9 2806.2 918.2 2798.6 918.5 2808 918.8 2813.5 919.2 2819.2 919.4 2792.2 919.8 2781.7 920.2 2792.6 920.5 2786.9 920.8 2769.2 921.2 2769.8 921.6 2774.3 921.8 2782.3 922.1 2776.8 922.5 2806.4 922.8 2775.8 923.3 2810.5 923.5 2807.8 923.8 2811.2 923.8 2795.4 924.3 2790.2 924.5 2798.9 924.8 2806.9 925.3 2809.5 925.5 2781.9 926 2791.5 926.2 2785.4 926.6 2795.1 926.9 2791.6 927.3 2786.9 927.7 2798.5 927.9 2822.1 928.2 2811.2 928.7 2812.1 928.9 2829.9 929.3 2810.7 929.7 2812.2 930.1 2811.8 930.3 2814.9 930.6 2803.1 931 2805.1 931.3 2804.8 931.7 2817.3 932 2809.6 932.2 2824.4 932.7 2803.2 933 2814.7 933.3 2818.6 933.6 2822.2 934.1 2817.4 934.4 2817.8 934.6 2816.5 935 2833.3 935.4 2813.7 935.8 2814.8 936 2816.5 936.3 2819.3 936.7 2833.5 937.1 2833.5 937.5 2833.5 937.7 2811.8 938 2833.6 938.4 2822.5 938.7 2833.6 939 2802.9 939.4 2811.6 939.7 2810.3 940 2821.3 940.4 2809.9 940.7 2792.3 941 2774.2 941.4 2811.5 941.7 2797.9 942.2 2805.5 942.5 2808.8 942.7 2783.1 943.1 2817.7 943.6 2810 943.8 2812.2 944.1 2793.1 944.2 2810.6 944.4 2793 944.8 2795 945.2 2824.4 945.6 2800.4 945.8 2819.7 946.3 2821.7 946.6 2816.8 946.9 2797.6 947.2 2813.4 947.5 2797 947.8 2812.3 948.2 2791.4 948.6 2812.6 949 2818.5 949.2 2830.5 949.6 2824.5 949.9 2816.4 950.3 2818.7 950.6 2824.3 950.9 2810.9 951.3 2828.2 951.6 2802.8 951.8 2813.8 952.3 2813 952.5 2809.6 952.9 2816.1 953.2 2809.6 953.6 2803.6 954 2782.8 954.3 2780.4 954.5 2809.7 954.9 2801.4 955.3 2780.6 955.6 2789.4 955.9 2808.2 956.3 2787.4 956.6 2820.2 957.1 2824.6 957.3 2822.3 957.6 2808.7 958 2802.3 958.4 2804.6 958.8 2814.5 959.1 2832.8 959.4 2828.1 959.7 2833.3 960 2831.6 960.3 2818.6 960.6 2826.7 961.1 2813 961.4 2834.6 961.7 2830.6 962 2827.1 962.3 2814.5 962.7 2825.6 963.1 2809.4 963.5 2828.9 963.7 2807 964.1 2803.2 964.5 2815.4 964.7 2800 965 2808.6 965.3 2803.6 965.8 2803.9 966.2 2831.9 966.5 2804.9 966.7 2830.6 967 2820.2 967.4 2809.4 967.5 2818.9 967.8 2818.9 968 2830.5 968.4 2811.8 968.8 2816.2 969.1 2792.9 969.4 2811.5 969.9 2812.5 970.1 2819.4 970.5 2792.6 970.9 2810.7 971.3 2828.4 971.5 2830.1 971.8 2811 972.2 2801 972.5 2801.6 972.8 2820.9 973.3 2809.4 973.4 2818.1 973.8 2818 974.2 2825.3 974.5 2834.2 974.8 2835.1 975.1 2833.1 975.6 2838.5 976 2811.1 976.2 2832.1 976.5 2826.9 977 2829.7 977.2 2825.1 977.6 2823.4 977.8 2797.4 978.2 2821.1 978.5 2794.1 978.9 2829.8 979.2 2820.8 979.5 2833.1 980 2820.5 980.2 2834.4 980.7 2809.2 981 2827.7 981.2 2828.9 981.7 2817.6 981.9 2826.1 982.2 2822.7 982.6 2834.8 983.1 2830.6 983.3 2805.8 983.7 2820.3 983.9 2818.1 984.3 2820.7 984.7 2822.4 985 2799.9 985.4 2810.1 985.7 2800.3 986.1 2807.2 986.3 2820.6 986.7 2826 987.1 2818.1 987.3 2838.5 987.6 2838.5 988.1 2830.2 988.4 2831.1 988.8 2838.5 989.1 2832.5 989.3 2826.3 989.8 2824.1 990 2838.5 990.4 2834.4 990.6 2836 991.1 2819.9 991.3 2836.9 991.6 2834.5 992.1 2823.3 992.3 2838.5 992.7 2820.7 993 2812.1 993.4 2828.8 993.8 2832.1 994.2 2818 994.5 2825.9 994.7 2837.5 995.1 2816.5 995.5 2819.5 995.8 2838.5 996.2 2825.4 996.5 2825.9 996.9 2814.6 997.2 2835.8 997.6 2808.3 997.7 2835.8 998.1 2823.9 998.5 2836 998.9 2819.6 999.2 2830.8 999.6 2838.5 999.8 2838.5 1000.2 2838.5 1000.5 2831 1000.8 2838.5 1001.2 2820 1001.6 2826 1001.9 2823.9 1002.1 2822.2 1002.6 2801.1 1002.8 2796.1 1003.1 2831.2 1003.5 2824.8 1003.9 2802.7 1004.2 2793.1 1004.5 2802.8 1005 2804 1005.2 2795.3 1005.6 2796.9 1005.9 2806 1006.2 2831.5 1006.7 2836.8 1007 2837.7 1007.3 2838.5 1007.6 2830.1 1007.9 2838.5 1008.3 2838.5 1008.7 2838.5 1008.8 2838.5 1009 2816.8 1009.2 2827.7 1009.6 2812.2 1009.9 2795.4 1010.3 2799.6 1010.5 2798.2 1010.9 2803.1 1011.4 2817.4 1011.6 2803.5 1012 2819.9 1012.4 2795.4 1012.6 2802.4 1012.9 2805.9 1013.3 2798 1013.8 2828.9 1014 2829.1 1014.4 2834 1014.6 2803.7 1015.1 2819.9 1015.3 2823.5 1015.7 2802.5 1016.1 2821.2 1016.4 2836.1 1016.8 2828.4 1017.1 2806.1 1017.3 2814.2 1017.6 2803.6 1018 2813.8 1018.4 2794.1 1018.7 2827.8 1019.2 2819.9 1019.4 2816.7 1019.7 2818.3 1020 2801.5 1020.5 2813.3 1020.8 2807 1021.2 2823 1021.4 2806.4 1021.7 2827.4 1022.1 2813.9 1022.4 2812.2 1022.7 2834.8 1023.1 2810 1023.4 2828.1 1023.8 2836.5 1024.1 2830.6 1024.6 2838.5 1024.8 2838.5 1025.2 2828 1025.5 2838.5 1025.7 2838.5 1026.1 2825.2 1026.4 2837.3 1026.9 2834.2 1027.1 2822.5 1027.6 2836.3 1027.9 2838.5 1028.3 2828.6 1028.6 2824.8 1029 2800.9 1029.2 2832.9 1029.6 2806.4 1029.8 2812.8 1030.3 2820.3 1030.6 2798.2 1030.8 2830.2 1031.3 2832.8 1031.6 2822.3 1031.8 2828.2 1032.2 2815.4 1032.6 2829.2 1032.9 2834 1033.2 2834.9 1033.6 2838.4 1033.9 2825 1034.3 2826.9 1034.7 2802.7 1034.9 2818.4 1035.3 2800.5 1035.6 2805.6 1035.9 2798.2 1036.3 2825.8 1036.6 2814.8 1036.9 2820.1 1037.4 2806.1 1037.7 2807.5 1038 2827.4 1038.3 2838.5 1038.6 2831.3 1039 2836.5 1039.4 2807.8 1039.6 2836.9 1040 2834.7 1040.3 2814.6 1040.6 2834.8 1041.1 2833 1041.3 2822 1041.6 2833.3 1042 2838.5 1042.4 2834.3 1042.7 2838.5 1043.1 2825.2 1043.3 2826.9 1043.8 2827.3 1044.1 2838.5 1044.4 2829.2 1044.6 2838.4 1045.1 2838.5 1045.4 2838.5 1045.8 2825.9 1046.1 2835.2 1046.5 2832 1046.8 2809 1047.1 2819.2 1047.5 2838.5 1047.7 2825.3 1048.1 2837.9 1048.5 2838.5 1048.8 2832 1049.2 2834.9 1049.4 2835.4 1049.9 2819.9 1050.1 2832.6 1050.1 2838.5 1050.4 2835.8 1050.7 2818.5 1051.1 2821.5 1051.5 2836.7 1051.9 2827.4 1052.1 2818.9 1052.5 2822.8 1052.9 2809 1053.3 2827 1053.5 2810.7 1053.8 2827 1054.2 2838.1 1054.6 2812.3 1054.9 2838.5 1055.3 2819.3 1055.5 2832.3 1055.8 2834 1056.2 2832.6 1056.5 2823.4 1056.9 2812.4 1057.3 2832.1 1057.6 2821.5 1057.8 2822 1058.2 2818.9 1058.6 2838.5 1058.8 2828.2 1059.2 2836.7 1059.5 2816.3 1060 2836.1 1060.2 2838.5 1060.6 2833.3 1060.8 2838.5 1061.3 2821.8 1061.6 2816.9 1061.9 2816.7 1062.3 2827.3 1062.7 2830.6 1063 2819.1 1063.3 2819.6 1063.6 2809.7 1064 2836.2 1064.3 2832.2 1064.7 2829.2 1064.9 2813.1 1065.3 2818.2 1065.6 2801 1065.9 2809.5 1066.3 2820.9 1066.7 2811.7 1067 2835.2 1067.3 2837.8 1067.7 2815.5 1068 2812.1 1068.4 2815.1 1068.8 2830.2 1069.1 2838.5 1069.4 2838.5 1069.7 2838.5 1070.1 2838.5 1070.4 2838.5 1070.6 2834.1 1071 2822.9 1071.3 2826.3 1071.7 2835.2 1072.1 2813.3 1072.3 2820.6 1072.7 2830.7 1073.1 2808.3 1073.5 2812.1 1073.8 2824.7 1074 2837.6 1074.5 2817.1 1074.8 2824.6 1075 2838.5 1075.5 2838.5 1075.8 2822.4 1076 2834.4 1076.4 2820.3 1076.7 2838.5 1077.1 2820.6 1077.4 2824.2 1077.8 2838.5 1078.1 2831.4 1078.5 2820.4 1078.8 2838.5 1079.1 2832.2 1079.4 2838.5 1079.8 2816.7 1080.1 2833.1 1080.6 2830.6 1080.9 2838.5 1081.3 2823 1081.4 2812.8 1081.8 2834.8 1082.2 2820.8 1082.5 2834.1 1082.9 2838.5 1083.2 2831.4 1083.4 2822.8 1083.9 2838.2 1084.2 2830.7 1084.5 2831.9 1084.9 2838.5 1085.2 2838.5 1085.5 2831.3 1085.8 2834.2 1086.3 2838.5 1086.6 2838.5 1086.8 2838.5 1087.1 2838.5 1087.7 2835.4 1087.9 2837.3 1088.3 2815.8 1088.7 2828.5 1088.9 2825.7 1089.2 2838.5 1089.7 2833.3 1090 2838.5 1090.3 2835.1 1090.6 2838.5 1091 2838.5 1091.3 2838.2 1091.3 2832.6 1091.7 2830 1091.9 2838.5 1092.3 2838.5 1092.7 2836.9 1093.1 2834.7 1093.4 2827.2 1093.7 2806.8 1094 2835.3 1094.4 2837.3 1094.6 2817.3 1095 2833.1 1095.3 2826.9 1095.7 2838.5 1096.1 2838.5 1096.3 2838.5 1096.6 2838.5 1096.7 2838.5" stroke="#000" stroke-width="2.7" fill="none" stroke-linejoin="miter" stroke-miterlimit="2.5"/><path d="M314 2808 314.4 2671.3 318.4 2671.3 318.4 2645.4 320.6 2645.4 320.6 2627.5 324.2 2627.5 324.4 2676.6 325.6 2760 325.8 2824 323.5 2826 321.5 2805 319 2822 316 2824Z" fill="#000"/><path d="M235.5 2546 238.2 2546 239.6 2580 241.8 2612 241.9 2678 246.8 2753 250.4 2796 254.5 2815 259 2832 256 2836 252 2820 248.5 2800 244.2 2756 239.8 2686 237.8 2624 235.2 2612 234.6 2580Z" fill="#000"/><path d="M226.4 2620 226.7 2446 229.5 2440 236.5 2445 236.8 2548 238.9 2575 241.2 2616 237.5 2622 234.5 2602 234 2560 231 2585 228.2 2640Z" fill="#000"/><text x="241" y="2277.4" font-size="34.6">Ti 372 +374 +376 nm</text><path d="M323.2 2312V2591.3" stroke="#5e5e5e" stroke-width="1.9"/><path d="M317.6 2589.3H328.8L324.3 2611.3H322.1Z" fill="#000"/><text x="344.8" y="2445.6" font-size="34.6">W 401 nm</text><path d="M356.4 2470V2649.4" stroke="#9c9c9c" stroke-width="2.8"/><path d="M350.8 2647.4H362L357.5 2669.4H355.3Z" fill="#000"/><text x="367" y="2494.8" font-size="34.6">W 407 nm</text><path d="M367.8 2515.5V2707.8" stroke="#9c9c9c" stroke-width="2.8"/><path d="M362.2 2705.8H373.4L368.9 2727.8H366.7Z" fill="#000"/><text x="396" y="2547.5" font-size="34.6">W 429 nm</text><text x="394.5" y="2590.6" font-size="34.6">+Ti 430 nm</text><path d="M394.8 2605.5V2633.8" stroke="#5e5e5e" stroke-width="1.9"/><path d="M389.2 2631.8H400.4L395.9 2653.8H393.7Z" fill="#000"/><text x="682.6" y="2532" font-size="39">H<tspan font-size="27" dy="11.5" dx="-1.5" font-family="Liberation Serif" font-style="italic">&#945;</tspan></text><text x="865.5" y="2628.5" font-size="37" text-anchor="middle">O</text><text x="987" y="2168" font-size="72" font-weight="bold">c</text></svg></body></html>
